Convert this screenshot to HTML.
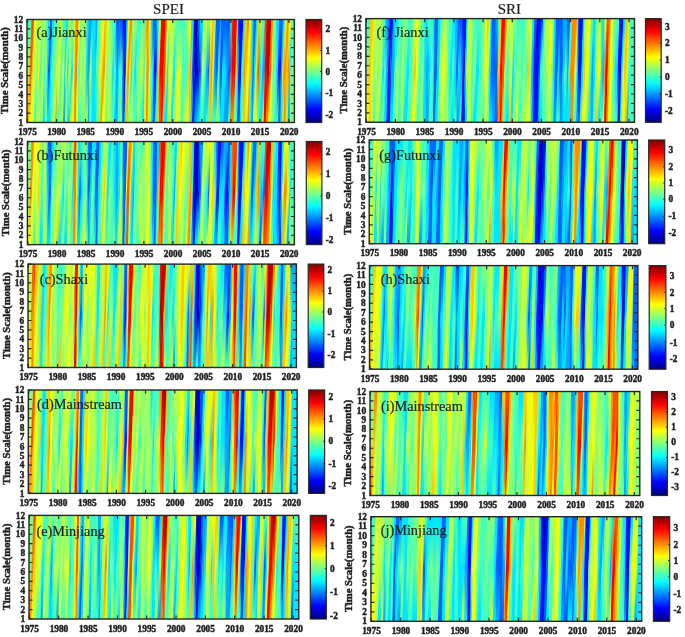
<!DOCTYPE html>
<html><head><meta charset="utf-8"><style>
html,body{margin:0;padding:0;background:#fff;}
body{width:685px;height:637px;overflow:hidden;position:relative;}
svg{position:absolute;left:0;top:0;filter:blur(0.3px);}
</style></head><body>
<svg width="685" height="637" viewBox="0 0 685 637">
<defs>
<filter id="bl" x="-5%" y="-5%" width="110%" height="110%"><feGaussianBlur stdDeviation="0.75"/></filter>
<filter id="tb" x="-5%" y="-5%" width="110%" height="110%"><feGaussianBlur stdDeviation="0.3"/></filter>
<linearGradient id="jet" x1="0" y1="1" x2="0" y2="0">

<stop offset="0.0000" stop-color="#000080"/>
<stop offset="0.0625" stop-color="#0000bf"/>
<stop offset="0.1250" stop-color="#0000ff"/>
<stop offset="0.1875" stop-color="#0040ff"/>
<stop offset="0.2500" stop-color="#0080ff"/>
<stop offset="0.3125" stop-color="#00bfff"/>
<stop offset="0.3750" stop-color="#00ffff"/>
<stop offset="0.4375" stop-color="#40ffbf"/>
<stop offset="0.5000" stop-color="#80ff80"/>
<stop offset="0.5625" stop-color="#bfff40"/>
<stop offset="0.6250" stop-color="#ffff00"/>
<stop offset="0.6875" stop-color="#ffbf00"/>
<stop offset="0.7500" stop-color="#ff8000"/>
<stop offset="0.8125" stop-color="#ff4000"/>
<stop offset="0.8750" stop-color="#ff0000"/>
<stop offset="0.9375" stop-color="#bf0000"/>
<stop offset="1.0000" stop-color="#800000"/>
</linearGradient>

<clipPath id="ca"><rect x="27" y="19.5" width="267.4" height="103"/></clipPath>
<linearGradient id="ga" gradientUnits="userSpaceOnUse" x1="0" y1="24" x2="0" y2="71"><stop offset="0" stop-color="#fff"/><stop offset="1" stop-color="#000"/></linearGradient>
<linearGradient id="ha" gradientUnits="userSpaceOnUse" x1="0" y1="71" x2="0" y2="118.5"><stop offset="0" stop-color="#000"/><stop offset="1" stop-color="#fff"/></linearGradient>
<mask id="na" maskUnits="userSpaceOnUse" x="0" y="0" width="685" height="637"><rect x="17" y="13.5" width="287.4" height="115" fill="url(#ha)"/></mask>
<mask id="ma" maskUnits="userSpaceOnUse" x="0" y="0" width="685" height="637"><rect x="17" y="13.5" width="287.4" height="115" fill="url(#ga)"/></mask>
<clipPath id="cb"><rect x="27.4" y="141.5" width="267" height="103.1"/></clipPath>
<linearGradient id="gb" gradientUnits="userSpaceOnUse" x1="0" y1="146" x2="0" y2="193.05"><stop offset="0" stop-color="#fff"/><stop offset="1" stop-color="#000"/></linearGradient>
<linearGradient id="hb" gradientUnits="userSpaceOnUse" x1="0" y1="193.05" x2="0" y2="240.6"><stop offset="0" stop-color="#000"/><stop offset="1" stop-color="#fff"/></linearGradient>
<mask id="nb" maskUnits="userSpaceOnUse" x="0" y="0" width="685" height="637"><rect x="17.4" y="135.5" width="287" height="115.1" fill="url(#hb)"/></mask>
<mask id="mb" maskUnits="userSpaceOnUse" x="0" y="0" width="685" height="637"><rect x="17.4" y="135.5" width="287" height="115.1" fill="url(#gb)"/></mask>
<clipPath id="cc"><rect x="28" y="264.1" width="268.4" height="103.4"/></clipPath>
<linearGradient id="gc" gradientUnits="userSpaceOnUse" x1="0" y1="268.6" x2="0" y2="315.8"><stop offset="0" stop-color="#fff"/><stop offset="1" stop-color="#000"/></linearGradient>
<linearGradient id="hc" gradientUnits="userSpaceOnUse" x1="0" y1="315.8" x2="0" y2="363.5"><stop offset="0" stop-color="#000"/><stop offset="1" stop-color="#fff"/></linearGradient>
<mask id="nc" maskUnits="userSpaceOnUse" x="0" y="0" width="685" height="637"><rect x="18" y="258.1" width="288.4" height="115.4" fill="url(#hc)"/></mask>
<mask id="mc" maskUnits="userSpaceOnUse" x="0" y="0" width="685" height="637"><rect x="18" y="258.1" width="288.4" height="115.4" fill="url(#gc)"/></mask>
<clipPath id="cd"><rect x="28.3" y="390" width="268.8" height="103.4"/></clipPath>
<linearGradient id="gd" gradientUnits="userSpaceOnUse" x1="0" y1="394.5" x2="0" y2="441.7"><stop offset="0" stop-color="#fff"/><stop offset="1" stop-color="#000"/></linearGradient>
<linearGradient id="hd" gradientUnits="userSpaceOnUse" x1="0" y1="441.7" x2="0" y2="489.4"><stop offset="0" stop-color="#000"/><stop offset="1" stop-color="#fff"/></linearGradient>
<mask id="nd" maskUnits="userSpaceOnUse" x="0" y="0" width="685" height="637"><rect x="18.3" y="384" width="288.8" height="115.4" fill="url(#hd)"/></mask>
<mask id="md" maskUnits="userSpaceOnUse" x="0" y="0" width="685" height="637"><rect x="18.3" y="384" width="288.8" height="115.4" fill="url(#gd)"/></mask>
<clipPath id="ce"><rect x="29" y="515.4" width="269.8" height="103.6"/></clipPath>
<linearGradient id="ge" gradientUnits="userSpaceOnUse" x1="0" y1="519.9" x2="0" y2="567.2"><stop offset="0" stop-color="#fff"/><stop offset="1" stop-color="#000"/></linearGradient>
<linearGradient id="he" gradientUnits="userSpaceOnUse" x1="0" y1="567.2" x2="0" y2="615"><stop offset="0" stop-color="#000"/><stop offset="1" stop-color="#fff"/></linearGradient>
<mask id="ne" maskUnits="userSpaceOnUse" x="0" y="0" width="685" height="637"><rect x="19" y="509.4" width="289.8" height="115.6" fill="url(#he)"/></mask>
<mask id="me" maskUnits="userSpaceOnUse" x="0" y="0" width="685" height="637"><rect x="19" y="509.4" width="289.8" height="115.6" fill="url(#ge)"/></mask>
<clipPath id="cf"><rect x="365.9" y="18.6" width="268.6" height="103.7"/></clipPath>
<linearGradient id="gf" gradientUnits="userSpaceOnUse" x1="0" y1="23.1" x2="0" y2="70.45"><stop offset="0" stop-color="#fff"/><stop offset="1" stop-color="#000"/></linearGradient>
<linearGradient id="hf" gradientUnits="userSpaceOnUse" x1="0" y1="70.45" x2="0" y2="118.3"><stop offset="0" stop-color="#000"/><stop offset="1" stop-color="#fff"/></linearGradient>
<mask id="nf" maskUnits="userSpaceOnUse" x="0" y="0" width="685" height="637"><rect x="355.9" y="12.6" width="288.6" height="115.7" fill="url(#hf)"/></mask>
<mask id="mf" maskUnits="userSpaceOnUse" x="0" y="0" width="685" height="637"><rect x="355.9" y="12.6" width="288.6" height="115.7" fill="url(#gf)"/></mask>
<clipPath id="cg"><rect x="369.2" y="140" width="268.2" height="103.7"/></clipPath>
<linearGradient id="gg" gradientUnits="userSpaceOnUse" x1="0" y1="144.5" x2="0" y2="191.85"><stop offset="0" stop-color="#fff"/><stop offset="1" stop-color="#000"/></linearGradient>
<linearGradient id="hg" gradientUnits="userSpaceOnUse" x1="0" y1="191.85" x2="0" y2="239.7"><stop offset="0" stop-color="#000"/><stop offset="1" stop-color="#fff"/></linearGradient>
<mask id="ng" maskUnits="userSpaceOnUse" x="0" y="0" width="685" height="637"><rect x="359.2" y="134" width="288.2" height="115.7" fill="url(#hg)"/></mask>
<mask id="mg" maskUnits="userSpaceOnUse" x="0" y="0" width="685" height="637"><rect x="359.2" y="134" width="288.2" height="115.7" fill="url(#gg)"/></mask>
<clipPath id="ch"><rect x="369.5" y="265.6" width="268.4" height="103.6"/></clipPath>
<linearGradient id="gh" gradientUnits="userSpaceOnUse" x1="0" y1="270.1" x2="0" y2="317.4"><stop offset="0" stop-color="#fff"/><stop offset="1" stop-color="#000"/></linearGradient>
<linearGradient id="hh" gradientUnits="userSpaceOnUse" x1="0" y1="317.4" x2="0" y2="365.2"><stop offset="0" stop-color="#000"/><stop offset="1" stop-color="#fff"/></linearGradient>
<mask id="nh" maskUnits="userSpaceOnUse" x="0" y="0" width="685" height="637"><rect x="359.5" y="259.6" width="288.4" height="115.6" fill="url(#hh)"/></mask>
<mask id="mh" maskUnits="userSpaceOnUse" x="0" y="0" width="685" height="637"><rect x="359.5" y="259.6" width="288.4" height="115.6" fill="url(#gh)"/></mask>
<clipPath id="ci"><rect x="370" y="391.5" width="269.8" height="104"/></clipPath>
<linearGradient id="gi" gradientUnits="userSpaceOnUse" x1="0" y1="396" x2="0" y2="443.5"><stop offset="0" stop-color="#fff"/><stop offset="1" stop-color="#000"/></linearGradient>
<linearGradient id="hi" gradientUnits="userSpaceOnUse" x1="0" y1="443.5" x2="0" y2="491.5"><stop offset="0" stop-color="#000"/><stop offset="1" stop-color="#fff"/></linearGradient>
<mask id="ni" maskUnits="userSpaceOnUse" x="0" y="0" width="685" height="637"><rect x="360" y="385.5" width="289.8" height="116" fill="url(#hi)"/></mask>
<mask id="mi" maskUnits="userSpaceOnUse" x="0" y="0" width="685" height="637"><rect x="360" y="385.5" width="289.8" height="116" fill="url(#gi)"/></mask>
<clipPath id="cj"><rect x="370.9" y="516.7" width="270.8" height="104.6"/></clipPath>
<linearGradient id="gj" gradientUnits="userSpaceOnUse" x1="0" y1="521.2" x2="0" y2="569"><stop offset="0" stop-color="#fff"/><stop offset="1" stop-color="#000"/></linearGradient>
<linearGradient id="hj" gradientUnits="userSpaceOnUse" x1="0" y1="569" x2="0" y2="617.3"><stop offset="0" stop-color="#000"/><stop offset="1" stop-color="#fff"/></linearGradient>
<mask id="nj" maskUnits="userSpaceOnUse" x="0" y="0" width="685" height="637"><rect x="360.9" y="510.7" width="290.8" height="116.6" fill="url(#hj)"/></mask>
<mask id="mj" maskUnits="userSpaceOnUse" x="0" y="0" width="685" height="637"><rect x="360.9" y="510.7" width="290.8" height="116.6" fill="url(#gj)"/></mask>
</defs>

<g clip-path="url(#ca)"><g filter="url(#bl)">
<g transform="translate(0 71) skewX(-1.78) translate(0 -71)"><rect x="19" y="15.5" width="10.5" height="111" fill="#bdff42"/><rect x="29.2" y="15.5" width="1.5" height="111" fill="#ff8a00"/><rect x="30.4" y="15.5" width="1.6" height="111" fill="#ff4c00"/><rect x="31.7" y="15.5" width="1.5" height="111" fill="#ffc700"/><rect x="32.9" y="15.5" width="3.7" height="111" fill="#bdff42"/><rect x="36.3" y="15.5" width="1.8" height="111" fill="#80ff80"/><rect x="37.8" y="15.5" width="1.7" height="111" fill="#f0ff0f"/><rect x="39.2" y="15.5" width="2.8" height="111" fill="#42ffbd"/><rect x="41.7" y="15.5" width="2.2" height="111" fill="#bdff42"/><rect x="43.6" y="15.5" width="1.8" height="111" fill="#42ffbd"/><rect x="45.1" y="15.5" width="1.8" height="111" fill="#bdff42"/><rect x="46.6" y="15.5" width="1.7" height="111" fill="#00e5ff"/><rect x="48" y="15.5" width="2.3" height="111" fill="#0061ff"/><rect x="50" y="15.5" width="1.8" height="111" fill="#00e5ff"/><rect x="51.5" y="15.5" width="2.2" height="111" fill="#42ffbd"/><rect x="53.4" y="15.5" width="3.3" height="111" fill="#80ff80"/><rect x="56.4" y="15.5" width="2.2" height="111" fill="#bdff42"/><rect x="58.3" y="15.5" width="2.3" height="111" fill="#f0ff0f"/><rect x="60.3" y="15.5" width="2.2" height="111" fill="#42ffbd"/><rect x="62.2" y="15.5" width="2.3" height="111" fill="#bdff42"/><rect x="64.2" y="15.5" width="1.7" height="111" fill="#00e5ff"/><rect x="65.6" y="15.5" width="1.8" height="111" fill="#bdff42"/><rect x="67.1" y="15.5" width="1.8" height="111" fill="#00e5ff"/><rect x="68.6" y="15.5" width="2.7" height="111" fill="#bdff42"/><rect x="71" y="15.5" width="2.3" height="111" fill="#00e5ff"/><rect x="73" y="15.5" width="1.8" height="111" fill="#f0ff0f"/><rect x="74.5" y="15.5" width="2" height="111" fill="#ff8a00"/><rect x="76.2" y="15.5" width="1.1" height="111" fill="#ff4c00"/><rect x="77" y="15.5" width="1.3" height="111" fill="#f0ff0f"/><rect x="78" y="15.5" width="2.3" height="111" fill="#42ffbd"/><rect x="80" y="15.5" width="2.1" height="111" fill="#bdff42"/><rect x="81.8" y="15.5" width="2.3" height="111" fill="#80ff80"/><rect x="83.8" y="15.5" width="2.2" height="111" fill="#bdff42"/><rect x="85.7" y="15.5" width="1.8" height="111" fill="#00e5ff"/><rect x="87.2" y="15.5" width="2.7" height="111" fill="#00a8ff"/><rect x="89.6" y="15.5" width="2.2" height="111" fill="#bdff42"/><rect x="91.5" y="15.5" width="2.8" height="111" fill="#00e5ff"/><rect x="94" y="15.5" width="2.3" height="111" fill="#00e5ff"/><rect x="96" y="15.5" width="2.7" height="111" fill="#42ffbd"/><rect x="98.4" y="15.5" width="1.9" height="111" fill="#bdff42"/><rect x="100" y="15.5" width="1.6" height="111" fill="#f0ff0f"/><rect x="101.3" y="15.5" width="1.8" height="111" fill="#ffc700"/><rect x="102.8" y="15.5" width="2.3" height="111" fill="#ff8a00"/><rect x="104.8" y="15.5" width="1.7" height="111" fill="#f0ff0f"/><rect x="106.2" y="15.5" width="2.8" height="111" fill="#80ff80"/><rect x="108.7" y="15.5" width="1.8" height="111" fill="#bdff42"/><rect x="110.2" y="15.5" width="2.2" height="111" fill="#80ff80"/><rect x="112.1" y="15.5" width="2.2" height="111" fill="#00e5ff"/><rect x="114" y="15.5" width="2.3" height="111" fill="#42ffbd"/><rect x="116" y="15.5" width="2.3" height="111" fill="#00a8ff"/><rect x="118" y="15.5" width="1.7" height="111" fill="#00e5ff"/><rect x="119.4" y="15.5" width="3.3" height="111" fill="#42ffbd"/><rect x="122.4" y="15.5" width="1.7" height="111" fill="#0061ff"/><rect x="123.8" y="15.5" width="2.3" height="111" fill="#000fff"/><rect x="125.8" y="15.5" width="1.8" height="111" fill="#f0ff0f"/><rect x="127.3" y="15.5" width="2.2" height="111" fill="#ff8a00"/><rect x="129.2" y="15.5" width="1.8" height="111" fill="#f0ff0f"/><rect x="130.7" y="15.5" width="1.8" height="111" fill="#00e5ff"/><rect x="132.2" y="15.5" width="2.2" height="111" fill="#80ff80"/><rect x="134.1" y="15.5" width="2.3" height="111" fill="#00e5ff"/><rect x="136.1" y="15.5" width="2.2" height="111" fill="#42ffbd"/><rect x="138" y="15.5" width="2.3" height="111" fill="#80ff80"/><rect x="140" y="15.5" width="3.3" height="111" fill="#bdff42"/><rect x="143" y="15.5" width="2.2" height="111" fill="#42ffbd"/><rect x="144.9" y="15.5" width="1.8" height="111" fill="#f0ff0f"/><rect x="146.4" y="15.5" width="2.7" height="111" fill="#ff8a00"/><rect x="148.8" y="15.5" width="1.8" height="111" fill="#f0ff0f"/><rect x="150.3" y="15.5" width="2.2" height="111" fill="#42ffbd"/><rect x="152.2" y="15.5" width="1.8" height="111" fill="#00e5ff"/><rect x="153.7" y="15.5" width="3.2" height="111" fill="#000fff"/><rect x="156.6" y="15.5" width="1.8" height="111" fill="#00e5ff"/><rect x="158.1" y="15.5" width="1.6" height="111" fill="#ffc700"/><rect x="159.4" y="15.5" width="1.9" height="111" fill="#fa0000"/><rect x="161" y="15.5" width="2.7" height="111" fill="#fa0000"/><rect x="163.4" y="15.5" width="2.3" height="111" fill="#ff4c00"/><rect x="165.4" y="15.5" width="1.8" height="111" fill="#bdff42"/><rect x="166.9" y="15.5" width="1.7" height="111" fill="#00e5ff"/><rect x="168.3" y="15.5" width="2.3" height="111" fill="#bdff42"/><rect x="170.3" y="15.5" width="1.8" height="111" fill="#f0ff0f"/><rect x="171.8" y="15.5" width="1.7" height="111" fill="#80ff80"/><rect x="173.2" y="15.5" width="2.3" height="111" fill="#00e5ff"/><rect x="175.2" y="15.5" width="1.8" height="111" fill="#80ff80"/><rect x="176.7" y="15.5" width="2.7" height="111" fill="#f0ff0f"/><rect x="179.1" y="15.5" width="2.7" height="111" fill="#bdff42"/><rect x="181.5" y="15.5" width="7.2" height="111" fill="#42ffbd"/><rect x="188.4" y="15.5" width="1.8" height="111" fill="#ffc700"/><rect x="189.9" y="15.5" width="1.2" height="111" fill="#ff8a00"/><rect x="190.8" y="15.5" width="1.5" height="111" fill="#42ffbd"/><rect x="192" y="15.5" width="1.3" height="111" fill="#0061ff"/><rect x="193" y="15.5" width="1.8" height="111" fill="#000fff"/><rect x="194.5" y="15.5" width="4" height="111" fill="#0000bd"/><rect x="198.2" y="15.5" width="1.8" height="111" fill="#000fff"/><rect x="199.7" y="15.5" width="1.6" height="111" fill="#0061ff"/><rect x="201" y="15.5" width="1.3" height="111" fill="#00e5ff"/><rect x="202" y="15.5" width="2.4" height="111" fill="#bdff42"/><rect x="204.1" y="15.5" width="2.2" height="111" fill="#42ffbd"/><rect x="206" y="15.5" width="2.3" height="111" fill="#00a8ff"/><rect x="208" y="15.5" width="1.7" height="111" fill="#0061ff"/><rect x="209.4" y="15.5" width="1.8" height="111" fill="#ffc700"/><rect x="210.9" y="15.5" width="1.8" height="111" fill="#ff8a00"/><rect x="212.4" y="15.5" width="1.7" height="111" fill="#f0ff0f"/><rect x="213.8" y="15.5" width="1.8" height="111" fill="#00a8ff"/><rect x="215.3" y="15.5" width="2.8" height="111" fill="#0061ff"/><rect x="217.8" y="15.5" width="2.2" height="111" fill="#42ffbd"/><rect x="219.7" y="15.5" width="2.8" height="111" fill="#0061ff"/><rect x="222.2" y="15.5" width="3.7" height="111" fill="#00e5ff"/><rect x="225.6" y="15.5" width="2.7" height="111" fill="#00a8ff"/><rect x="228" y="15.5" width="2.9" height="111" fill="#0061ff"/><rect x="230.6" y="15.5" width="1.3" height="111" fill="#ff4c00"/><rect x="231.6" y="15.5" width="4.2" height="111" fill="#fa0000"/><rect x="235.5" y="15.5" width="1.6" height="111" fill="#ffc700"/><rect x="236.8" y="15.5" width="1.8" height="111" fill="#00e5ff"/><rect x="238.3" y="15.5" width="3.2" height="111" fill="#000fff"/><rect x="241.2" y="15.5" width="2.8" height="111" fill="#42ffbd"/><rect x="243.7" y="15.5" width="1.7" height="111" fill="#ff8a00"/><rect x="245.1" y="15.5" width="1.8" height="111" fill="#ffc700"/><rect x="246.6" y="15.5" width="2.7" height="111" fill="#f0ff0f"/><rect x="249" y="15.5" width="2.3" height="111" fill="#ffc700"/><rect x="251" y="15.5" width="1.8" height="111" fill="#00e5ff"/><rect x="252.5" y="15.5" width="1.7" height="111" fill="#0061ff"/><rect x="253.9" y="15.5" width="1.8" height="111" fill="#00e5ff"/><rect x="255.4" y="15.5" width="1.8" height="111" fill="#bdff42"/><rect x="256.9" y="15.5" width="1.2" height="111" fill="#ff8a00"/><rect x="257.8" y="15.5" width="1.8" height="111" fill="#ff4c00"/><rect x="259.3" y="15.5" width="1.8" height="111" fill="#00e5ff"/><rect x="260.8" y="15.5" width="1.7" height="111" fill="#42ffbd"/><rect x="262.2" y="15.5" width="2.8" height="111" fill="#00a8ff"/><rect x="264.7" y="15.5" width="2.2" height="111" fill="#fa0000"/><rect x="266.6" y="15.5" width="2.8" height="111" fill="#bd0000"/><rect x="269.1" y="15.5" width="2.2" height="111" fill="#ff4c00"/><rect x="271" y="15.5" width="1.8" height="111" fill="#f0ff0f"/><rect x="272.5" y="15.5" width="1.8" height="111" fill="#42ffbd"/><rect x="274" y="15.5" width="2.3" height="111" fill="#80ff80"/><rect x="276" y="15.5" width="2.2" height="111" fill="#00e5ff"/><rect x="277.9" y="15.5" width="3.2" height="111" fill="#000fff"/><rect x="280.8" y="15.5" width="1.8" height="111" fill="#00a8ff"/><rect x="282.3" y="15.5" width="1.3" height="111" fill="#f0ff0f"/><rect x="283.3" y="15.5" width="2.7" height="111" fill="#ff8a00"/><rect x="285.7" y="15.5" width="2.3" height="111" fill="#ffc700"/><rect x="287.7" y="15.5" width="1.8" height="111" fill="#ff8a00"/><rect x="289.2" y="15.5" width="1.7" height="111" fill="#00e5ff"/><rect x="290.6" y="15.5" width="12.1" height="111" fill="#80ff80"/></g>
<g mask="url(#ma)">
<g transform="translate(0 24) skewX(-1.78) translate(0 -24)"><rect x="19" y="15.5" width="12.7" height="111" fill="#42ffbd"/><rect x="31.4" y="15.5" width="2.7" height="111" fill="#ff4c00"/><rect x="33.8" y="15.5" width="2.3" height="111" fill="#f0ff0f"/><rect x="35.8" y="15.5" width="6.2" height="111" fill="#bdff42"/><rect x="41.7" y="15.5" width="2.7" height="111" fill="#80ff80"/><rect x="44.1" y="15.5" width="2.2" height="111" fill="#bdff42"/><rect x="46" y="15.5" width="2.3" height="111" fill="#42ffbd"/><rect x="48" y="15.5" width="2.3" height="111" fill="#00e5ff"/><rect x="50" y="15.5" width="2.3" height="111" fill="#0061ff"/><rect x="52" y="15.5" width="2.2" height="111" fill="#00e5ff"/><rect x="53.9" y="15.5" width="2.8" height="111" fill="#42ffbd"/><rect x="56.4" y="15.5" width="3.2" height="111" fill="#80ff80"/><rect x="59.3" y="15.5" width="2.3" height="111" fill="#bdff42"/><rect x="61.3" y="15.5" width="2.2" height="111" fill="#80ff80"/><rect x="63.2" y="15.5" width="3.2" height="111" fill="#42ffbd"/><rect x="66.1" y="15.5" width="2.3" height="111" fill="#00e5ff"/><rect x="68.1" y="15.5" width="3.2" height="111" fill="#bdff42"/><rect x="71" y="15.5" width="2.3" height="111" fill="#42ffbd"/><rect x="73" y="15.5" width="2.7" height="111" fill="#f0ff0f"/><rect x="75.4" y="15.5" width="3.3" height="111" fill="#ff8a00"/><rect x="78.4" y="15.5" width="2.2" height="111" fill="#f0ff0f"/><rect x="80.3" y="15.5" width="2.8" height="111" fill="#80ff80"/><rect x="82.8" y="15.5" width="2.2" height="111" fill="#bdff42"/><rect x="84.7" y="15.5" width="2.3" height="111" fill="#80ff80"/><rect x="86.7" y="15.5" width="2.2" height="111" fill="#00e5ff"/><rect x="88.6" y="15.5" width="3.3" height="111" fill="#00a8ff"/><rect x="91.6" y="15.5" width="2.7" height="111" fill="#00e5ff"/><rect x="94" y="15.5" width="1.8" height="111" fill="#00e5ff"/><rect x="95.5" y="15.5" width="2.2" height="111" fill="#00a8ff"/><rect x="97.4" y="15.5" width="2.8" height="111" fill="#42ffbd"/><rect x="99.9" y="15.5" width="3.2" height="111" fill="#bdff42"/><rect x="102.8" y="15.5" width="2" height="111" fill="#f0ff0f"/><rect x="104.5" y="15.5" width="2.5" height="111" fill="#ffc700"/><rect x="106.7" y="15.5" width="3.3" height="111" fill="#bdff42"/><rect x="109.7" y="15.5" width="2.6" height="111" fill="#80ff80"/><rect x="112" y="15.5" width="4.3" height="111" fill="#42ffbd"/><rect x="116" y="15.5" width="3.7" height="111" fill="#0061ff"/><rect x="119.4" y="15.5" width="3.3" height="111" fill="#0061ff"/><rect x="122.4" y="15.5" width="4.2" height="111" fill="#000fff"/><rect x="126.3" y="15.5" width="2" height="111" fill="#00e5ff"/><rect x="128" y="15.5" width="2" height="111" fill="#f0ff0f"/><rect x="129.7" y="15.5" width="2.8" height="111" fill="#ff8a00"/><rect x="132.2" y="15.5" width="2.2" height="111" fill="#bdff42"/><rect x="134.1" y="15.5" width="3.2" height="111" fill="#80ff80"/><rect x="137" y="15.5" width="4.3" height="111" fill="#42ffbd"/><rect x="141" y="15.5" width="2.3" height="111" fill="#80ff80"/><rect x="143" y="15.5" width="2.2" height="111" fill="#42ffbd"/><rect x="144.9" y="15.5" width="1.8" height="111" fill="#ffc700"/><rect x="146.4" y="15.5" width="2.7" height="111" fill="#ff8a00"/><rect x="148.8" y="15.5" width="2.3" height="111" fill="#f0ff0f"/><rect x="150.8" y="15.5" width="2.2" height="111" fill="#00e5ff"/><rect x="152.7" y="15.5" width="4.2" height="111" fill="#0061ff"/><rect x="156.6" y="15.5" width="2.3" height="111" fill="#00e5ff"/><rect x="158.6" y="15.5" width="2.7" height="111" fill="#bdff42"/><rect x="161" y="15.5" width="4.7" height="111" fill="#fa0000"/><rect x="165.4" y="15.5" width="1.8" height="111" fill="#ff8a00"/><rect x="166.9" y="15.5" width="2.2" height="111" fill="#f0ff0f"/><rect x="168.8" y="15.5" width="5.2" height="111" fill="#bdff42"/><rect x="173.7" y="15.5" width="3.3" height="111" fill="#80ff80"/><rect x="176.7" y="15.5" width="4.2" height="111" fill="#42ffbd"/><rect x="180.6" y="15.5" width="4.7" height="111" fill="#42ffbd"/><rect x="185" y="15.5" width="3.7" height="111" fill="#80ff80"/><rect x="188.4" y="15.5" width="3.2" height="111" fill="#f0ff0f"/><rect x="191.3" y="15.5" width="2.8" height="111" fill="#00e5ff"/><rect x="193.8" y="15.5" width="4.2" height="111" fill="#0000bd"/><rect x="197.7" y="15.5" width="2.3" height="111" fill="#0061ff"/><rect x="199.7" y="15.5" width="3.7" height="111" fill="#00e5ff"/><rect x="203.1" y="15.5" width="4.2" height="111" fill="#bdff42"/><rect x="207" y="15.5" width="3.3" height="111" fill="#80ff80"/><rect x="210" y="15.5" width="2.2" height="111" fill="#f0ff0f"/><rect x="211.9" y="15.5" width="2.7" height="111" fill="#ffc700"/><rect x="214.3" y="15.5" width="1.8" height="111" fill="#80ff80"/><rect x="215.8" y="15.5" width="4.5" height="111" fill="#0061ff"/><rect x="220" y="15.5" width="1.3" height="111" fill="#00a8ff"/><rect x="221" y="15.5" width="7.3" height="111" fill="#0061ff"/><rect x="228" y="15.5" width="2.3" height="111" fill="#0061ff"/><rect x="230" y="15.5" width="1.3" height="111" fill="#00e5ff"/><rect x="231" y="15.5" width="1.7" height="111" fill="#ff8a00"/><rect x="232.4" y="15.5" width="4.7" height="111" fill="#fa0000"/><rect x="236.8" y="15.5" width="1" height="111" fill="#f0ff0f"/><rect x="237.5" y="15.5" width="1.1" height="111" fill="#00e5ff"/><rect x="238.3" y="15.5" width="5.2" height="111" fill="#000fff"/><rect x="243.2" y="15.5" width="1.7" height="111" fill="#00e5ff"/><rect x="244.6" y="15.5" width="2.8" height="111" fill="#ffc700"/><rect x="247.1" y="15.5" width="2.2" height="111" fill="#ff8a00"/><rect x="249" y="15.5" width="2.8" height="111" fill="#f0ff0f"/><rect x="251.5" y="15.5" width="2.2" height="111" fill="#00e5ff"/><rect x="253.4" y="15.5" width="2.8" height="111" fill="#0061ff"/><rect x="255.9" y="15.5" width="1.8" height="111" fill="#00e5ff"/><rect x="257.4" y="15.5" width="3.2" height="111" fill="#ffc700"/><rect x="260.3" y="15.5" width="1.8" height="111" fill="#bdff42"/><rect x="261.8" y="15.5" width="3.2" height="111" fill="#42ffbd"/><rect x="264.7" y="15.5" width="2.2" height="111" fill="#ff4c00"/><rect x="266.6" y="15.5" width="4.7" height="111" fill="#bd0000"/><rect x="271" y="15.5" width="2.3" height="111" fill="#ff8a00"/><rect x="273" y="15.5" width="3.3" height="111" fill="#80ff80"/><rect x="276" y="15.5" width="3.2" height="111" fill="#00e5ff"/><rect x="278.9" y="15.5" width="4.2" height="111" fill="#0061ff"/><rect x="282.8" y="15.5" width="2.2" height="111" fill="#00e5ff"/><rect x="284.7" y="15.5" width="2.3" height="111" fill="#f0ff0f"/><rect x="286.7" y="15.5" width="2.3" height="111" fill="#ff8a00"/><rect x="288.7" y="15.5" width="2.6" height="111" fill="#f0ff0f"/><rect x="291" y="15.5" width="11.7" height="111" fill="#42ffbd"/></g>
</g>
<g mask="url(#na)">
<g transform="translate(0 118.5) skewX(-1.78) translate(0 -118.5)"><rect x="19" y="15.5" width="10.7" height="111" fill="#ffc700"/><rect x="29.4" y="15.5" width="4.7" height="111" fill="#f0ff0f"/><rect x="33.8" y="15.5" width="2.8" height="111" fill="#42ffbd"/><rect x="36.3" y="15.5" width="3.7" height="111" fill="#bdff42"/><rect x="39.7" y="15.5" width="1.8" height="111" fill="#80ff80"/><rect x="41.2" y="15.5" width="1.8" height="111" fill="#bdff42"/><rect x="42.7" y="15.5" width="2.7" height="111" fill="#00e5ff"/><rect x="45.1" y="15.5" width="1.8" height="111" fill="#bdff42"/><rect x="46.6" y="15.5" width="4.2" height="111" fill="#00e5ff"/><rect x="50.5" y="15.5" width="2.2" height="111" fill="#42ffbd"/><rect x="52.4" y="15.5" width="3.3" height="111" fill="#bdff42"/><rect x="55.4" y="15.5" width="1.3" height="111" fill="#ff8a00"/><rect x="56.4" y="15.5" width="3.2" height="111" fill="#42ffbd"/><rect x="59.3" y="15.5" width="2.3" height="111" fill="#80ff80"/><rect x="61.3" y="15.5" width="2.2" height="111" fill="#bdff42"/><rect x="63.2" y="15.5" width="2.3" height="111" fill="#00a8ff"/><rect x="65.2" y="15.5" width="2.2" height="111" fill="#bdff42"/><rect x="67.1" y="15.5" width="3.3" height="111" fill="#00e5ff"/><rect x="70.1" y="15.5" width="2.2" height="111" fill="#bdff42"/><rect x="72" y="15.5" width="2.3" height="111" fill="#f0ff0f"/><rect x="74" y="15.5" width="2.2" height="111" fill="#ff8a00"/><rect x="75.9" y="15.5" width="2.3" height="111" fill="#f0ff0f"/><rect x="77.9" y="15.5" width="3.2" height="111" fill="#42ffbd"/><rect x="80.8" y="15.5" width="5.2" height="111" fill="#80ff80"/><rect x="85.7" y="15.5" width="2.3" height="111" fill="#bdff42"/><rect x="87.7" y="15.5" width="1.7" height="111" fill="#00a8ff"/><rect x="89.1" y="15.5" width="2.8" height="111" fill="#42ffbd"/><rect x="91.6" y="15.5" width="2.7" height="111" fill="#00e5ff"/><rect x="94" y="15.5" width="2.3" height="111" fill="#00e5ff"/><rect x="96" y="15.5" width="2.3" height="111" fill="#42ffbd"/><rect x="98" y="15.5" width="2.7" height="111" fill="#80ff80"/><rect x="100.4" y="15.5" width="1.7" height="111" fill="#ff8a00"/><rect x="101.8" y="15.5" width="3.3" height="111" fill="#f0ff0f"/><rect x="104.8" y="15.5" width="3.2" height="111" fill="#80ff80"/><rect x="107.7" y="15.5" width="2.3" height="111" fill="#bdff42"/><rect x="109.7" y="15.5" width="2.2" height="111" fill="#80ff80"/><rect x="111.6" y="15.5" width="2.7" height="111" fill="#42ffbd"/><rect x="114" y="15.5" width="1.8" height="111" fill="#00e5ff"/><rect x="115.5" y="15.5" width="2.3" height="111" fill="#00a8ff"/><rect x="117.5" y="15.5" width="2.2" height="111" fill="#42ffbd"/><rect x="119.4" y="15.5" width="2.8" height="111" fill="#80ff80"/><rect x="121.9" y="15.5" width="1.3" height="111" fill="#00a8ff"/><rect x="122.9" y="15.5" width="1.7" height="111" fill="#000fff"/><rect x="124.3" y="15.5" width="1.8" height="111" fill="#00e5ff"/><rect x="125.8" y="15.5" width="2.3" height="111" fill="#ffc700"/><rect x="127.8" y="15.5" width="2.2" height="111" fill="#80ff80"/><rect x="129.7" y="15.5" width="2.3" height="111" fill="#bdff42"/><rect x="131.7" y="15.5" width="2.7" height="111" fill="#80ff80"/><rect x="134.1" y="15.5" width="3.2" height="111" fill="#42ffbd"/><rect x="137" y="15.5" width="2.3" height="111" fill="#bdff42"/><rect x="139" y="15.5" width="3.3" height="111" fill="#42ffbd"/><rect x="142" y="15.5" width="2.2" height="111" fill="#00e5ff"/><rect x="143.9" y="15.5" width="2.3" height="111" fill="#f0ff0f"/><rect x="145.9" y="15.5" width="2.2" height="111" fill="#ff8a00"/><rect x="147.8" y="15.5" width="3.3" height="111" fill="#bdff42"/><rect x="150.8" y="15.5" width="2.2" height="111" fill="#00e5ff"/><rect x="152.7" y="15.5" width="2.8" height="111" fill="#0061ff"/><rect x="155.2" y="15.5" width="2.7" height="111" fill="#42ffbd"/><rect x="157.6" y="15.5" width="1.8" height="111" fill="#ffc700"/><rect x="159.1" y="15.5" width="2.2" height="111" fill="#ff4c00"/><rect x="161" y="15.5" width="1.8" height="111" fill="#fa0000"/><rect x="162.5" y="15.5" width="1.8" height="111" fill="#ffc700"/><rect x="164" y="15.5" width="3.7" height="111" fill="#00e5ff"/><rect x="167.4" y="15.5" width="3.7" height="111" fill="#bdff42"/><rect x="170.8" y="15.5" width="2.2" height="111" fill="#00e5ff"/><rect x="172.7" y="15.5" width="2.8" height="111" fill="#80ff80"/><rect x="175.2" y="15.5" width="2.7" height="111" fill="#f0ff0f"/><rect x="177.6" y="15.5" width="3.3" height="111" fill="#bdff42"/><rect x="180.6" y="15.5" width="3.2" height="111" fill="#42ffbd"/><rect x="183.5" y="15.5" width="3.2" height="111" fill="#bdff42"/><rect x="186.4" y="15.5" width="2.3" height="111" fill="#f0ff0f"/><rect x="188.4" y="15.5" width="2.3" height="111" fill="#ffc700"/><rect x="190.4" y="15.5" width="2.2" height="111" fill="#00e5ff"/><rect x="192.3" y="15.5" width="2.3" height="111" fill="#000fff"/><rect x="194.3" y="15.5" width="3.2" height="111" fill="#00a8ff"/><rect x="197.2" y="15.5" width="3.2" height="111" fill="#00e5ff"/><rect x="200.1" y="15.5" width="3.3" height="111" fill="#42ffbd"/><rect x="203.1" y="15.5" width="3.2" height="111" fill="#00e5ff"/><rect x="206" y="15.5" width="3.3" height="111" fill="#42ffbd"/><rect x="209" y="15.5" width="3.2" height="111" fill="#ffc700"/><rect x="211.9" y="15.5" width="4.2" height="111" fill="#42ffbd"/><rect x="215.8" y="15.5" width="4.2" height="111" fill="#80ff80"/><rect x="219.7" y="15.5" width="4.2" height="111" fill="#00e5ff"/><rect x="223.6" y="15.5" width="4.7" height="111" fill="#00a8ff"/><rect x="228" y="15.5" width="2.7" height="111" fill="#42ffbd"/><rect x="230.4" y="15.5" width="3.3" height="111" fill="#ff8a00"/><rect x="233.4" y="15.5" width="2.4" height="111" fill="#80ff80"/><rect x="235.5" y="15.5" width="2.1" height="111" fill="#42ffbd"/><rect x="237.3" y="15.5" width="2.7" height="111" fill="#0061ff"/><rect x="239.7" y="15.5" width="1.6" height="111" fill="#00e5ff"/><rect x="241" y="15.5" width="2" height="111" fill="#80ff80"/><rect x="242.7" y="15.5" width="2.7" height="111" fill="#ffc700"/><rect x="245.1" y="15.5" width="2.8" height="111" fill="#bdff42"/><rect x="247.6" y="15.5" width="1.7" height="111" fill="#ff8a00"/><rect x="249" y="15.5" width="1.8" height="111" fill="#42ffbd"/><rect x="250.5" y="15.5" width="1.3" height="111" fill="#00e5ff"/><rect x="251.5" y="15.5" width="1.8" height="111" fill="#00a8ff"/><rect x="253" y="15.5" width="2.3" height="111" fill="#bdff42"/><rect x="255" y="15.5" width="2.7" height="111" fill="#f0ff0f"/><rect x="257.4" y="15.5" width="2.2" height="111" fill="#42ffbd"/><rect x="259.3" y="15.5" width="3.2" height="111" fill="#00e5ff"/><rect x="262.2" y="15.5" width="1.8" height="111" fill="#f0ff0f"/><rect x="263.7" y="15.5" width="2.3" height="111" fill="#fa0000"/><rect x="265.7" y="15.5" width="2.7" height="111" fill="#ff8a00"/><rect x="268.1" y="15.5" width="2.2" height="111" fill="#f0ff0f"/><rect x="270" y="15.5" width="2.3" height="111" fill="#bdff42"/><rect x="272" y="15.5" width="2.3" height="111" fill="#80ff80"/><rect x="274" y="15.5" width="2.7" height="111" fill="#42ffbd"/><rect x="276.4" y="15.5" width="2.3" height="111" fill="#42ffbd"/><rect x="278.4" y="15.5" width="2.2" height="111" fill="#0061ff"/><rect x="280.3" y="15.5" width="2.3" height="111" fill="#00e5ff"/><rect x="282.3" y="15.5" width="1.5" height="111" fill="#f0ff0f"/><rect x="283.5" y="15.5" width="2.5" height="111" fill="#ff8a00"/><rect x="285.7" y="15.5" width="2.3" height="111" fill="#bdff42"/><rect x="287.7" y="15.5" width="2.2" height="111" fill="#00a8ff"/><rect x="289.6" y="15.5" width="13.1" height="111" fill="#80ff80"/></g>
</g>
</g></g>

<rect x="27" y="19.5" width="267.4" height="103" fill="none" stroke="#262626" stroke-width="1.4"/>
<path d="M27 122.5h3.5M294.4 122.5h-3.5M27 113.14h3.5M294.4 113.14h-3.5M27 103.77h3.5M294.4 103.77h-3.5M27 94.41h3.5M294.4 94.41h-3.5M27 85.05h3.5M294.4 85.05h-3.5M27 75.68h3.5M294.4 75.68h-3.5M27 66.32h3.5M294.4 66.32h-3.5M27 56.95h3.5M294.4 56.95h-3.5M27 47.59h3.5M294.4 47.59h-3.5M27 38.23h3.5M294.4 38.23h-3.5M27 28.86h3.5M294.4 28.86h-3.5M27 19.5h3.5M294.4 19.5h-3.5M27.4 122.5v-3.6M27.4 19.5v3.6M56.47 122.5v-3.6M56.47 19.5v3.6M85.53 122.5v-3.6M85.53 19.5v3.6M114.6 122.5v-3.6M114.6 19.5v3.6M143.66 122.5v-3.6M143.66 19.5v3.6M172.73 122.5v-3.6M172.73 19.5v3.6M201.79 122.5v-3.6M201.79 19.5v3.6M230.86 122.5v-3.6M230.86 19.5v3.6M259.92 122.5v-3.6M259.92 19.5v3.6M288.99 122.5v-3.6M288.99 19.5v3.6" stroke="#262626" stroke-width="1.2" fill="none"/>

<rect x="306" y="19.5" width="15.7" height="103" fill="url(#jet)" stroke="#262626" stroke-width="1.2"/>
<path d="M321.7 29h-1.5M321.7 50.5h-1.5M321.7 71.5h-1.5M321.7 93h-1.5M321.7 114.4h-1.5" stroke="#262626" stroke-width="1" fill="none"/>

<g clip-path="url(#cb)"><g filter="url(#bl)">
<g transform="translate(0 193.05) skewX(-1.78) translate(0 -193.05)"><rect x="19.4" y="137.5" width="10.8" height="111.1" fill="#80ff80"/><rect x="29.9" y="137.5" width="2.3" height="111.1" fill="#ff8a00"/><rect x="31.9" y="137.5" width="1.8" height="111.1" fill="#f0ff0f"/><rect x="33.4" y="137.5" width="3.2" height="111.1" fill="#bdff42"/><rect x="36.3" y="137.5" width="1.8" height="111.1" fill="#f0ff0f"/><rect x="37.8" y="137.5" width="1.7" height="111.1" fill="#ffc700"/><rect x="39.2" y="137.5" width="1.8" height="111.1" fill="#80ff80"/><rect x="40.7" y="137.5" width="2.7" height="111.1" fill="#42ffbd"/><rect x="43.1" y="137.5" width="2.3" height="111.1" fill="#bdff42"/><rect x="45.1" y="137.5" width="1.8" height="111.1" fill="#80ff80"/><rect x="46.6" y="137.5" width="2.2" height="111.1" fill="#00e5ff"/><rect x="48.5" y="137.5" width="2.8" height="111.1" fill="#0061ff"/><rect x="51" y="137.5" width="1.7" height="111.1" fill="#42ffbd"/><rect x="52.4" y="137.5" width="4.3" height="111.1" fill="#80ff80"/><rect x="56.4" y="137.5" width="4.2" height="111.1" fill="#bdff42"/><rect x="60.3" y="137.5" width="2.2" height="111.1" fill="#80ff80"/><rect x="62.2" y="137.5" width="2.3" height="111.1" fill="#00e5ff"/><rect x="64.2" y="137.5" width="2.2" height="111.1" fill="#80ff80"/><rect x="66.1" y="137.5" width="2.3" height="111.1" fill="#42ffbd"/><rect x="68.1" y="137.5" width="2.2" height="111.1" fill="#bdff42"/><rect x="70" y="137.5" width="2.3" height="111.1" fill="#80ff80"/><rect x="72" y="137.5" width="1.8" height="111.1" fill="#00e5ff"/><rect x="73.5" y="137.5" width="1.8" height="111.1" fill="#ff8a00"/><rect x="75" y="137.5" width="1.2" height="111.1" fill="#ff4c00"/><rect x="75.9" y="137.5" width="1.8" height="111.1" fill="#f0ff0f"/><rect x="77.4" y="137.5" width="1.8" height="111.1" fill="#00e5ff"/><rect x="78.9" y="137.5" width="2.2" height="111.1" fill="#0061ff"/><rect x="80.8" y="137.5" width="2.3" height="111.1" fill="#00e5ff"/><rect x="82.8" y="137.5" width="2.2" height="111.1" fill="#42ffbd"/><rect x="84.7" y="137.5" width="2.3" height="111.1" fill="#80ff80"/><rect x="86.7" y="137.5" width="1.3" height="111.1" fill="#00e5ff"/><rect x="87.7" y="137.5" width="2.2" height="111.1" fill="#0061ff"/><rect x="89.6" y="137.5" width="2.3" height="111.1" fill="#00e5ff"/><rect x="91.6" y="137.5" width="2.7" height="111.1" fill="#80ff80"/><rect x="94" y="137.5" width="1.3" height="111.1" fill="#00e5ff"/><rect x="95" y="137.5" width="3.2" height="111.1" fill="#0061ff"/><rect x="97.9" y="137.5" width="2.3" height="111.1" fill="#00e5ff"/><rect x="99.9" y="137.5" width="2.2" height="111.1" fill="#42ffbd"/><rect x="101.8" y="137.5" width="1.8" height="111.1" fill="#bdff42"/><rect x="103.3" y="137.5" width="1.8" height="111.1" fill="#ffc700"/><rect x="104.8" y="137.5" width="2.2" height="111.1" fill="#bdff42"/><rect x="106.7" y="137.5" width="2.3" height="111.1" fill="#00e5ff"/><rect x="108.7" y="137.5" width="2.7" height="111.1" fill="#80ff80"/><rect x="111.1" y="137.5" width="2.8" height="111.1" fill="#42ffbd"/><rect x="113.6" y="137.5" width="2.2" height="111.1" fill="#00e5ff"/><rect x="115.5" y="137.5" width="2.8" height="111.1" fill="#00a8ff"/><rect x="118" y="137.5" width="2.2" height="111.1" fill="#00e5ff"/><rect x="119.9" y="137.5" width="2.3" height="111.1" fill="#bdff42"/><rect x="121.9" y="137.5" width="1.3" height="111.1" fill="#00e5ff"/><rect x="122.9" y="137.5" width="3.2" height="111.1" fill="#0061ff"/><rect x="125.8" y="137.5" width="1.3" height="111.1" fill="#f0ff0f"/><rect x="126.8" y="137.5" width="2.7" height="111.1" fill="#ff4c00"/><rect x="129.2" y="137.5" width="1.8" height="111.1" fill="#f0ff0f"/><rect x="130.7" y="137.5" width="2.2" height="111.1" fill="#00e5ff"/><rect x="132.6" y="137.5" width="1.8" height="111.1" fill="#00a8ff"/><rect x="134.1" y="137.5" width="3.2" height="111.1" fill="#42ffbd"/><rect x="137" y="137.5" width="2.3" height="111.1" fill="#80ff80"/><rect x="139" y="137.5" width="3.3" height="111.1" fill="#bdff42"/><rect x="142" y="137.5" width="3.2" height="111.1" fill="#80ff80"/><rect x="144.9" y="137.5" width="2.7" height="111.1" fill="#bdff42"/><rect x="147.3" y="137.5" width="2.8" height="111.1" fill="#f0ff0f"/><rect x="149.8" y="137.5" width="1.7" height="111.1" fill="#80ff80"/><rect x="151.2" y="137.5" width="1.8" height="111.1" fill="#00e5ff"/><rect x="152.7" y="137.5" width="4.2" height="111.1" fill="#0061ff"/><rect x="156.6" y="137.5" width="1.8" height="111.1" fill="#00e5ff"/><rect x="158.1" y="137.5" width="1.8" height="111.1" fill="#ffc700"/><rect x="159.6" y="137.5" width="1.7" height="111.1" fill="#fa0000"/><rect x="161" y="137.5" width="2.3" height="111.1" fill="#fa0000"/><rect x="163" y="137.5" width="1.7" height="111.1" fill="#ff8a00"/><rect x="164.4" y="137.5" width="1.8" height="111.1" fill="#bdff42"/><rect x="165.9" y="137.5" width="2.2" height="111.1" fill="#42ffbd"/><rect x="167.8" y="137.5" width="2.8" height="111.1" fill="#bdff42"/><rect x="170.3" y="137.5" width="1.8" height="111.1" fill="#80ff80"/><rect x="171.8" y="137.5" width="2.2" height="111.1" fill="#42ffbd"/><rect x="173.7" y="137.5" width="1.8" height="111.1" fill="#00a8ff"/><rect x="175.2" y="137.5" width="2.2" height="111.1" fill="#80ff80"/><rect x="177.1" y="137.5" width="1.8" height="111.1" fill="#ffc700"/><rect x="178.6" y="137.5" width="3.7" height="111.1" fill="#f0ff0f"/><rect x="182" y="137.5" width="2.8" height="111.1" fill="#bdff42"/><rect x="184.5" y="137.5" width="2.2" height="111.1" fill="#80ff80"/><rect x="186.4" y="137.5" width="2.3" height="111.1" fill="#42ffbd"/><rect x="188.4" y="137.5" width="1.8" height="111.1" fill="#ffc700"/><rect x="189.9" y="137.5" width="1.7" height="111.1" fill="#ff8a00"/><rect x="191.3" y="137.5" width="1.8" height="111.1" fill="#42ffbd"/><rect x="192.8" y="137.5" width="1.7" height="111.1" fill="#000fff"/><rect x="194.2" y="137.5" width="4.1" height="111.1" fill="#0000bd"/><rect x="198" y="137.5" width="1.8" height="111.1" fill="#000fff"/><rect x="199.5" y="137.5" width="1.6" height="111.1" fill="#0061ff"/><rect x="200.8" y="137.5" width="1" height="111.1" fill="#00e5ff"/><rect x="201.5" y="137.5" width="0.9" height="111.1" fill="#80ff80"/><rect x="202.1" y="137.5" width="2.3" height="111.1" fill="#bdff42"/><rect x="204.1" y="137.5" width="2.7" height="111.1" fill="#42ffbd"/><rect x="206.5" y="137.5" width="1.8" height="111.1" fill="#00e5ff"/><rect x="208" y="137.5" width="1.7" height="111.1" fill="#0061ff"/><rect x="209.4" y="137.5" width="2.8" height="111.1" fill="#f0ff0f"/><rect x="211.9" y="137.5" width="1.7" height="111.1" fill="#ffc700"/><rect x="213.3" y="137.5" width="2.3" height="111.1" fill="#80ff80"/><rect x="215.3" y="137.5" width="1.3" height="111.1" fill="#00e5ff"/><rect x="216.3" y="137.5" width="3.2" height="111.1" fill="#000fff"/><rect x="219.2" y="137.5" width="5.7" height="111.1" fill="#00e5ff"/><rect x="224.6" y="137.5" width="3.7" height="111.1" fill="#000fff"/><rect x="228" y="137.5" width="1.8" height="111.1" fill="#0061ff"/><rect x="229.5" y="137.5" width="1.7" height="111.1" fill="#00e5ff"/><rect x="230.9" y="137.5" width="1.8" height="111.1" fill="#ff8a00"/><rect x="232.4" y="137.5" width="3.2" height="111.1" fill="#fa0000"/><rect x="235.3" y="137.5" width="1.8" height="111.1" fill="#f0ff0f"/><rect x="236.8" y="137.5" width="1.8" height="111.1" fill="#00e5ff"/><rect x="238.3" y="137.5" width="3.7" height="111.1" fill="#000fff"/><rect x="241.7" y="137.5" width="2.3" height="111.1" fill="#42ffbd"/><rect x="243.7" y="137.5" width="1.7" height="111.1" fill="#ffc700"/><rect x="245.1" y="137.5" width="4.2" height="111.1" fill="#f0ff0f"/><rect x="249" y="137.5" width="2.3" height="111.1" fill="#42ffbd"/><rect x="251" y="137.5" width="2.7" height="111.1" fill="#0061ff"/><rect x="253.4" y="137.5" width="2.3" height="111.1" fill="#00e5ff"/><rect x="255.4" y="137.5" width="2.3" height="111.1" fill="#ffc700"/><rect x="257.4" y="137.5" width="2.2" height="111.1" fill="#ff8a00"/><rect x="259.3" y="137.5" width="1.8" height="111.1" fill="#00e5ff"/><rect x="260.8" y="137.5" width="1.3" height="111.1" fill="#00a8ff"/><rect x="261.8" y="137.5" width="1.2" height="111.1" fill="#00e5ff"/><rect x="262.7" y="137.5" width="2.3" height="111.1" fill="#0061ff"/><rect x="264.7" y="137.5" width="3.7" height="111.1" fill="#fa0000"/><rect x="268.1" y="137.5" width="1.8" height="111.1" fill="#ff4c00"/><rect x="269.6" y="137.5" width="1.7" height="111.1" fill="#ff8a00"/><rect x="271" y="137.5" width="1.8" height="111.1" fill="#f0ff0f"/><rect x="272.5" y="137.5" width="4.8" height="111.1" fill="#00e5ff"/><rect x="277" y="137.5" width="2.2" height="111.1" fill="#0061ff"/><rect x="278.9" y="137.5" width="2.2" height="111.1" fill="#000fff"/><rect x="280.8" y="137.5" width="1.8" height="111.1" fill="#00e5ff"/><rect x="282.3" y="137.5" width="1.8" height="111.1" fill="#f0ff0f"/><rect x="283.8" y="137.5" width="3.2" height="111.1" fill="#ff8a00"/><rect x="286.7" y="137.5" width="2.8" height="111.1" fill="#f0ff0f"/><rect x="289.2" y="137.5" width="1.7" height="111.1" fill="#00e5ff"/><rect x="290.6" y="137.5" width="12.1" height="111.1" fill="#42ffbd"/></g>
<g mask="url(#mb)">
<g transform="translate(0 146) skewX(-1.78) translate(0 -146)"><rect x="19.4" y="137.5" width="12.3" height="111.1" fill="#80ff80"/><rect x="31.4" y="137.5" width="2.7" height="111.1" fill="#ff8a00"/><rect x="33.8" y="137.5" width="6.7" height="111.1" fill="#f0ff0f"/><rect x="40.2" y="137.5" width="1.8" height="111.1" fill="#bdff42"/><rect x="41.7" y="137.5" width="2.7" height="111.1" fill="#80ff80"/><rect x="44.1" y="137.5" width="2.8" height="111.1" fill="#bdff42"/><rect x="46.6" y="137.5" width="1.7" height="111.1" fill="#00e5ff"/><rect x="48" y="137.5" width="3.8" height="111.1" fill="#0061ff"/><rect x="51.5" y="137.5" width="2.7" height="111.1" fill="#00e5ff"/><rect x="53.9" y="137.5" width="2.8" height="111.1" fill="#42ffbd"/><rect x="56.4" y="137.5" width="6.1" height="111.1" fill="#80ff80"/><rect x="62.2" y="137.5" width="4.2" height="111.1" fill="#bdff42"/><rect x="66.1" y="137.5" width="3.3" height="111.1" fill="#80ff80"/><rect x="69.1" y="137.5" width="3.2" height="111.1" fill="#42ffbd"/><rect x="72" y="137.5" width="2.3" height="111.1" fill="#bdff42"/><rect x="74" y="137.5" width="2.7" height="111.1" fill="#ff4c00"/><rect x="76.4" y="137.5" width="1.8" height="111.1" fill="#f0ff0f"/><rect x="77.9" y="137.5" width="2.7" height="111.1" fill="#00e5ff"/><rect x="80.3" y="137.5" width="2.8" height="111.1" fill="#42ffbd"/><rect x="82.8" y="137.5" width="4.2" height="111.1" fill="#80ff80"/><rect x="86.7" y="137.5" width="1.8" height="111.1" fill="#00e5ff"/><rect x="88.2" y="137.5" width="4.1" height="111.1" fill="#0061ff"/><rect x="92" y="137.5" width="2.3" height="111.1" fill="#00e5ff"/><rect x="94" y="137.5" width="2.7" height="111.1" fill="#00e5ff"/><rect x="96.4" y="137.5" width="3.3" height="111.1" fill="#0061ff"/><rect x="99.4" y="137.5" width="2.2" height="111.1" fill="#00e5ff"/><rect x="101.3" y="137.5" width="2.3" height="111.1" fill="#42ffbd"/><rect x="103.3" y="137.5" width="3.2" height="111.1" fill="#bdff42"/><rect x="106.2" y="137.5" width="2.8" height="111.1" fill="#80ff80"/><rect x="108.7" y="137.5" width="3.2" height="111.1" fill="#00e5ff"/><rect x="111.6" y="137.5" width="2.3" height="111.1" fill="#42ffbd"/><rect x="113.6" y="137.5" width="2.7" height="111.1" fill="#00e5ff"/><rect x="116" y="137.5" width="2.3" height="111.1" fill="#00a8ff"/><rect x="118" y="137.5" width="2.3" height="111.1" fill="#00e5ff"/><rect x="120" y="137.5" width="3.2" height="111.1" fill="#42ffbd"/><rect x="122.9" y="137.5" width="4.7" height="111.1" fill="#0061ff"/><rect x="127.3" y="137.5" width="1.7" height="111.1" fill="#f0ff0f"/><rect x="128.7" y="137.5" width="3.3" height="111.1" fill="#ff8a00"/><rect x="131.7" y="137.5" width="1.8" height="111.1" fill="#f0ff0f"/><rect x="133.2" y="137.5" width="2.2" height="111.1" fill="#00e5ff"/><rect x="135.1" y="137.5" width="2.7" height="111.1" fill="#42ffbd"/><rect x="137.5" y="137.5" width="2.8" height="111.1" fill="#80ff80"/><rect x="140" y="137.5" width="3.3" height="111.1" fill="#42ffbd"/><rect x="143" y="137.5" width="2.3" height="111.1" fill="#80ff80"/><rect x="145" y="137.5" width="1.7" height="111.1" fill="#bdff42"/><rect x="146.4" y="137.5" width="2.7" height="111.1" fill="#f0ff0f"/><rect x="148.8" y="137.5" width="2.7" height="111.1" fill="#80ff80"/><rect x="151.2" y="137.5" width="2.3" height="111.1" fill="#00e5ff"/><rect x="153.2" y="137.5" width="4.2" height="111.1" fill="#0061ff"/><rect x="157.1" y="137.5" width="2.3" height="111.1" fill="#00e5ff"/><rect x="159.1" y="137.5" width="2.2" height="111.1" fill="#ff4c00"/><rect x="161" y="137.5" width="4.7" height="111.1" fill="#fa0000"/><rect x="165.4" y="137.5" width="1.8" height="111.1" fill="#ffc700"/><rect x="166.9" y="137.5" width="5.2" height="111.1" fill="#80ff80"/><rect x="171.8" y="137.5" width="3.2" height="111.1" fill="#42ffbd"/><rect x="174.7" y="137.5" width="2.7" height="111.1" fill="#00e5ff"/><rect x="177.1" y="137.5" width="3.8" height="111.1" fill="#bdff42"/><rect x="180.6" y="137.5" width="2.2" height="111.1" fill="#ffc700"/><rect x="182.5" y="137.5" width="3.3" height="111.1" fill="#f0ff0f"/><rect x="185.5" y="137.5" width="4.2" height="111.1" fill="#bdff42"/><rect x="189.4" y="137.5" width="3.2" height="111.1" fill="#ffc700"/><rect x="192.3" y="137.5" width="2.3" height="111.1" fill="#00e5ff"/><rect x="194.3" y="137.5" width="4.7" height="111.1" fill="#0000bd"/><rect x="198.7" y="137.5" width="1.8" height="111.1" fill="#0061ff"/><rect x="200.2" y="137.5" width="3.2" height="111.1" fill="#00a8ff"/><rect x="203.1" y="137.5" width="4.2" height="111.1" fill="#bdff42"/><rect x="207" y="137.5" width="4.2" height="111.1" fill="#f0ff0f"/><rect x="210.9" y="137.5" width="3.7" height="111.1" fill="#bdff42"/><rect x="214.3" y="137.5" width="2.3" height="111.1" fill="#00e5ff"/><rect x="216.3" y="137.5" width="2" height="111.1" fill="#0061ff"/><rect x="218" y="137.5" width="3.3" height="111.1" fill="#000fff"/><rect x="221" y="137.5" width="2.9" height="111.1" fill="#0061ff"/><rect x="223.6" y="137.5" width="4.7" height="111.1" fill="#00a8ff"/><rect x="228" y="137.5" width="2.3" height="111.1" fill="#0061ff"/><rect x="230" y="137.5" width="1.8" height="111.1" fill="#00e5ff"/><rect x="231.5" y="137.5" width="1.2" height="111.1" fill="#ff8a00"/><rect x="232.4" y="137.5" width="5.2" height="111.1" fill="#ff4c00"/><rect x="237.3" y="137.5" width="1" height="111.1" fill="#f0ff0f"/><rect x="238" y="137.5" width="1.1" height="111.1" fill="#00e5ff"/><rect x="238.8" y="137.5" width="5.2" height="111.1" fill="#000fff"/><rect x="243.7" y="137.5" width="2.2" height="111.1" fill="#00e5ff"/><rect x="245.6" y="137.5" width="2.3" height="111.1" fill="#bdff42"/><rect x="247.6" y="137.5" width="1.7" height="111.1" fill="#ff8a00"/><rect x="249" y="137.5" width="2.8" height="111.1" fill="#f0ff0f"/><rect x="251.5" y="137.5" width="1.8" height="111.1" fill="#00e5ff"/><rect x="253" y="137.5" width="3.7" height="111.1" fill="#0061ff"/><rect x="256.4" y="137.5" width="1.7" height="111.1" fill="#00e5ff"/><rect x="257.8" y="137.5" width="2.8" height="111.1" fill="#ffc700"/><rect x="260.3" y="137.5" width="2.7" height="111.1" fill="#42ffbd"/><rect x="262.7" y="137.5" width="2.8" height="111.1" fill="#42ffbd"/><rect x="265.2" y="137.5" width="1.7" height="111.1" fill="#ff4c00"/><rect x="266.6" y="137.5" width="4.7" height="111.1" fill="#bd0000"/><rect x="271" y="137.5" width="2.3" height="111.1" fill="#ffc700"/><rect x="273" y="137.5" width="3.3" height="111.1" fill="#42ffbd"/><rect x="276" y="137.5" width="2.7" height="111.1" fill="#00e5ff"/><rect x="278.4" y="137.5" width="3.7" height="111.1" fill="#000fff"/><rect x="281.8" y="137.5" width="2.3" height="111.1" fill="#00e5ff"/><rect x="283.8" y="137.5" width="5.2" height="111.1" fill="#f0ff0f"/><rect x="288.7" y="137.5" width="14" height="111.1" fill="#42ffbd"/></g>
</g>
<g mask="url(#nb)">
<g transform="translate(0 240.6) skewX(-1.78) translate(0 -240.6)"><rect x="19.4" y="137.5" width="11.8" height="111.1" fill="#f0ff0f"/><rect x="30.9" y="137.5" width="2.3" height="111.1" fill="#bdff42"/><rect x="32.9" y="137.5" width="3.2" height="111.1" fill="#42ffbd"/><rect x="35.8" y="137.5" width="2.3" height="111.1" fill="#f0ff0f"/><rect x="37.8" y="137.5" width="2.2" height="111.1" fill="#80ff80"/><rect x="39.7" y="137.5" width="3.3" height="111.1" fill="#00e5ff"/><rect x="42.7" y="137.5" width="4.2" height="111.1" fill="#bdff42"/><rect x="46.6" y="137.5" width="4.2" height="111.1" fill="#00e5ff"/><rect x="50.5" y="137.5" width="3.2" height="111.1" fill="#80ff80"/><rect x="53.4" y="137.5" width="3.3" height="111.1" fill="#bdff42"/><rect x="56.4" y="137.5" width="2.2" height="111.1" fill="#ffc700"/><rect x="58.3" y="137.5" width="3.2" height="111.1" fill="#00e5ff"/><rect x="61.2" y="137.5" width="3.3" height="111.1" fill="#80ff80"/><rect x="64.2" y="137.5" width="3.2" height="111.1" fill="#00e5ff"/><rect x="67.1" y="137.5" width="3.2" height="111.1" fill="#bdff42"/><rect x="70" y="137.5" width="3.3" height="111.1" fill="#42ffbd"/><rect x="73" y="137.5" width="2.7" height="111.1" fill="#ff8a00"/><rect x="75.4" y="137.5" width="1.8" height="111.1" fill="#f0ff0f"/><rect x="76.9" y="137.5" width="3.2" height="111.1" fill="#00e5ff"/><rect x="79.8" y="137.5" width="2.3" height="111.1" fill="#42ffbd"/><rect x="81.8" y="137.5" width="4.2" height="111.1" fill="#bdff42"/><rect x="85.7" y="137.5" width="2.3" height="111.1" fill="#80ff80"/><rect x="87.7" y="137.5" width="2.2" height="111.1" fill="#00a8ff"/><rect x="89.6" y="137.5" width="4.7" height="111.1" fill="#42ffbd"/><rect x="94" y="137.5" width="1.8" height="111.1" fill="#42ffbd"/><rect x="95.5" y="137.5" width="2.2" height="111.1" fill="#0061ff"/><rect x="97.4" y="137.5" width="3.7" height="111.1" fill="#42ffbd"/><rect x="100.8" y="137.5" width="1.8" height="111.1" fill="#ffc700"/><rect x="102.3" y="137.5" width="2.8" height="111.1" fill="#bdff42"/><rect x="104.8" y="137.5" width="3.2" height="111.1" fill="#42ffbd"/><rect x="107.7" y="137.5" width="2.7" height="111.1" fill="#80ff80"/><rect x="110.1" y="137.5" width="2.8" height="111.1" fill="#42ffbd"/><rect x="112.6" y="137.5" width="2.7" height="111.1" fill="#80ff80"/><rect x="115" y="137.5" width="2.8" height="111.1" fill="#00e5ff"/><rect x="117.5" y="137.5" width="5.2" height="111.1" fill="#bdff42"/><rect x="122.4" y="137.5" width="2.2" height="111.1" fill="#0061ff"/><rect x="124.3" y="137.5" width="2.3" height="111.1" fill="#00e5ff"/><rect x="126.3" y="137.5" width="2.2" height="111.1" fill="#ff4c00"/><rect x="128.2" y="137.5" width="2.3" height="111.1" fill="#bdff42"/><rect x="130.2" y="137.5" width="3.2" height="111.1" fill="#00e5ff"/><rect x="133.1" y="137.5" width="3.3" height="111.1" fill="#80ff80"/><rect x="136.1" y="137.5" width="3.2" height="111.1" fill="#42ffbd"/><rect x="139" y="137.5" width="4.2" height="111.1" fill="#bdff42"/><rect x="142.9" y="137.5" width="3.3" height="111.1" fill="#80ff80"/><rect x="145.9" y="137.5" width="3.2" height="111.1" fill="#f0ff0f"/><rect x="148.8" y="137.5" width="3.2" height="111.1" fill="#80ff80"/><rect x="151.7" y="137.5" width="2.3" height="111.1" fill="#00e5ff"/><rect x="153.7" y="137.5" width="2.2" height="111.1" fill="#0061ff"/><rect x="155.6" y="137.5" width="2.8" height="111.1" fill="#42ffbd"/><rect x="158.1" y="137.5" width="3.2" height="111.1" fill="#ff8a00"/><rect x="161" y="137.5" width="1.8" height="111.1" fill="#ff4c00"/><rect x="162.5" y="137.5" width="2.2" height="111.1" fill="#80ff80"/><rect x="164.4" y="137.5" width="3.7" height="111.1" fill="#42ffbd"/><rect x="167.8" y="137.5" width="3.3" height="111.1" fill="#bdff42"/><rect x="170.8" y="137.5" width="2.7" height="111.1" fill="#00e5ff"/><rect x="173.2" y="137.5" width="2.8" height="111.1" fill="#80ff80"/><rect x="175.7" y="137.5" width="2.7" height="111.1" fill="#ffc700"/><rect x="178.1" y="137.5" width="2.8" height="111.1" fill="#80ff80"/><rect x="180.6" y="137.5" width="2.7" height="111.1" fill="#bdff42"/><rect x="183" y="137.5" width="2.8" height="111.1" fill="#42ffbd"/><rect x="185.5" y="137.5" width="2.2" height="111.1" fill="#f0ff0f"/><rect x="187.4" y="137.5" width="2.8" height="111.1" fill="#ff8a00"/><rect x="189.9" y="137.5" width="1.7" height="111.1" fill="#80ff80"/><rect x="191.3" y="137.5" width="1.8" height="111.1" fill="#00a8ff"/><rect x="192.8" y="137.5" width="2.3" height="111.1" fill="#000fff"/><rect x="194.8" y="137.5" width="2.7" height="111.1" fill="#00e5ff"/><rect x="197.2" y="137.5" width="3.2" height="111.1" fill="#42ffbd"/><rect x="200.1" y="137.5" width="3.3" height="111.1" fill="#bdff42"/><rect x="203.1" y="137.5" width="3.2" height="111.1" fill="#42ffbd"/><rect x="206" y="137.5" width="3.2" height="111.1" fill="#bdff42"/><rect x="208.9" y="137.5" width="3.3" height="111.1" fill="#f0ff0f"/><rect x="211.9" y="137.5" width="2.7" height="111.1" fill="#42ffbd"/><rect x="214.3" y="137.5" width="3.3" height="111.1" fill="#00a8ff"/><rect x="217.3" y="137.5" width="3.7" height="111.1" fill="#42ffbd"/><rect x="220.7" y="137.5" width="4.2" height="111.1" fill="#00e5ff"/><rect x="224.6" y="137.5" width="3.7" height="111.1" fill="#0061ff"/><rect x="228" y="137.5" width="1.8" height="111.1" fill="#00e5ff"/><rect x="229.5" y="137.5" width="1.2" height="111.1" fill="#f0ff0f"/><rect x="230.4" y="137.5" width="2.3" height="111.1" fill="#ffc700"/><rect x="232.4" y="137.5" width="5.2" height="111.1" fill="#42ffbd"/><rect x="237.3" y="137.5" width="2.3" height="111.1" fill="#000fff"/><rect x="239.3" y="137.5" width="3.2" height="111.1" fill="#00e5ff"/><rect x="242.2" y="137.5" width="2.7" height="111.1" fill="#ffc700"/><rect x="244.6" y="137.5" width="3.3" height="111.1" fill="#bdff42"/><rect x="247.6" y="137.5" width="1.7" height="111.1" fill="#ff8a00"/><rect x="249" y="137.5" width="3.8" height="111.1" fill="#00e5ff"/><rect x="252.5" y="137.5" width="2.2" height="111.1" fill="#42ffbd"/><rect x="254.4" y="137.5" width="3.3" height="111.1" fill="#bdff42"/><rect x="257.4" y="137.5" width="2.2" height="111.1" fill="#42ffbd"/><rect x="259.3" y="137.5" width="2.3" height="111.1" fill="#0061ff"/><rect x="261.3" y="137.5" width="2.2" height="111.1" fill="#f0ff0f"/><rect x="263.2" y="137.5" width="3.3" height="111.1" fill="#ff4c00"/><rect x="266.2" y="137.5" width="3.2" height="111.1" fill="#ff8a00"/><rect x="269.1" y="137.5" width="2.2" height="111.1" fill="#bdff42"/><rect x="271" y="137.5" width="2.3" height="111.1" fill="#42ffbd"/><rect x="273" y="137.5" width="4.2" height="111.1" fill="#00e5ff"/><rect x="276.9" y="137.5" width="2.3" height="111.1" fill="#00a8ff"/><rect x="278.9" y="137.5" width="2.2" height="111.1" fill="#000fff"/><rect x="280.8" y="137.5" width="1.8" height="111.1" fill="#00e5ff"/><rect x="282.3" y="137.5" width="2.3" height="111.1" fill="#ffc700"/><rect x="284.3" y="137.5" width="2.7" height="111.1" fill="#bdff42"/><rect x="286.7" y="137.5" width="2.3" height="111.1" fill="#00a8ff"/><rect x="288.7" y="137.5" width="14" height="111.1" fill="#80ff80"/></g>
</g>
</g></g>

<rect x="27.4" y="141.5" width="267" height="103.1" fill="none" stroke="#262626" stroke-width="1.4"/>
<path d="M27.4 244.6h3.5M294.4 244.6h-3.5M27.4 235.23h3.5M294.4 235.23h-3.5M27.4 225.85h3.5M294.4 225.85h-3.5M27.4 216.48h3.5M294.4 216.48h-3.5M27.4 207.11h3.5M294.4 207.11h-3.5M27.4 197.74h3.5M294.4 197.74h-3.5M27.4 188.36h3.5M294.4 188.36h-3.5M27.4 178.99h3.5M294.4 178.99h-3.5M27.4 169.62h3.5M294.4 169.62h-3.5M27.4 160.25h3.5M294.4 160.25h-3.5M27.4 150.87h3.5M294.4 150.87h-3.5M27.4 141.5h3.5M294.4 141.5h-3.5M27.8 244.6v-3.6M27.8 141.5v3.6M56.82 244.6v-3.6M56.82 141.5v3.6M85.84 244.6v-3.6M85.84 141.5v3.6M114.87 244.6v-3.6M114.87 141.5v3.6M143.89 244.6v-3.6M143.89 141.5v3.6M172.91 244.6v-3.6M172.91 141.5v3.6M201.93 244.6v-3.6M201.93 141.5v3.6M230.95 244.6v-3.6M230.95 141.5v3.6M259.97 244.6v-3.6M259.97 141.5v3.6M289 244.6v-3.6M289 141.5v3.6" stroke="#262626" stroke-width="1.2" fill="none"/>

<rect x="306.3" y="141.5" width="15.6" height="103.1" fill="url(#jet)" stroke="#262626" stroke-width="1.2"/>
<path d="M321.9 152h-1.5M321.9 174h-1.5M321.9 196h-1.5M321.9 218h-1.5M321.9 240h-1.5" stroke="#262626" stroke-width="1" fill="none"/>

<g clip-path="url(#cc)"><g filter="url(#bl)">
<g transform="translate(0 315.8) skewX(-1.77) translate(0 -315.8)"><rect x="20" y="260.1" width="11.2" height="111.4" fill="#bdff42"/><rect x="30.9" y="260.1" width="3.3" height="111.4" fill="#ff8a00"/><rect x="33.9" y="260.1" width="1.7" height="111.4" fill="#ffc700"/><rect x="35.3" y="260.1" width="2.8" height="111.4" fill="#f0ff0f"/><rect x="37.8" y="260.1" width="1.8" height="111.4" fill="#80ff80"/><rect x="39.3" y="260.1" width="1.7" height="111.4" fill="#ffc700"/><rect x="40.7" y="260.1" width="3.3" height="111.4" fill="#00e5ff"/><rect x="43.7" y="260.1" width="3.2" height="111.4" fill="#42ffbd"/><rect x="46.6" y="260.1" width="2.2" height="111.4" fill="#ffc700"/><rect x="48.5" y="260.1" width="1.8" height="111.4" fill="#ff8a00"/><rect x="50" y="260.1" width="1.8" height="111.4" fill="#f0ff0f"/><rect x="51.5" y="260.1" width="2.7" height="111.4" fill="#80ff80"/><rect x="53.9" y="260.1" width="2.3" height="111.4" fill="#bdff42"/><rect x="55.9" y="260.1" width="1.8" height="111.4" fill="#80ff80"/><rect x="57.4" y="260.1" width="2.2" height="111.4" fill="#42ffbd"/><rect x="59.3" y="260.1" width="4.2" height="111.4" fill="#80ff80"/><rect x="63.2" y="260.1" width="4.2" height="111.4" fill="#f0ff0f"/><rect x="67.1" y="260.1" width="2.3" height="111.4" fill="#bdff42"/><rect x="69.1" y="260.1" width="2.3" height="111.4" fill="#80ff80"/><rect x="71.1" y="260.1" width="3.2" height="111.4" fill="#bdff42"/><rect x="74" y="260.1" width="1.3" height="111.4" fill="#ff8a00"/><rect x="75" y="260.1" width="2.2" height="111.4" fill="#fa0000"/><rect x="76.9" y="260.1" width="1.8" height="111.4" fill="#f0ff0f"/><rect x="78.4" y="260.1" width="1.8" height="111.4" fill="#00e5ff"/><rect x="79.9" y="260.1" width="2.2" height="111.4" fill="#0061ff"/><rect x="81.8" y="260.1" width="1.8" height="111.4" fill="#00e5ff"/><rect x="83.3" y="260.1" width="3.2" height="111.4" fill="#f0ff0f"/><rect x="86.2" y="260.1" width="2.8" height="111.4" fill="#80ff80"/><rect x="88.7" y="260.1" width="4.2" height="111.4" fill="#bdff42"/><rect x="92.6" y="260.1" width="2.7" height="111.4" fill="#f0ff0f"/><rect x="95" y="260.1" width="1.8" height="111.4" fill="#80ff80"/><rect x="96.5" y="260.1" width="2.7" height="111.4" fill="#00e5ff"/><rect x="98.9" y="260.1" width="2.3" height="111.4" fill="#80ff80"/><rect x="100.9" y="260.1" width="3.7" height="111.4" fill="#bdff42"/><rect x="104.3" y="260.1" width="1.8" height="111.4" fill="#ff8a00"/><rect x="105.8" y="260.1" width="1.7" height="111.4" fill="#f0ff0f"/><rect x="107.2" y="260.1" width="1.8" height="111.4" fill="#00e5ff"/><rect x="108.7" y="260.1" width="1.8" height="111.4" fill="#80ff80"/><rect x="110.2" y="260.1" width="1.7" height="111.4" fill="#bdff42"/><rect x="111.6" y="260.1" width="1.8" height="111.4" fill="#80ff80"/><rect x="113.1" y="260.1" width="2.7" height="111.4" fill="#00e5ff"/><rect x="115.5" y="260.1" width="2.3" height="111.4" fill="#80ff80"/><rect x="117.5" y="260.1" width="2.3" height="111.4" fill="#bdff42"/><rect x="119.5" y="260.1" width="2.7" height="111.4" fill="#ffc700"/><rect x="121.9" y="260.1" width="1.8" height="111.4" fill="#42ffbd"/><rect x="123.4" y="260.1" width="1.3" height="111.4" fill="#0061ff"/><rect x="124.4" y="260.1" width="1.9" height="111.4" fill="#000fff"/><rect x="126" y="260.1" width="1.1" height="111.4" fill="#0061ff"/><rect x="126.8" y="260.1" width="1.8" height="111.4" fill="#f0ff0f"/><rect x="128.3" y="260.1" width="3.2" height="111.4" fill="#fa0000"/><rect x="131.2" y="260.1" width="1.8" height="111.4" fill="#f0ff0f"/><rect x="132.7" y="260.1" width="1.7" height="111.4" fill="#80ff80"/><rect x="134.1" y="260.1" width="2.3" height="111.4" fill="#42ffbd"/><rect x="136.1" y="260.1" width="2.2" height="111.4" fill="#bdff42"/><rect x="138" y="260.1" width="2.3" height="111.4" fill="#80ff80"/><rect x="140" y="260.1" width="4.2" height="111.4" fill="#f0ff0f"/><rect x="143.9" y="260.1" width="2.3" height="111.4" fill="#80ff80"/><rect x="145.9" y="260.1" width="2.2" height="111.4" fill="#f0ff0f"/><rect x="147.8" y="260.1" width="2.8" height="111.4" fill="#ffc700"/><rect x="150.3" y="260.1" width="1.8" height="111.4" fill="#f0ff0f"/><rect x="151.8" y="260.1" width="2.2" height="111.4" fill="#00e5ff"/><rect x="153.7" y="260.1" width="4.2" height="111.4" fill="#42ffbd"/><rect x="157.6" y="260.1" width="2.3" height="111.4" fill="#42ffbd"/><rect x="159.6" y="260.1" width="2.7" height="111.4" fill="#bd0000"/><rect x="162" y="260.1" width="1.8" height="111.4" fill="#bd0000"/><rect x="163.5" y="260.1" width="1.7" height="111.4" fill="#ffc700"/><rect x="164.9" y="260.1" width="3.3" height="111.4" fill="#00e5ff"/><rect x="167.9" y="260.1" width="2.2" height="111.4" fill="#42ffbd"/><rect x="169.8" y="260.1" width="2.3" height="111.4" fill="#80ff80"/><rect x="171.8" y="260.1" width="2.7" height="111.4" fill="#00e5ff"/><rect x="174.2" y="260.1" width="2.8" height="111.4" fill="#80ff80"/><rect x="176.7" y="260.1" width="2.7" height="111.4" fill="#bdff42"/><rect x="179.1" y="260.1" width="1.8" height="111.4" fill="#f0ff0f"/><rect x="180.6" y="260.1" width="3.2" height="111.4" fill="#ffc700"/><rect x="183.5" y="260.1" width="2.8" height="111.4" fill="#bdff42"/><rect x="186" y="260.1" width="1.7" height="111.4" fill="#42ffbd"/><rect x="187.4" y="260.1" width="1.8" height="111.4" fill="#0061ff"/><rect x="188.9" y="260.1" width="1.8" height="111.4" fill="#00e5ff"/><rect x="190.4" y="260.1" width="2.2" height="111.4" fill="#ff4c00"/><rect x="192.3" y="260.1" width="2" height="111.4" fill="#42ffbd"/><rect x="194" y="260.1" width="1.5" height="111.4" fill="#0061ff"/><rect x="195.2" y="260.1" width="1.6" height="111.4" fill="#000fff"/><rect x="196.5" y="260.1" width="2.8" height="111.4" fill="#0000bd"/><rect x="199" y="260.1" width="1.8" height="111.4" fill="#000fff"/><rect x="200.5" y="260.1" width="1.3" height="111.4" fill="#0061ff"/><rect x="201.5" y="260.1" width="1.4" height="111.4" fill="#00a8ff"/><rect x="202.6" y="260.1" width="2.8" height="111.4" fill="#42ffbd"/><rect x="205.1" y="260.1" width="1.7" height="111.4" fill="#f0ff0f"/><rect x="206.5" y="260.1" width="1.8" height="111.4" fill="#ff8a00"/><rect x="208" y="260.1" width="2.3" height="111.4" fill="#f0ff0f"/><rect x="210" y="260.1" width="1.7" height="111.4" fill="#00e5ff"/><rect x="211.4" y="260.1" width="2.3" height="111.4" fill="#ff8a00"/><rect x="213.4" y="260.1" width="2.2" height="111.4" fill="#f0ff0f"/><rect x="215.3" y="260.1" width="1.8" height="111.4" fill="#80ff80"/><rect x="216.8" y="260.1" width="1.8" height="111.4" fill="#00e5ff"/><rect x="218.3" y="260.1" width="2.7" height="111.4" fill="#42ffbd"/><rect x="220.7" y="260.1" width="2.3" height="111.4" fill="#80ff80"/><rect x="222.7" y="260.1" width="4.2" height="111.4" fill="#00e5ff"/><rect x="226.6" y="260.1" width="2.7" height="111.4" fill="#000fff"/><rect x="229" y="260.1" width="2.3" height="111.4" fill="#00a8ff"/><rect x="231" y="260.1" width="2.7" height="111.4" fill="#f0ff0f"/><rect x="233.4" y="260.1" width="3.2" height="111.4" fill="#fa0000"/><rect x="236.3" y="260.1" width="1.8" height="111.4" fill="#ffc700"/><rect x="237.8" y="260.1" width="1.8" height="111.4" fill="#00e5ff"/><rect x="239.3" y="260.1" width="3.7" height="111.4" fill="#0061ff"/><rect x="242.7" y="260.1" width="1.8" height="111.4" fill="#42ffbd"/><rect x="244.2" y="260.1" width="1.7" height="111.4" fill="#ff8a00"/><rect x="245.6" y="260.1" width="1.8" height="111.4" fill="#ff4c00"/><rect x="247.1" y="260.1" width="2.3" height="111.4" fill="#f0ff0f"/><rect x="249.1" y="260.1" width="1.7" height="111.4" fill="#ff8a00"/><rect x="250.5" y="260.1" width="1.8" height="111.4" fill="#42ffbd"/><rect x="252" y="260.1" width="2.7" height="111.4" fill="#0061ff"/><rect x="254.4" y="260.1" width="3.3" height="111.4" fill="#42ffbd"/><rect x="257.4" y="260.1" width="4.2" height="111.4" fill="#bdff42"/><rect x="261.3" y="260.1" width="2.2" height="111.4" fill="#80ff80"/><rect x="263.2" y="260.1" width="1.8" height="111.4" fill="#0061ff"/><rect x="264.7" y="260.1" width="1.8" height="111.4" fill="#ffc700"/><rect x="266.2" y="260.1" width="4.2" height="111.4" fill="#bd0000"/><rect x="270.1" y="260.1" width="2.2" height="111.4" fill="#ff4c00"/><rect x="272" y="260.1" width="1.8" height="111.4" fill="#f0ff0f"/><rect x="273.5" y="260.1" width="1.8" height="111.4" fill="#00e5ff"/><rect x="275" y="260.1" width="5.2" height="111.4" fill="#42ffbd"/><rect x="279.9" y="260.1" width="2.7" height="111.4" fill="#0061ff"/><rect x="282.3" y="260.1" width="1.8" height="111.4" fill="#00e5ff"/><rect x="283.8" y="260.1" width="1.8" height="111.4" fill="#ffc700"/><rect x="285.3" y="260.1" width="2.2" height="111.4" fill="#ff8a00"/><rect x="287.2" y="260.1" width="2.3" height="111.4" fill="#f0ff0f"/><rect x="289.2" y="260.1" width="2.2" height="111.4" fill="#bdff42"/><rect x="291.1" y="260.1" width="13.6" height="111.4" fill="#00e5ff"/></g>
<g mask="url(#mc)">
<g transform="translate(0 268.6) skewX(-1.77) translate(0 -268.6)"><rect x="20" y="260.1" width="12.7" height="111.4" fill="#bdff42"/><rect x="32.4" y="260.1" width="3.2" height="111.4" fill="#ff4c00"/><rect x="35.3" y="260.1" width="3.8" height="111.4" fill="#ffc700"/><rect x="38.8" y="260.1" width="2.2" height="111.4" fill="#bdff42"/><rect x="40.7" y="260.1" width="2.8" height="111.4" fill="#80ff80"/><rect x="43.2" y="260.1" width="2.7" height="111.4" fill="#00e5ff"/><rect x="45.6" y="260.1" width="2.3" height="111.4" fill="#42ffbd"/><rect x="47.6" y="260.1" width="2.2" height="111.4" fill="#ffc700"/><rect x="49.5" y="260.1" width="2.8" height="111.4" fill="#ff8a00"/><rect x="52" y="260.1" width="2.7" height="111.4" fill="#f0ff0f"/><rect x="54.4" y="260.1" width="3.3" height="111.4" fill="#80ff80"/><rect x="57.4" y="260.1" width="6.1" height="111.4" fill="#42ffbd"/><rect x="63.2" y="260.1" width="2.3" height="111.4" fill="#42ffbd"/><rect x="65.2" y="260.1" width="2.2" height="111.4" fill="#bdff42"/><rect x="67.1" y="260.1" width="3.3" height="111.4" fill="#f0ff0f"/><rect x="70.1" y="260.1" width="3.2" height="111.4" fill="#bdff42"/><rect x="73" y="260.1" width="2.3" height="111.4" fill="#f0ff0f"/><rect x="75" y="260.1" width="3.2" height="111.4" fill="#fa0000"/><rect x="77.9" y="260.1" width="2.3" height="111.4" fill="#f0ff0f"/><rect x="79.9" y="260.1" width="1.7" height="111.4" fill="#00e5ff"/><rect x="81.3" y="260.1" width="1.8" height="111.4" fill="#00a8ff"/><rect x="82.8" y="260.1" width="3.2" height="111.4" fill="#bdff42"/><rect x="85.7" y="260.1" width="9.6" height="111.4" fill="#f0ff0f"/><rect x="95" y="260.1" width="2.7" height="111.4" fill="#80ff80"/><rect x="97.4" y="260.1" width="3.3" height="111.4" fill="#00e5ff"/><rect x="100.4" y="260.1" width="4.7" height="111.4" fill="#bdff42"/><rect x="104.8" y="260.1" width="3.2" height="111.4" fill="#ffc700"/><rect x="107.7" y="260.1" width="2.3" height="111.4" fill="#f0ff0f"/><rect x="109.7" y="260.1" width="3.7" height="111.4" fill="#42ffbd"/><rect x="113.1" y="260.1" width="5.7" height="111.4" fill="#00e5ff"/><rect x="118.5" y="260.1" width="3.2" height="111.4" fill="#bdff42"/><rect x="121.4" y="260.1" width="3.3" height="111.4" fill="#80ff80"/><rect x="124.4" y="260.1" width="3.2" height="111.4" fill="#0061ff"/><rect x="127.3" y="260.1" width="1.8" height="111.4" fill="#f0ff0f"/><rect x="128.8" y="260.1" width="4.7" height="111.4" fill="#fa0000"/><rect x="133.2" y="260.1" width="2.2" height="111.4" fill="#f0ff0f"/><rect x="135.1" y="260.1" width="3.2" height="111.4" fill="#80ff80"/><rect x="138" y="260.1" width="3.3" height="111.4" fill="#42ffbd"/><rect x="141" y="260.1" width="4.2" height="111.4" fill="#bdff42"/><rect x="144.9" y="260.1" width="3.2" height="111.4" fill="#f0ff0f"/><rect x="147.8" y="260.1" width="2.3" height="111.4" fill="#ffc700"/><rect x="149.8" y="260.1" width="2.3" height="111.4" fill="#f0ff0f"/><rect x="151.8" y="260.1" width="2.2" height="111.4" fill="#bdff42"/><rect x="153.7" y="260.1" width="4.2" height="111.4" fill="#42ffbd"/><rect x="157.6" y="260.1" width="2.8" height="111.4" fill="#42ffbd"/><rect x="160.1" y="260.1" width="2.2" height="111.4" fill="#fa0000"/><rect x="162" y="260.1" width="4.2" height="111.4" fill="#bd0000"/><rect x="165.9" y="260.1" width="1.8" height="111.4" fill="#ffc700"/><rect x="167.4" y="260.1" width="2.7" height="111.4" fill="#42ffbd"/><rect x="169.8" y="260.1" width="3.3" height="111.4" fill="#00e5ff"/><rect x="172.8" y="260.1" width="4.2" height="111.4" fill="#42ffbd"/><rect x="176.7" y="260.1" width="2.6" height="111.4" fill="#bdff42"/><rect x="179" y="260.1" width="2.9" height="111.4" fill="#f0ff0f"/><rect x="181.6" y="260.1" width="3.2" height="111.4" fill="#ffc700"/><rect x="184.5" y="260.1" width="3.2" height="111.4" fill="#f0ff0f"/><rect x="187.4" y="260.1" width="3.3" height="111.4" fill="#bdff42"/><rect x="190.4" y="260.1" width="4.2" height="111.4" fill="#ffc700"/><rect x="194.3" y="260.1" width="1.8" height="111.4" fill="#00e5ff"/><rect x="195.8" y="260.1" width="1.5" height="111.4" fill="#000fff"/><rect x="197" y="260.1" width="3" height="111.4" fill="#0000bd"/><rect x="199.7" y="260.1" width="2.1" height="111.4" fill="#0061ff"/><rect x="201.5" y="260.1" width="3.9" height="111.4" fill="#00a8ff"/><rect x="205.1" y="260.1" width="3.2" height="111.4" fill="#bdff42"/><rect x="208" y="260.1" width="4.2" height="111.4" fill="#ffc700"/><rect x="211.9" y="260.1" width="4.2" height="111.4" fill="#f0ff0f"/><rect x="215.8" y="260.1" width="2.5" height="111.4" fill="#80ff80"/><rect x="218" y="260.1" width="3" height="111.4" fill="#42ffbd"/><rect x="220.7" y="260.1" width="4.2" height="111.4" fill="#00e5ff"/><rect x="224.6" y="260.1" width="4.7" height="111.4" fill="#0061ff"/><rect x="229" y="260.1" width="2.3" height="111.4" fill="#0061ff"/><rect x="231" y="260.1" width="1.3" height="111.4" fill="#00e5ff"/><rect x="232" y="260.1" width="2.2" height="111.4" fill="#ffc700"/><rect x="233.9" y="260.1" width="3.7" height="111.4" fill="#fa0000"/><rect x="237.3" y="260.1" width="1.8" height="111.4" fill="#f0ff0f"/><rect x="238.8" y="260.1" width="1.8" height="111.4" fill="#00e5ff"/><rect x="240.3" y="260.1" width="3.7" height="111.4" fill="#0061ff"/><rect x="243.7" y="260.1" width="1.7" height="111.4" fill="#00e5ff"/><rect x="245.1" y="260.1" width="3.8" height="111.4" fill="#ff8a00"/><rect x="248.6" y="260.1" width="2.2" height="111.4" fill="#ffc700"/><rect x="250.5" y="260.1" width="2.3" height="111.4" fill="#80ff80"/><rect x="252.5" y="260.1" width="2.3" height="111.4" fill="#42ffbd"/><rect x="254.5" y="260.1" width="2.2" height="111.4" fill="#00e5ff"/><rect x="256.4" y="260.1" width="2.3" height="111.4" fill="#80ff80"/><rect x="258.4" y="260.1" width="3.2" height="111.4" fill="#bdff42"/><rect x="261.3" y="260.1" width="3.2" height="111.4" fill="#42ffbd"/><rect x="264.2" y="260.1" width="2.8" height="111.4" fill="#f0ff0f"/><rect x="266.7" y="260.1" width="1.7" height="111.4" fill="#ff4c00"/><rect x="268.1" y="260.1" width="5.2" height="111.4" fill="#bd0000"/><rect x="273" y="260.1" width="2.3" height="111.4" fill="#ff8a00"/><rect x="275" y="260.1" width="2.3" height="111.4" fill="#f0ff0f"/><rect x="277" y="260.1" width="2.3" height="111.4" fill="#42ffbd"/><rect x="279" y="260.1" width="2.2" height="111.4" fill="#00e5ff"/><rect x="280.9" y="260.1" width="2.7" height="111.4" fill="#0061ff"/><rect x="283.3" y="260.1" width="2.8" height="111.4" fill="#00e5ff"/><rect x="285.8" y="260.1" width="3.2" height="111.4" fill="#f0ff0f"/><rect x="288.7" y="260.1" width="2.2" height="111.4" fill="#bdff42"/><rect x="290.6" y="260.1" width="14.1" height="111.4" fill="#00a8ff"/></g>
</g>
<g mask="url(#nc)">
<g transform="translate(0 363.5) skewX(-1.77) translate(0 -363.5)"><rect x="20" y="260.1" width="11.7" height="111.4" fill="#f0ff0f"/><rect x="31.4" y="260.1" width="2.3" height="111.4" fill="#ff8a00"/><rect x="33.4" y="260.1" width="2.7" height="111.4" fill="#f0ff0f"/><rect x="35.8" y="260.1" width="3.3" height="111.4" fill="#bdff42"/><rect x="38.8" y="260.1" width="1.7" height="111.4" fill="#ffc700"/><rect x="40.2" y="260.1" width="2.3" height="111.4" fill="#00e5ff"/><rect x="42.2" y="260.1" width="2.7" height="111.4" fill="#80ff80"/><rect x="44.6" y="260.1" width="3.3" height="111.4" fill="#bdff42"/><rect x="47.6" y="260.1" width="2.2" height="111.4" fill="#ffc700"/><rect x="49.5" y="260.1" width="2.8" height="111.4" fill="#bdff42"/><rect x="52" y="260.1" width="2.7" height="111.4" fill="#80ff80"/><rect x="54.4" y="260.1" width="2.3" height="111.4" fill="#bdff42"/><rect x="56.4" y="260.1" width="2.2" height="111.4" fill="#42ffbd"/><rect x="58.3" y="260.1" width="2.8" height="111.4" fill="#ffc700"/><rect x="60.8" y="260.1" width="3.7" height="111.4" fill="#80ff80"/><rect x="64.2" y="260.1" width="3.2" height="111.4" fill="#bdff42"/><rect x="67.1" y="260.1" width="3.3" height="111.4" fill="#f0ff0f"/><rect x="70.1" y="260.1" width="4.2" height="111.4" fill="#bdff42"/><rect x="74" y="260.1" width="2.7" height="111.4" fill="#fa0000"/><rect x="76.4" y="260.1" width="1.8" height="111.4" fill="#f0ff0f"/><rect x="77.9" y="260.1" width="3.2" height="111.4" fill="#42ffbd"/><rect x="80.8" y="260.1" width="2.3" height="111.4" fill="#80ff80"/><rect x="82.8" y="260.1" width="4.2" height="111.4" fill="#bdff42"/><rect x="86.7" y="260.1" width="3.2" height="111.4" fill="#80ff80"/><rect x="89.6" y="260.1" width="3.2" height="111.4" fill="#bdff42"/><rect x="92.5" y="260.1" width="2.8" height="111.4" fill="#ffc700"/><rect x="95" y="260.1" width="2.7" height="111.4" fill="#42ffbd"/><rect x="97.4" y="260.1" width="2.3" height="111.4" fill="#80ff80"/><rect x="99.4" y="260.1" width="2.3" height="111.4" fill="#bdff42"/><rect x="101.4" y="260.1" width="2.2" height="111.4" fill="#ffc700"/><rect x="103.3" y="260.1" width="3.2" height="111.4" fill="#42ffbd"/><rect x="106.2" y="260.1" width="1.8" height="111.4" fill="#bdff42"/><rect x="107.7" y="260.1" width="2.8" height="111.4" fill="#ffc700"/><rect x="110.2" y="260.1" width="2.7" height="111.4" fill="#42ffbd"/><rect x="112.6" y="260.1" width="2.7" height="111.4" fill="#80ff80"/><rect x="115" y="260.1" width="2.8" height="111.4" fill="#bdff42"/><rect x="117.5" y="260.1" width="2.8" height="111.4" fill="#ffc700"/><rect x="120" y="260.1" width="3.7" height="111.4" fill="#42ffbd"/><rect x="123.4" y="260.1" width="2.2" height="111.4" fill="#00a8ff"/><rect x="125.3" y="260.1" width="1.5" height="111.4" fill="#00e5ff"/><rect x="126.5" y="260.1" width="1.1" height="111.4" fill="#f0ff0f"/><rect x="127.3" y="260.1" width="2.2" height="111.4" fill="#ff4c00"/><rect x="129.2" y="260.1" width="2.3" height="111.4" fill="#f0ff0f"/><rect x="131.2" y="260.1" width="3.2" height="111.4" fill="#80ff80"/><rect x="134.1" y="260.1" width="4.2" height="111.4" fill="#bdff42"/><rect x="138" y="260.1" width="3.3" height="111.4" fill="#42ffbd"/><rect x="141" y="260.1" width="3.2" height="111.4" fill="#f0ff0f"/><rect x="143.9" y="260.1" width="3.3" height="111.4" fill="#bdff42"/><rect x="146.9" y="260.1" width="2.2" height="111.4" fill="#ffc700"/><rect x="148.8" y="260.1" width="2.3" height="111.4" fill="#bdff42"/><rect x="150.8" y="260.1" width="4.2" height="111.4" fill="#42ffbd"/><rect x="154.7" y="260.1" width="3.2" height="111.4" fill="#f0ff0f"/><rect x="157.6" y="260.1" width="2.3" height="111.4" fill="#42ffbd"/><rect x="159.6" y="260.1" width="2.7" height="111.4" fill="#fa0000"/><rect x="162" y="260.1" width="1.8" height="111.4" fill="#fa0000"/><rect x="163.5" y="260.1" width="2.7" height="111.4" fill="#bdff42"/><rect x="165.9" y="260.1" width="2.8" height="111.4" fill="#42ffbd"/><rect x="168.4" y="260.1" width="2.2" height="111.4" fill="#80ff80"/><rect x="170.3" y="260.1" width="2.8" height="111.4" fill="#bdff42"/><rect x="172.8" y="260.1" width="2.2" height="111.4" fill="#00a8ff"/><rect x="174.7" y="260.1" width="2.8" height="111.4" fill="#42ffbd"/><rect x="177.2" y="260.1" width="4.2" height="111.4" fill="#f0ff0f"/><rect x="181.1" y="260.1" width="3.2" height="111.4" fill="#bdff42"/><rect x="184" y="260.1" width="2.8" height="111.4" fill="#42ffbd"/><rect x="186.5" y="260.1" width="2.2" height="111.4" fill="#0061ff"/><rect x="188.4" y="260.1" width="1.9" height="111.4" fill="#ff8a00"/><rect x="190" y="260.1" width="1.7" height="111.4" fill="#ff4c00"/><rect x="191.4" y="260.1" width="2.2" height="111.4" fill="#42ffbd"/><rect x="193.3" y="260.1" width="2.8" height="111.4" fill="#00a8ff"/><rect x="195.8" y="260.1" width="2.7" height="111.4" fill="#42ffbd"/><rect x="198.2" y="260.1" width="2.7" height="111.4" fill="#00a8ff"/><rect x="200.6" y="260.1" width="2.8" height="111.4" fill="#42ffbd"/><rect x="203.1" y="260.1" width="3.2" height="111.4" fill="#80ff80"/><rect x="206" y="260.1" width="3.3" height="111.4" fill="#ffc700"/><rect x="209" y="260.1" width="2.2" height="111.4" fill="#80ff80"/><rect x="210.9" y="260.1" width="2.3" height="111.4" fill="#ffc700"/><rect x="212.9" y="260.1" width="4.2" height="111.4" fill="#bdff42"/><rect x="216.8" y="260.1" width="4.2" height="111.4" fill="#42ffbd"/><rect x="220.7" y="260.1" width="4.2" height="111.4" fill="#bdff42"/><rect x="224.6" y="260.1" width="4.7" height="111.4" fill="#42ffbd"/><rect x="229" y="260.1" width="2.7" height="111.4" fill="#bdff42"/><rect x="231.4" y="260.1" width="2.3" height="111.4" fill="#ffc700"/><rect x="233.4" y="260.1" width="1.8" height="111.4" fill="#ff4c00"/><rect x="234.9" y="260.1" width="3.2" height="111.4" fill="#42ffbd"/><rect x="237.8" y="260.1" width="1.8" height="111.4" fill="#bdff42"/><rect x="239.3" y="260.1" width="2.7" height="111.4" fill="#00a8ff"/><rect x="241.7" y="260.1" width="2.3" height="111.4" fill="#42ffbd"/><rect x="243.7" y="260.1" width="2.7" height="111.4" fill="#ff4c00"/><rect x="246.1" y="260.1" width="2.2" height="111.4" fill="#f0ff0f"/><rect x="248" y="260.1" width="1.8" height="111.4" fill="#bdff42"/><rect x="249.5" y="260.1" width="1.8" height="111.4" fill="#ffc700"/><rect x="251" y="260.1" width="1.3" height="111.4" fill="#80ff80"/><rect x="252" y="260.1" width="3.2" height="111.4" fill="#42ffbd"/><rect x="254.9" y="260.1" width="3.8" height="111.4" fill="#80ff80"/><rect x="258.4" y="260.1" width="2.2" height="111.4" fill="#bdff42"/><rect x="260.3" y="260.1" width="2.8" height="111.4" fill="#42ffbd"/><rect x="262.8" y="260.1" width="2.2" height="111.4" fill="#bdff42"/><rect x="264.7" y="260.1" width="2.3" height="111.4" fill="#ff4c00"/><rect x="266.7" y="260.1" width="2.7" height="111.4" fill="#ff8a00"/><rect x="269.1" y="260.1" width="3.2" height="111.4" fill="#f0ff0f"/><rect x="272" y="260.1" width="2.3" height="111.4" fill="#80ff80"/><rect x="274" y="260.1" width="3.3" height="111.4" fill="#42ffbd"/><rect x="277" y="260.1" width="3.2" height="111.4" fill="#80ff80"/><rect x="279.9" y="260.1" width="2.7" height="111.4" fill="#00a8ff"/><rect x="282.3" y="260.1" width="2.8" height="111.4" fill="#ffc700"/><rect x="284.8" y="260.1" width="3.7" height="111.4" fill="#f0ff0f"/><rect x="288.2" y="260.1" width="2.3" height="111.4" fill="#80ff80"/><rect x="290.2" y="260.1" width="2.2" height="111.4" fill="#00a8ff"/><rect x="292.1" y="260.1" width="12.6" height="111.4" fill="#00e5ff"/></g>
</g>
</g></g>

<rect x="28" y="264.1" width="268.4" height="103.4" fill="none" stroke="#262626" stroke-width="1.4"/>
<path d="M28 367.5h3.5M296.4 367.5h-3.5M28 358.1h3.5M296.4 358.1h-3.5M28 348.7h3.5M296.4 348.7h-3.5M28 339.3h3.5M296.4 339.3h-3.5M28 329.9h3.5M296.4 329.9h-3.5M28 320.5h3.5M296.4 320.5h-3.5M28 311.1h3.5M296.4 311.1h-3.5M28 301.7h3.5M296.4 301.7h-3.5M28 292.3h3.5M296.4 292.3h-3.5M28 282.9h3.5M296.4 282.9h-3.5M28 273.5h3.5M296.4 273.5h-3.5M28 264.1h3.5M296.4 264.1h-3.5M28.4 367.5v-3.6M28.4 264.1v3.6M57.57 367.5v-3.6M57.57 264.1v3.6M86.75 367.5v-3.6M86.75 264.1v3.6M115.92 367.5v-3.6M115.92 264.1v3.6M145.1 367.5v-3.6M145.1 264.1v3.6M174.27 367.5v-3.6M174.27 264.1v3.6M203.44 367.5v-3.6M203.44 264.1v3.6M232.62 367.5v-3.6M232.62 264.1v3.6M261.79 367.5v-3.6M261.79 264.1v3.6M290.97 367.5v-3.6M290.97 264.1v3.6" stroke="#262626" stroke-width="1.2" fill="none"/>

<rect x="308.2" y="264.1" width="15.6" height="103.4" fill="url(#jet)" stroke="#262626" stroke-width="1.2"/>
<path d="M323.8 269.8h-1.5M323.8 291.2h-1.5M323.8 312h-1.5M323.8 333.7h-1.5M323.8 355.2h-1.5" stroke="#262626" stroke-width="1" fill="none"/>

<g clip-path="url(#cd)"><g filter="url(#bl)">
<g transform="translate(0 441.7) skewX(-1.77) translate(0 -441.7)"><rect x="20.3" y="386" width="10.9" height="111.4" fill="#bdff42"/><rect x="30.9" y="386" width="2.3" height="111.4" fill="#ff4c00"/><rect x="32.9" y="386" width="1.8" height="111.4" fill="#ffc700"/><rect x="34.4" y="386" width="3.2" height="111.4" fill="#f0ff0f"/><rect x="37.3" y="386" width="2.3" height="111.4" fill="#80ff80"/><rect x="39.3" y="386" width="1.7" height="111.4" fill="#ffc700"/><rect x="40.7" y="386" width="3.7" height="111.4" fill="#00e5ff"/><rect x="44.1" y="386" width="3.3" height="111.4" fill="#42ffbd"/><rect x="47.1" y="386" width="1.7" height="111.4" fill="#ffc700"/><rect x="48.5" y="386" width="1.8" height="111.4" fill="#ff8a00"/><rect x="50" y="386" width="2.3" height="111.4" fill="#f0ff0f"/><rect x="52" y="386" width="2.7" height="111.4" fill="#80ff80"/><rect x="54.4" y="386" width="2.3" height="111.4" fill="#bdff42"/><rect x="56.4" y="386" width="2.2" height="111.4" fill="#80ff80"/><rect x="58.3" y="386" width="2.3" height="111.4" fill="#00e5ff"/><rect x="60.3" y="386" width="2.2" height="111.4" fill="#80ff80"/><rect x="62.2" y="386" width="3.3" height="111.4" fill="#bdff42"/><rect x="65.2" y="386" width="3.2" height="111.4" fill="#f0ff0f"/><rect x="68.1" y="386" width="2.3" height="111.4" fill="#42ffbd"/><rect x="70.1" y="386" width="3.2" height="111.4" fill="#00e5ff"/><rect x="73" y="386" width="2.8" height="111.4" fill="#bdff42"/><rect x="75.5" y="386" width="1.2" height="111.4" fill="#ff8a00"/><rect x="76.4" y="386" width="1.8" height="111.4" fill="#fa0000"/><rect x="77.9" y="386" width="1.8" height="111.4" fill="#f0ff0f"/><rect x="79.4" y="386" width="2.7" height="111.4" fill="#0061ff"/><rect x="81.8" y="386" width="2.3" height="111.4" fill="#00e5ff"/><rect x="83.8" y="386" width="1.7" height="111.4" fill="#f0ff0f"/><rect x="85.2" y="386" width="2.3" height="111.4" fill="#ffc700"/><rect x="87.2" y="386" width="2.3" height="111.4" fill="#f0ff0f"/><rect x="89.2" y="386" width="6.1" height="111.4" fill="#bdff42"/><rect x="95" y="386" width="2.3" height="111.4" fill="#80ff80"/><rect x="97" y="386" width="2.7" height="111.4" fill="#42ffbd"/><rect x="99.4" y="386" width="2.7" height="111.4" fill="#80ff80"/><rect x="101.8" y="386" width="2.8" height="111.4" fill="#bdff42"/><rect x="104.3" y="386" width="1.8" height="111.4" fill="#ffc700"/><rect x="105.8" y="386" width="1.7" height="111.4" fill="#f0ff0f"/><rect x="107.2" y="386" width="2.3" height="111.4" fill="#42ffbd"/><rect x="109.2" y="386" width="2.2" height="111.4" fill="#80ff80"/><rect x="111.1" y="386" width="1.8" height="111.4" fill="#bdff42"/><rect x="112.6" y="386" width="1.8" height="111.4" fill="#80ff80"/><rect x="114.1" y="386" width="2.2" height="111.4" fill="#42ffbd"/><rect x="116" y="386" width="2.3" height="111.4" fill="#00e5ff"/><rect x="118" y="386" width="2.3" height="111.4" fill="#80ff80"/><rect x="120" y="386" width="2.2" height="111.4" fill="#f0ff0f"/><rect x="121.9" y="386" width="1.8" height="111.4" fill="#ffc700"/><rect x="123.4" y="386" width="1.3" height="111.4" fill="#00e5ff"/><rect x="124.4" y="386" width="2.7" height="111.4" fill="#000fff"/><rect x="126.8" y="386" width="1.8" height="111.4" fill="#bdff42"/><rect x="128.3" y="386" width="3.7" height="111.4" fill="#fa0000"/><rect x="131.7" y="386" width="1.8" height="111.4" fill="#f0ff0f"/><rect x="133.2" y="386" width="3.2" height="111.4" fill="#80ff80"/><rect x="136.1" y="386" width="2.2" height="111.4" fill="#f0ff0f"/><rect x="138" y="386" width="3.3" height="111.4" fill="#42ffbd"/><rect x="141" y="386" width="3.2" height="111.4" fill="#bdff42"/><rect x="143.9" y="386" width="4.2" height="111.4" fill="#80ff80"/><rect x="147.8" y="386" width="2.3" height="111.4" fill="#bdff42"/><rect x="149.8" y="386" width="3.2" height="111.4" fill="#80ff80"/><rect x="152.7" y="386" width="1.8" height="111.4" fill="#00e5ff"/><rect x="154.2" y="386" width="2.7" height="111.4" fill="#80ff80"/><rect x="156.6" y="386" width="3.8" height="111.4" fill="#bdff42"/><rect x="160.1" y="386" width="2.2" height="111.4" fill="#ff4c00"/><rect x="162" y="386" width="2.7" height="111.4" fill="#fa0000"/><rect x="164.4" y="386" width="1.8" height="111.4" fill="#ffc700"/><rect x="165.9" y="386" width="2.8" height="111.4" fill="#42ffbd"/><rect x="168.4" y="386" width="2.2" height="111.4" fill="#80ff80"/><rect x="170.3" y="386" width="1.8" height="111.4" fill="#bdff42"/><rect x="171.8" y="386" width="2.7" height="111.4" fill="#42ffbd"/><rect x="174.2" y="386" width="2.3" height="111.4" fill="#80ff80"/><rect x="176.2" y="386" width="2.2" height="111.4" fill="#bdff42"/><rect x="178.1" y="386" width="4.7" height="111.4" fill="#f0ff0f"/><rect x="182.5" y="386" width="2.8" height="111.4" fill="#80ff80"/><rect x="185" y="386" width="2.3" height="111.4" fill="#00e5ff"/><rect x="187" y="386" width="1.7" height="111.4" fill="#0061ff"/><rect x="188.4" y="386" width="2.3" height="111.4" fill="#00e5ff"/><rect x="190.4" y="386" width="2.2" height="111.4" fill="#ffc700"/><rect x="192.3" y="386" width="1.8" height="111.4" fill="#42ffbd"/><rect x="193.8" y="386" width="1.3" height="111.4" fill="#0061ff"/><rect x="194.8" y="386" width="1.5" height="111.4" fill="#000fff"/><rect x="196" y="386" width="3.8" height="111.4" fill="#0000bd"/><rect x="199.5" y="386" width="1.6" height="111.4" fill="#000fff"/><rect x="200.8" y="386" width="1.1" height="111.4" fill="#0061ff"/><rect x="201.6" y="386" width="0.8" height="111.4" fill="#00a8ff"/><rect x="202.1" y="386" width="1.8" height="111.4" fill="#00e5ff"/><rect x="203.6" y="386" width="1.8" height="111.4" fill="#80ff80"/><rect x="205.1" y="386" width="3.7" height="111.4" fill="#f0ff0f"/><rect x="208.5" y="386" width="1.8" height="111.4" fill="#80ff80"/><rect x="210" y="386" width="2.2" height="111.4" fill="#00e5ff"/><rect x="211.9" y="386" width="2.3" height="111.4" fill="#ff8a00"/><rect x="213.9" y="386" width="2.2" height="111.4" fill="#f0ff0f"/><rect x="215.8" y="386" width="1.8" height="111.4" fill="#80ff80"/><rect x="217.3" y="386" width="1.8" height="111.4" fill="#00e5ff"/><rect x="218.8" y="386" width="2.2" height="111.4" fill="#42ffbd"/><rect x="220.7" y="386" width="4.2" height="111.4" fill="#00e5ff"/><rect x="224.6" y="386" width="4.7" height="111.4" fill="#00a8ff"/><rect x="229" y="386" width="1.8" height="111.4" fill="#0061ff"/><rect x="230.5" y="386" width="1.8" height="111.4" fill="#42ffbd"/><rect x="232" y="386" width="2.3" height="111.4" fill="#f0ff0f"/><rect x="234" y="386" width="2.3" height="111.4" fill="#ff4c00"/><rect x="236" y="386" width="2.2" height="111.4" fill="#fa0000"/><rect x="237.9" y="386" width="2.3" height="111.4" fill="#00e5ff"/><rect x="239.9" y="386" width="3.8" height="111.4" fill="#000fff"/><rect x="243.4" y="386" width="1.8" height="111.4" fill="#00e5ff"/><rect x="244.9" y="386" width="2.3" height="111.4" fill="#ff8a00"/><rect x="246.9" y="386" width="2.3" height="111.4" fill="#bdff42"/><rect x="248.9" y="386" width="3.2" height="111.4" fill="#f0ff0f"/><rect x="251.8" y="386" width="2.8" height="111.4" fill="#42ffbd"/><rect x="254.3" y="386" width="3.8" height="111.4" fill="#bdff42"/><rect x="257.8" y="386" width="4.3" height="111.4" fill="#f0ff0f"/><rect x="261.8" y="386" width="1.8" height="111.4" fill="#00e5ff"/><rect x="263.3" y="386" width="2.2" height="111.4" fill="#0061ff"/><rect x="265.2" y="386" width="1.3" height="111.4" fill="#42ffbd"/><rect x="266.2" y="386" width="1.8" height="111.4" fill="#ffc700"/><rect x="267.7" y="386" width="4.3" height="111.4" fill="#fa0000"/><rect x="271.7" y="386" width="1.8" height="111.4" fill="#ff8a00"/><rect x="273.2" y="386" width="1.8" height="111.4" fill="#fa0000"/><rect x="274.7" y="386" width="1.8" height="111.4" fill="#f0ff0f"/><rect x="276.2" y="386" width="4.7" height="111.4" fill="#42ffbd"/><rect x="280.6" y="386" width="2.8" height="111.4" fill="#0061ff"/><rect x="283.1" y="386" width="1.8" height="111.4" fill="#00e5ff"/><rect x="284.6" y="386" width="1.8" height="111.4" fill="#ffc700"/><rect x="286.1" y="386" width="1.8" height="111.4" fill="#ff8a00"/><rect x="287.6" y="386" width="3.3" height="111.4" fill="#f0ff0f"/><rect x="290.6" y="386" width="14.8" height="111.4" fill="#00e5ff"/></g>
<g mask="url(#md)">
<g transform="translate(0 394.5) skewX(-1.77) translate(0 -394.5)"><rect x="20.3" y="386" width="12.9" height="111.4" fill="#80ff80"/><rect x="32.9" y="386" width="2.7" height="111.4" fill="#ff4c00"/><rect x="35.3" y="386" width="2.8" height="111.4" fill="#f0ff0f"/><rect x="37.8" y="386" width="3.2" height="111.4" fill="#bdff42"/><rect x="40.7" y="386" width="2.3" height="111.4" fill="#80ff80"/><rect x="42.7" y="386" width="3.7" height="111.4" fill="#00e5ff"/><rect x="46.1" y="386" width="1.8" height="111.4" fill="#80ff80"/><rect x="47.6" y="386" width="2.7" height="111.4" fill="#ffc700"/><rect x="50" y="386" width="2.8" height="111.4" fill="#f0ff0f"/><rect x="52.5" y="386" width="2.7" height="111.4" fill="#bdff42"/><rect x="54.9" y="386" width="2.8" height="111.4" fill="#80ff80"/><rect x="57.4" y="386" width="4.2" height="111.4" fill="#80ff80"/><rect x="61.3" y="386" width="2.2" height="111.4" fill="#42ffbd"/><rect x="63.2" y="386" width="4.2" height="111.4" fill="#bdff42"/><rect x="67.1" y="386" width="4.2" height="111.4" fill="#bdff42"/><rect x="71" y="386" width="4.3" height="111.4" fill="#80ff80"/><rect x="75" y="386" width="1.7" height="111.4" fill="#bdff42"/><rect x="76.4" y="386" width="2.8" height="111.4" fill="#ff8a00"/><rect x="78.9" y="386" width="1.7" height="111.4" fill="#f0ff0f"/><rect x="80.3" y="386" width="2.8" height="111.4" fill="#0061ff"/><rect x="82.8" y="386" width="2.3" height="111.4" fill="#00e5ff"/><rect x="84.8" y="386" width="2.2" height="111.4" fill="#ffc700"/><rect x="86.7" y="386" width="8.6" height="111.4" fill="#bdff42"/><rect x="95" y="386" width="2.7" height="111.4" fill="#80ff80"/><rect x="97.4" y="386" width="2.8" height="111.4" fill="#42ffbd"/><rect x="99.9" y="386" width="3.2" height="111.4" fill="#80ff80"/><rect x="102.8" y="386" width="2.8" height="111.4" fill="#bdff42"/><rect x="105.3" y="386" width="2.2" height="111.4" fill="#ffc700"/><rect x="107.2" y="386" width="2.8" height="111.4" fill="#80ff80"/><rect x="109.7" y="386" width="4.7" height="111.4" fill="#42ffbd"/><rect x="114.1" y="386" width="5.7" height="111.4" fill="#42ffbd"/><rect x="119.5" y="386" width="3.2" height="111.4" fill="#bdff42"/><rect x="122.4" y="386" width="2.7" height="111.4" fill="#80ff80"/><rect x="124.8" y="386" width="3.3" height="111.4" fill="#0061ff"/><rect x="127.8" y="386" width="2.2" height="111.4" fill="#bdff42"/><rect x="129.7" y="386" width="4.2" height="111.4" fill="#fa0000"/><rect x="133.6" y="386" width="2.3" height="111.4" fill="#f0ff0f"/><rect x="135.6" y="386" width="3.2" height="111.4" fill="#80ff80"/><rect x="138.5" y="386" width="3.8" height="111.4" fill="#bdff42"/><rect x="142" y="386" width="4.2" height="111.4" fill="#80ff80"/><rect x="145.9" y="386" width="3.2" height="111.4" fill="#bdff42"/><rect x="148.8" y="386" width="2.3" height="111.4" fill="#80ff80"/><rect x="150.8" y="386" width="2.2" height="111.4" fill="#00e5ff"/><rect x="152.7" y="386" width="4.2" height="111.4" fill="#42ffbd"/><rect x="156.6" y="386" width="3.3" height="111.4" fill="#42ffbd"/><rect x="159.6" y="386" width="2.7" height="111.4" fill="#ff8a00"/><rect x="162" y="386" width="4.7" height="111.4" fill="#bd0000"/><rect x="166.4" y="386" width="1.8" height="111.4" fill="#ffc700"/><rect x="167.9" y="386" width="3.2" height="111.4" fill="#42ffbd"/><rect x="170.8" y="386" width="3.7" height="111.4" fill="#80ff80"/><rect x="174.2" y="386" width="4.2" height="111.4" fill="#bdff42"/><rect x="178.1" y="386" width="2.8" height="111.4" fill="#bdff42"/><rect x="180.6" y="386" width="4.2" height="111.4" fill="#f0ff0f"/><rect x="184.5" y="386" width="3.2" height="111.4" fill="#80ff80"/><rect x="187.4" y="386" width="2.8" height="111.4" fill="#00e5ff"/><rect x="189.9" y="386" width="1.8" height="111.4" fill="#bdff42"/><rect x="191.4" y="386" width="1.9" height="111.4" fill="#80ff80"/><rect x="193" y="386" width="2.6" height="111.4" fill="#f0ff0f"/><rect x="195.3" y="386" width="5.2" height="111.4" fill="#0000bd"/><rect x="200.2" y="386" width="3.2" height="111.4" fill="#0061ff"/><rect x="203.1" y="386" width="2.3" height="111.4" fill="#00e5ff"/><rect x="205.1" y="386" width="3.2" height="111.4" fill="#bdff42"/><rect x="208" y="386" width="5.2" height="111.4" fill="#f0ff0f"/><rect x="212.9" y="386" width="2.7" height="111.4" fill="#ffc700"/><rect x="215.3" y="386" width="3.3" height="111.4" fill="#bdff42"/><rect x="218.3" y="386" width="3.7" height="111.4" fill="#42ffbd"/><rect x="221.7" y="386" width="4.2" height="111.4" fill="#00e5ff"/><rect x="225.6" y="386" width="3.7" height="111.4" fill="#0061ff"/><rect x="229" y="386" width="2.8" height="111.4" fill="#00a8ff"/><rect x="231.5" y="386" width="1.3" height="111.4" fill="#00e5ff"/><rect x="232.5" y="386" width="1.8" height="111.4" fill="#ffc700"/><rect x="234" y="386" width="1.8" height="111.4" fill="#ff4c00"/><rect x="235.5" y="386" width="3.7" height="111.4" fill="#fa0000"/><rect x="238.9" y="386" width="1.8" height="111.4" fill="#f0ff0f"/><rect x="240.4" y="386" width="1.3" height="111.4" fill="#00e5ff"/><rect x="241.4" y="386" width="3.3" height="111.4" fill="#000fff"/><rect x="244.4" y="386" width="1.8" height="111.4" fill="#00e5ff"/><rect x="245.9" y="386" width="5.2" height="111.4" fill="#f0ff0f"/><rect x="250.8" y="386" width="3.3" height="111.4" fill="#80ff80"/><rect x="253.8" y="386" width="4.3" height="111.4" fill="#42ffbd"/><rect x="257.8" y="386" width="4.3" height="111.4" fill="#bdff42"/><rect x="261.8" y="386" width="3.2" height="111.4" fill="#42ffbd"/><rect x="264.7" y="386" width="2.3" height="111.4" fill="#0061ff"/><rect x="266.7" y="386" width="2.1" height="111.4" fill="#ffc700"/><rect x="268.5" y="386" width="1.5" height="111.4" fill="#ff8a00"/><rect x="269.7" y="386" width="5.3" height="111.4" fill="#bd0000"/><rect x="274.7" y="386" width="1.8" height="111.4" fill="#ff8a00"/><rect x="276.2" y="386" width="1.8" height="111.4" fill="#f0ff0f"/><rect x="277.7" y="386" width="2.1" height="111.4" fill="#42ffbd"/><rect x="279.5" y="386" width="2.4" height="111.4" fill="#00e5ff"/><rect x="281.6" y="386" width="2.8" height="111.4" fill="#000fff"/><rect x="284.1" y="386" width="2.3" height="111.4" fill="#00e5ff"/><rect x="286.1" y="386" width="3.8" height="111.4" fill="#ffc700"/><rect x="289.6" y="386" width="2.3" height="111.4" fill="#f0ff0f"/><rect x="291.6" y="386" width="13.8" height="111.4" fill="#00e5ff"/></g>
</g>
<g mask="url(#nd)">
<g transform="translate(0 489.4) skewX(-1.77) translate(0 -489.4)"><rect x="20.3" y="386" width="10.4" height="111.4" fill="#ff8a00"/><rect x="30.4" y="386" width="3.3" height="111.4" fill="#ffc700"/><rect x="33.4" y="386" width="3.2" height="111.4" fill="#bdff42"/><rect x="36.3" y="386" width="2.8" height="111.4" fill="#80ff80"/><rect x="38.8" y="386" width="2.2" height="111.4" fill="#bdff42"/><rect x="40.7" y="386" width="1.8" height="111.4" fill="#00a8ff"/><rect x="42.2" y="386" width="2.7" height="111.4" fill="#42ffbd"/><rect x="44.6" y="386" width="2.3" height="111.4" fill="#80ff80"/><rect x="46.6" y="386" width="2.7" height="111.4" fill="#ffc700"/><rect x="49" y="386" width="3.3" height="111.4" fill="#bdff42"/><rect x="52" y="386" width="3.2" height="111.4" fill="#42ffbd"/><rect x="54.9" y="386" width="2.8" height="111.4" fill="#bdff42"/><rect x="57.4" y="386" width="3.2" height="111.4" fill="#f0ff0f"/><rect x="60.3" y="386" width="2.2" height="111.4" fill="#42ffbd"/><rect x="62.2" y="386" width="3.3" height="111.4" fill="#80ff80"/><rect x="65.2" y="386" width="4.2" height="111.4" fill="#bdff42"/><rect x="69.1" y="386" width="2.3" height="111.4" fill="#00a8ff"/><rect x="71.1" y="386" width="3.2" height="111.4" fill="#bdff42"/><rect x="74" y="386" width="1.3" height="111.4" fill="#ff8a00"/><rect x="75" y="386" width="2.2" height="111.4" fill="#fa0000"/><rect x="76.9" y="386" width="2.3" height="111.4" fill="#00e5ff"/><rect x="78.9" y="386" width="2.7" height="111.4" fill="#0061ff"/><rect x="81.3" y="386" width="2.3" height="111.4" fill="#00e5ff"/><rect x="83.3" y="386" width="4.7" height="111.4" fill="#bdff42"/><rect x="87.7" y="386" width="4.2" height="111.4" fill="#80ff80"/><rect x="91.6" y="386" width="3.7" height="111.4" fill="#bdff42"/><rect x="95" y="386" width="3.3" height="111.4" fill="#42ffbd"/><rect x="98" y="386" width="2.7" height="111.4" fill="#80ff80"/><rect x="100.4" y="386" width="2.2" height="111.4" fill="#ffc700"/><rect x="102.3" y="386" width="2.3" height="111.4" fill="#bdff42"/><rect x="104.3" y="386" width="2.7" height="111.4" fill="#80ff80"/><rect x="106.7" y="386" width="1.8" height="111.4" fill="#00a8ff"/><rect x="108.2" y="386" width="3.2" height="111.4" fill="#f0ff0f"/><rect x="111.1" y="386" width="2.8" height="111.4" fill="#80ff80"/><rect x="113.6" y="386" width="5.2" height="111.4" fill="#bdff42"/><rect x="118.5" y="386" width="2.7" height="111.4" fill="#ffc700"/><rect x="120.9" y="386" width="1.8" height="111.4" fill="#00e5ff"/><rect x="122.4" y="386" width="3.2" height="111.4" fill="#00a8ff"/><rect x="125.3" y="386" width="2.8" height="111.4" fill="#bdff42"/><rect x="127.8" y="386" width="2.2" height="111.4" fill="#ff4c00"/><rect x="129.7" y="386" width="2.8" height="111.4" fill="#f0ff0f"/><rect x="132.2" y="386" width="3.2" height="111.4" fill="#80ff80"/><rect x="135.1" y="386" width="3.2" height="111.4" fill="#42ffbd"/><rect x="138" y="386" width="4.3" height="111.4" fill="#bdff42"/><rect x="142" y="386" width="3.2" height="111.4" fill="#42ffbd"/><rect x="144.9" y="386" width="3.7" height="111.4" fill="#bdff42"/><rect x="148.3" y="386" width="2.8" height="111.4" fill="#80ff80"/><rect x="150.8" y="386" width="3.2" height="111.4" fill="#42ffbd"/><rect x="153.7" y="386" width="4.2" height="111.4" fill="#80ff80"/><rect x="157.6" y="386" width="2.8" height="111.4" fill="#bdff42"/><rect x="160.1" y="386" width="2.2" height="111.4" fill="#ff8a00"/><rect x="162" y="386" width="1.8" height="111.4" fill="#ff4c00"/><rect x="163.5" y="386" width="2.7" height="111.4" fill="#80ff80"/><rect x="165.9" y="386" width="3.2" height="111.4" fill="#42ffbd"/><rect x="168.8" y="386" width="3.3" height="111.4" fill="#bdff42"/><rect x="171.8" y="386" width="1.8" height="111.4" fill="#80ff80"/><rect x="173.3" y="386" width="1.7" height="111.4" fill="#00a8ff"/><rect x="174.7" y="386" width="2.8" height="111.4" fill="#42ffbd"/><rect x="177.2" y="386" width="4.7" height="111.4" fill="#f0ff0f"/><rect x="181.6" y="386" width="3.2" height="111.4" fill="#bdff42"/><rect x="184.5" y="386" width="4.7" height="111.4" fill="#80ff80"/><rect x="188.9" y="386" width="3.2" height="111.4" fill="#ffc700"/><rect x="191.8" y="386" width="1.8" height="111.4" fill="#42ffbd"/><rect x="193.3" y="386" width="2.3" height="111.4" fill="#00a8ff"/><rect x="195.3" y="386" width="2.2" height="111.4" fill="#0061ff"/><rect x="197.2" y="386" width="3.3" height="111.4" fill="#00e5ff"/><rect x="200.2" y="386" width="3.2" height="111.4" fill="#42ffbd"/><rect x="203.1" y="386" width="2.3" height="111.4" fill="#00a8ff"/><rect x="205.1" y="386" width="3.2" height="111.4" fill="#bdff42"/><rect x="208" y="386" width="3.2" height="111.4" fill="#80ff80"/><rect x="210.9" y="386" width="2.3" height="111.4" fill="#ffc700"/><rect x="212.9" y="386" width="4.2" height="111.4" fill="#bdff42"/><rect x="216.8" y="386" width="4.2" height="111.4" fill="#42ffbd"/><rect x="220.7" y="386" width="4.2" height="111.4" fill="#80ff80"/><rect x="224.6" y="386" width="4.7" height="111.4" fill="#00a8ff"/><rect x="229" y="386" width="2.8" height="111.4" fill="#42ffbd"/><rect x="231.5" y="386" width="2.3" height="111.4" fill="#f0ff0f"/><rect x="233.5" y="386" width="2.8" height="111.4" fill="#ff8a00"/><rect x="236" y="386" width="3.2" height="111.4" fill="#42ffbd"/><rect x="238.9" y="386" width="2.8" height="111.4" fill="#00a8ff"/><rect x="241.4" y="386" width="2.8" height="111.4" fill="#42ffbd"/><rect x="243.9" y="386" width="2.3" height="111.4" fill="#ff8a00"/><rect x="245.9" y="386" width="3.3" height="111.4" fill="#bdff42"/><rect x="248.9" y="386" width="1.7" height="111.4" fill="#ffc700"/><rect x="250.3" y="386" width="2.8" height="111.4" fill="#42ffbd"/><rect x="252.8" y="386" width="2.3" height="111.4" fill="#00a8ff"/><rect x="254.8" y="386" width="3.3" height="111.4" fill="#80ff80"/><rect x="257.8" y="386" width="3.3" height="111.4" fill="#f0ff0f"/><rect x="260.8" y="386" width="2.8" height="111.4" fill="#42ffbd"/><rect x="263.3" y="386" width="2.2" height="111.4" fill="#00a8ff"/><rect x="265.2" y="386" width="2.3" height="111.4" fill="#f0ff0f"/><rect x="267.2" y="386" width="2.8" height="111.4" fill="#ff4c00"/><rect x="269.7" y="386" width="2.8" height="111.4" fill="#ffc700"/><rect x="272.2" y="386" width="2.3" height="111.4" fill="#80ff80"/><rect x="274.2" y="386" width="4.8" height="111.4" fill="#42ffbd"/><rect x="278.7" y="386" width="2.7" height="111.4" fill="#80ff80"/><rect x="281.1" y="386" width="2.3" height="111.4" fill="#00a8ff"/><rect x="283.1" y="386" width="2.8" height="111.4" fill="#ffc700"/><rect x="285.6" y="386" width="4.3" height="111.4" fill="#bdff42"/><rect x="289.6" y="386" width="2.3" height="111.4" fill="#0061ff"/><rect x="291.6" y="386" width="13.8" height="111.4" fill="#00e5ff"/></g>
</g>
</g></g>

<rect x="28.3" y="390" width="268.8" height="103.4" fill="none" stroke="#262626" stroke-width="1.4"/>
<path d="M28.3 493.4h3.5M297.1 493.4h-3.5M28.3 484h3.5M297.1 484h-3.5M28.3 474.6h3.5M297.1 474.6h-3.5M28.3 465.2h3.5M297.1 465.2h-3.5M28.3 455.8h3.5M297.1 455.8h-3.5M28.3 446.4h3.5M297.1 446.4h-3.5M28.3 437h3.5M297.1 437h-3.5M28.3 427.6h3.5M297.1 427.6h-3.5M28.3 418.2h3.5M297.1 418.2h-3.5M28.3 408.8h3.5M297.1 408.8h-3.5M28.3 399.4h3.5M297.1 399.4h-3.5M28.3 390h3.5M297.1 390h-3.5M28.7 493.4v-3.6M28.7 390v3.6M57.92 493.4v-3.6M57.92 390v3.6M87.13 493.4v-3.6M87.13 390v3.6M116.35 493.4v-3.6M116.35 390v3.6M145.57 493.4v-3.6M145.57 390v3.6M174.79 493.4v-3.6M174.79 390v3.6M204 493.4v-3.6M204 390v3.6M233.22 493.4v-3.6M233.22 390v3.6M262.44 493.4v-3.6M262.44 390v3.6M291.66 493.4v-3.6M291.66 390v3.6" stroke="#262626" stroke-width="1.2" fill="none"/>

<rect x="308.7" y="390" width="15.9" height="103.4" fill="url(#jet)" stroke="#262626" stroke-width="1.2"/>
<path d="M324.6 397h-1.5M324.6 419h-1.5M324.6 441.3h-1.5M324.6 463.6h-1.5M324.6 485.6h-1.5" stroke="#262626" stroke-width="1" fill="none"/>

<g clip-path="url(#ce)"><g filter="url(#bl)">
<g transform="translate(0 567.2) skewX(-1.77) translate(0 -567.2)"><rect x="21" y="511.4" width="10.7" height="111.6" fill="#80ff80"/><rect x="31.4" y="511.4" width="2.3" height="111.6" fill="#ff8a00"/><rect x="33.4" y="511.4" width="2.3" height="111.6" fill="#ffc700"/><rect x="35.4" y="511.4" width="2.7" height="111.6" fill="#bdff42"/><rect x="37.8" y="511.4" width="2.8" height="111.6" fill="#f0ff0f"/><rect x="40.3" y="511.4" width="1.7" height="111.6" fill="#80ff80"/><rect x="41.7" y="511.4" width="2.3" height="111.6" fill="#00e5ff"/><rect x="43.7" y="511.4" width="2.2" height="111.6" fill="#42ffbd"/><rect x="45.6" y="511.4" width="3.3" height="111.6" fill="#bdff42"/><rect x="48.6" y="511.4" width="2.2" height="111.6" fill="#42ffbd"/><rect x="50.5" y="511.4" width="2.3" height="111.6" fill="#00a8ff"/><rect x="52.5" y="511.4" width="2.2" height="111.6" fill="#42ffbd"/><rect x="54.4" y="511.4" width="4.3" height="111.6" fill="#bdff42"/><rect x="58.4" y="511.4" width="2.2" height="111.6" fill="#80ff80"/><rect x="60.3" y="511.4" width="2.3" height="111.6" fill="#bdff42"/><rect x="62.3" y="511.4" width="2.2" height="111.6" fill="#80ff80"/><rect x="64.2" y="511.4" width="2.3" height="111.6" fill="#bdff42"/><rect x="66.2" y="511.4" width="3.2" height="111.6" fill="#f0ff0f"/><rect x="69.1" y="511.4" width="2.3" height="111.6" fill="#00e5ff"/><rect x="71.1" y="511.4" width="3.2" height="111.6" fill="#42ffbd"/><rect x="74" y="511.4" width="2.3" height="111.6" fill="#f0ff0f"/><rect x="76" y="511.4" width="2.2" height="111.6" fill="#ff4c00"/><rect x="77.9" y="511.4" width="1.8" height="111.6" fill="#f0ff0f"/><rect x="79.4" y="511.4" width="1.8" height="111.6" fill="#00e5ff"/><rect x="80.9" y="511.4" width="2.2" height="111.6" fill="#0061ff"/><rect x="82.8" y="511.4" width="1.8" height="111.6" fill="#00e5ff"/><rect x="84.3" y="511.4" width="3.7" height="111.6" fill="#bdff42"/><rect x="87.7" y="511.4" width="2.3" height="111.6" fill="#80ff80"/><rect x="89.7" y="511.4" width="2.2" height="111.6" fill="#00e5ff"/><rect x="91.6" y="511.4" width="2.8" height="111.6" fill="#42ffbd"/><rect x="94.1" y="511.4" width="2.2" height="111.6" fill="#bdff42"/><rect x="96" y="511.4" width="1.8" height="111.6" fill="#42ffbd"/><rect x="97.5" y="511.4" width="2.7" height="111.6" fill="#00a8ff"/><rect x="99.9" y="511.4" width="2.3" height="111.6" fill="#00e5ff"/><rect x="101.9" y="511.4" width="3.2" height="111.6" fill="#bdff42"/><rect x="104.8" y="511.4" width="2.3" height="111.6" fill="#ff8a00"/><rect x="106.8" y="511.4" width="1.7" height="111.6" fill="#f0ff0f"/><rect x="108.2" y="511.4" width="2.3" height="111.6" fill="#00e5ff"/><rect x="110.2" y="511.4" width="2.2" height="111.6" fill="#80ff80"/><rect x="112.1" y="511.4" width="2.3" height="111.6" fill="#42ffbd"/><rect x="114.1" y="511.4" width="2.7" height="111.6" fill="#00e5ff"/><rect x="116.5" y="511.4" width="3.3" height="111.6" fill="#42ffbd"/><rect x="119.5" y="511.4" width="2.2" height="111.6" fill="#bdff42"/><rect x="121.4" y="511.4" width="2.3" height="111.6" fill="#80ff80"/><rect x="123.4" y="511.4" width="1.8" height="111.6" fill="#00e5ff"/><rect x="124.9" y="511.4" width="3.2" height="111.6" fill="#000fff"/><rect x="127.8" y="511.4" width="1.8" height="111.6" fill="#bdff42"/><rect x="129.3" y="511.4" width="3.2" height="111.6" fill="#ff4c00"/><rect x="132.2" y="511.4" width="1.8" height="111.6" fill="#f0ff0f"/><rect x="133.7" y="511.4" width="1.7" height="111.6" fill="#00e5ff"/><rect x="135.1" y="511.4" width="2.3" height="111.6" fill="#00a8ff"/><rect x="137.1" y="511.4" width="2.7" height="111.6" fill="#42ffbd"/><rect x="139.5" y="511.4" width="2.3" height="111.6" fill="#80ff80"/><rect x="141.5" y="511.4" width="2.3" height="111.6" fill="#bdff42"/><rect x="143.5" y="511.4" width="2.7" height="111.6" fill="#80ff80"/><rect x="145.9" y="511.4" width="2.7" height="111.6" fill="#bdff42"/><rect x="148.3" y="511.4" width="2.8" height="111.6" fill="#f0ff0f"/><rect x="150.8" y="511.4" width="1.8" height="111.6" fill="#80ff80"/><rect x="152.3" y="511.4" width="2.7" height="111.6" fill="#00e5ff"/><rect x="154.7" y="511.4" width="2.3" height="111.6" fill="#42ffbd"/><rect x="156.7" y="511.4" width="2.7" height="111.6" fill="#00e5ff"/><rect x="159.1" y="511.4" width="2.3" height="111.6" fill="#bdff42"/><rect x="161.1" y="511.4" width="2.2" height="111.6" fill="#ff4c00"/><rect x="163" y="511.4" width="2.3" height="111.6" fill="#fa0000"/><rect x="165" y="511.4" width="1.7" height="111.6" fill="#ff8a00"/><rect x="166.4" y="511.4" width="1.8" height="111.6" fill="#bdff42"/><rect x="167.9" y="511.4" width="2.7" height="111.6" fill="#00e5ff"/><rect x="170.3" y="511.4" width="2.3" height="111.6" fill="#80ff80"/><rect x="172.3" y="511.4" width="2.3" height="111.6" fill="#bdff42"/><rect x="174.3" y="511.4" width="1.7" height="111.6" fill="#42ffbd"/><rect x="175.7" y="511.4" width="2.3" height="111.6" fill="#00e5ff"/><rect x="177.7" y="511.4" width="2.7" height="111.6" fill="#80ff80"/><rect x="180.1" y="511.4" width="4.2" height="111.6" fill="#f0ff0f"/><rect x="184" y="511.4" width="2.8" height="111.6" fill="#bdff42"/><rect x="186.5" y="511.4" width="2.2" height="111.6" fill="#42ffbd"/><rect x="188.4" y="511.4" width="1.8" height="111.6" fill="#00a8ff"/><rect x="189.9" y="511.4" width="2.3" height="111.6" fill="#42ffbd"/><rect x="191.9" y="511.4" width="1.7" height="111.6" fill="#ff8a00"/><rect x="193.3" y="511.4" width="1.5" height="111.6" fill="#00e5ff"/><rect x="194.5" y="511.4" width="1.3" height="111.6" fill="#0061ff"/><rect x="195.5" y="511.4" width="1.6" height="111.6" fill="#000fff"/><rect x="196.8" y="511.4" width="3.7" height="111.6" fill="#0000bd"/><rect x="200.2" y="511.4" width="1.4" height="111.6" fill="#000fff"/><rect x="201.3" y="511.4" width="1.4" height="111.6" fill="#0061ff"/><rect x="202.4" y="511.4" width="2" height="111.6" fill="#00a8ff"/><rect x="204.1" y="511.4" width="2.2" height="111.6" fill="#00e5ff"/><rect x="206" y="511.4" width="3.2" height="111.6" fill="#f0ff0f"/><rect x="208.9" y="511.4" width="2.3" height="111.6" fill="#80ff80"/><rect x="210.9" y="511.4" width="1.8" height="111.6" fill="#00e5ff"/><rect x="212.4" y="511.4" width="2.8" height="111.6" fill="#ffc700"/><rect x="214.9" y="511.4" width="1.7" height="111.6" fill="#f0ff0f"/><rect x="216.3" y="511.4" width="2.3" height="111.6" fill="#80ff80"/><rect x="218.3" y="511.4" width="1.8" height="111.6" fill="#00e5ff"/><rect x="219.8" y="511.4" width="2.2" height="111.6" fill="#42ffbd"/><rect x="221.7" y="511.4" width="2.3" height="111.6" fill="#00e5ff"/><rect x="223.7" y="511.4" width="2.2" height="111.6" fill="#42ffbd"/><rect x="225.6" y="511.4" width="4.7" height="111.6" fill="#00a8ff"/><rect x="230" y="511.4" width="1.8" height="111.6" fill="#0061ff"/><rect x="231.5" y="511.4" width="2.3" height="111.6" fill="#00e5ff"/><rect x="233.5" y="511.4" width="2.3" height="111.6" fill="#ffc700"/><rect x="235.5" y="511.4" width="2.9" height="111.6" fill="#fa0000"/><rect x="238.1" y="511.4" width="1.8" height="111.6" fill="#f0ff0f"/><rect x="239.6" y="511.4" width="1.3" height="111.6" fill="#00e5ff"/><rect x="240.6" y="511.4" width="4.3" height="111.6" fill="#000fff"/><rect x="244.6" y="511.4" width="1.8" height="111.6" fill="#00e5ff"/><rect x="246.1" y="511.4" width="1.8" height="111.6" fill="#ff8a00"/><rect x="247.6" y="511.4" width="1.8" height="111.6" fill="#ffc700"/><rect x="249.1" y="511.4" width="1.8" height="111.6" fill="#f0ff0f"/><rect x="250.6" y="511.4" width="1.9" height="111.6" fill="#ffc700"/><rect x="252.2" y="511.4" width="2.3" height="111.6" fill="#42ffbd"/><rect x="254.2" y="511.4" width="2.3" height="111.6" fill="#0061ff"/><rect x="256.2" y="511.4" width="2.3" height="111.6" fill="#00e5ff"/><rect x="258.2" y="511.4" width="2.3" height="111.6" fill="#bdff42"/><rect x="260.2" y="511.4" width="2.3" height="111.6" fill="#ffc700"/><rect x="262.2" y="511.4" width="1.8" height="111.6" fill="#42ffbd"/><rect x="263.7" y="511.4" width="2.3" height="111.6" fill="#0061ff"/><rect x="265.7" y="511.4" width="1.9" height="111.6" fill="#00e5ff"/><rect x="267.3" y="511.4" width="1.8" height="111.6" fill="#f0ff0f"/><rect x="268.8" y="511.4" width="3.3" height="111.6" fill="#fa0000"/><rect x="271.8" y="511.4" width="1.8" height="111.6" fill="#ff4c00"/><rect x="273.3" y="511.4" width="1.8" height="111.6" fill="#ff8a00"/><rect x="274.8" y="511.4" width="1.8" height="111.6" fill="#f0ff0f"/><rect x="276.3" y="511.4" width="1.8" height="111.6" fill="#00e5ff"/><rect x="277.8" y="511.4" width="3.9" height="111.6" fill="#42ffbd"/><rect x="281.4" y="511.4" width="2.8" height="111.6" fill="#000fff"/><rect x="283.9" y="511.4" width="1.8" height="111.6" fill="#00e5ff"/><rect x="285.4" y="511.4" width="1.8" height="111.6" fill="#ffc700"/><rect x="286.9" y="511.4" width="1.8" height="111.6" fill="#ff8a00"/><rect x="288.4" y="511.4" width="3.3" height="111.6" fill="#f0ff0f"/><rect x="291.4" y="511.4" width="15.7" height="111.6" fill="#00e5ff"/></g>
<g mask="url(#me)">
<g transform="translate(0 519.9) skewX(-1.77) translate(0 -519.9)"><rect x="21" y="511.4" width="12.7" height="111.6" fill="#80ff80"/><rect x="33.4" y="511.4" width="2.7" height="111.6" fill="#ff4c00"/><rect x="35.8" y="511.4" width="6.2" height="111.6" fill="#f0ff0f"/><rect x="41.7" y="511.4" width="2.3" height="111.6" fill="#bdff42"/><rect x="43.7" y="511.4" width="5.2" height="111.6" fill="#42ffbd"/><rect x="48.6" y="511.4" width="3.7" height="111.6" fill="#bdff42"/><rect x="52" y="511.4" width="2.7" height="111.6" fill="#42ffbd"/><rect x="54.4" y="511.4" width="3.3" height="111.6" fill="#80ff80"/><rect x="57.4" y="511.4" width="2.2" height="111.6" fill="#42ffbd"/><rect x="59.3" y="511.4" width="3.3" height="111.6" fill="#80ff80"/><rect x="62.3" y="511.4" width="3.2" height="111.6" fill="#bdff42"/><rect x="65.2" y="511.4" width="3.2" height="111.6" fill="#80ff80"/><rect x="68.1" y="511.4" width="3.3" height="111.6" fill="#42ffbd"/><rect x="71.1" y="511.4" width="3.2" height="111.6" fill="#80ff80"/><rect x="74" y="511.4" width="1.3" height="111.6" fill="#bdff42"/><rect x="75" y="511.4" width="2.3" height="111.6" fill="#f0ff0f"/><rect x="77" y="511.4" width="2.2" height="111.6" fill="#ff4c00"/><rect x="78.9" y="511.4" width="1.8" height="111.6" fill="#f0ff0f"/><rect x="80.4" y="511.4" width="2.2" height="111.6" fill="#00e5ff"/><rect x="82.3" y="511.4" width="1.8" height="111.6" fill="#00a8ff"/><rect x="83.8" y="511.4" width="3.2" height="111.6" fill="#80ff80"/><rect x="86.7" y="511.4" width="2.8" height="111.6" fill="#f0ff0f"/><rect x="89.2" y="511.4" width="7.1" height="111.6" fill="#42ffbd"/><rect x="96" y="511.4" width="2.3" height="111.6" fill="#42ffbd"/><rect x="98" y="511.4" width="3.2" height="111.6" fill="#00a8ff"/><rect x="100.9" y="511.4" width="2.7" height="111.6" fill="#80ff80"/><rect x="103.3" y="511.4" width="2.8" height="111.6" fill="#bdff42"/><rect x="105.8" y="511.4" width="2.2" height="111.6" fill="#f0ff0f"/><rect x="107.7" y="511.4" width="2.8" height="111.6" fill="#80ff80"/><rect x="110.2" y="511.4" width="3.2" height="111.6" fill="#42ffbd"/><rect x="113.1" y="511.4" width="6.7" height="111.6" fill="#00e5ff"/><rect x="119.5" y="511.4" width="2.8" height="111.6" fill="#80ff80"/><rect x="122" y="511.4" width="3.7" height="111.6" fill="#42ffbd"/><rect x="125.4" y="511.4" width="3.7" height="111.6" fill="#000fff"/><rect x="128.8" y="511.4" width="1.5" height="111.6" fill="#00e5ff"/><rect x="130" y="511.4" width="1" height="111.6" fill="#ffc700"/><rect x="130.7" y="511.4" width="3.8" height="111.6" fill="#ff4c00"/><rect x="134.2" y="511.4" width="2.2" height="111.6" fill="#f0ff0f"/><rect x="136.1" y="511.4" width="3.2" height="111.6" fill="#00e5ff"/><rect x="139" y="511.4" width="3.3" height="111.6" fill="#80ff80"/><rect x="142" y="511.4" width="4.2" height="111.6" fill="#bdff42"/><rect x="145.9" y="511.4" width="3.2" height="111.6" fill="#80ff80"/><rect x="148.8" y="511.4" width="2.8" height="111.6" fill="#f0ff0f"/><rect x="151.3" y="511.4" width="2.7" height="111.6" fill="#80ff80"/><rect x="153.7" y="511.4" width="2.3" height="111.6" fill="#00e5ff"/><rect x="155.7" y="511.4" width="4.2" height="111.6" fill="#0061ff"/><rect x="159.6" y="511.4" width="2.3" height="111.6" fill="#00e5ff"/><rect x="161.6" y="511.4" width="1.7" height="111.6" fill="#ff8a00"/><rect x="163" y="511.4" width="4.7" height="111.6" fill="#bd0000"/><rect x="167.4" y="511.4" width="2.3" height="111.6" fill="#ffc700"/><rect x="169.4" y="511.4" width="4.7" height="111.6" fill="#80ff80"/><rect x="173.8" y="511.4" width="5.2" height="111.6" fill="#42ffbd"/><rect x="178.7" y="511.4" width="4.2" height="111.6" fill="#bdff42"/><rect x="182.6" y="511.4" width="3.7" height="111.6" fill="#f0ff0f"/><rect x="186" y="511.4" width="2.7" height="111.6" fill="#80ff80"/><rect x="188.4" y="511.4" width="3.3" height="111.6" fill="#00e5ff"/><rect x="191.4" y="511.4" width="2.9" height="111.6" fill="#bdff42"/><rect x="194" y="511.4" width="2.6" height="111.6" fill="#f0ff0f"/><rect x="196.3" y="511.4" width="5.2" height="111.6" fill="#0000bd"/><rect x="201.2" y="511.4" width="2.2" height="111.6" fill="#0061ff"/><rect x="203.1" y="511.4" width="4.2" height="111.6" fill="#00a8ff"/><rect x="207" y="511.4" width="4.3" height="111.6" fill="#bdff42"/><rect x="211" y="511.4" width="5.1" height="111.6" fill="#f0ff0f"/><rect x="215.8" y="511.4" width="2.3" height="111.6" fill="#ffc700"/><rect x="217.8" y="511.4" width="2.3" height="111.6" fill="#80ff80"/><rect x="219.8" y="511.4" width="4.2" height="111.6" fill="#0061ff"/><rect x="223.7" y="511.4" width="4.2" height="111.6" fill="#00e5ff"/><rect x="227.6" y="511.4" width="2.7" height="111.6" fill="#0061ff"/><rect x="230" y="511.4" width="3.8" height="111.6" fill="#0061ff"/><rect x="233.5" y="511.4" width="1.8" height="111.6" fill="#00e5ff"/><rect x="235" y="511.4" width="1.3" height="111.6" fill="#ffc700"/><rect x="236" y="511.4" width="1.8" height="111.6" fill="#ff4c00"/><rect x="237.5" y="511.4" width="3.4" height="111.6" fill="#fa0000"/><rect x="240.6" y="511.4" width="1.8" height="111.6" fill="#f0ff0f"/><rect x="242.1" y="511.4" width="4.3" height="111.6" fill="#000fff"/><rect x="246.1" y="511.4" width="1.8" height="111.6" fill="#00e5ff"/><rect x="247.6" y="511.4" width="4.4" height="111.6" fill="#f0ff0f"/><rect x="251.7" y="511.4" width="1.3" height="111.6" fill="#ffc700"/><rect x="252.7" y="511.4" width="1.3" height="111.6" fill="#80ff80"/><rect x="253.7" y="511.4" width="1.6" height="111.6" fill="#42ffbd"/><rect x="255" y="511.4" width="2.5" height="111.6" fill="#00e5ff"/><rect x="257.2" y="511.4" width="3.3" height="111.6" fill="#00a8ff"/><rect x="260.2" y="511.4" width="2.1" height="111.6" fill="#bdff42"/><rect x="262" y="511.4" width="2" height="111.6" fill="#f0ff0f"/><rect x="263.7" y="511.4" width="3.9" height="111.6" fill="#42ffbd"/><rect x="267.3" y="511.4" width="2.3" height="111.6" fill="#f0ff0f"/><rect x="269.3" y="511.4" width="2.3" height="111.6" fill="#ff4c00"/><rect x="271.3" y="511.4" width="4.8" height="111.6" fill="#bd0000"/><rect x="275.8" y="511.4" width="1.8" height="111.6" fill="#ff8a00"/><rect x="277.3" y="511.4" width="2.3" height="111.6" fill="#f0ff0f"/><rect x="279.3" y="511.4" width="3.4" height="111.6" fill="#42ffbd"/><rect x="282.4" y="511.4" width="3.8" height="111.6" fill="#000fff"/><rect x="285.9" y="511.4" width="2.3" height="111.6" fill="#00e5ff"/><rect x="287.9" y="511.4" width="3.8" height="111.6" fill="#ffc700"/><rect x="291.4" y="511.4" width="2.3" height="111.6" fill="#bdff42"/><rect x="293.4" y="511.4" width="13.7" height="111.6" fill="#42ffbd"/></g>
</g>
<g mask="url(#ne)">
<g transform="translate(0 615) skewX(-1.77) translate(0 -615)"><rect x="21" y="511.4" width="10.7" height="111.6" fill="#ff8a00"/><rect x="31.4" y="511.4" width="2.8" height="111.6" fill="#f0ff0f"/><rect x="33.9" y="511.4" width="2.7" height="111.6" fill="#bdff42"/><rect x="36.3" y="511.4" width="4.7" height="111.6" fill="#42ffbd"/><rect x="40.7" y="511.4" width="2.3" height="111.6" fill="#00a8ff"/><rect x="42.7" y="511.4" width="2.3" height="111.6" fill="#bdff42"/><rect x="44.7" y="511.4" width="4.2" height="111.6" fill="#80ff80"/><rect x="48.6" y="511.4" width="4.2" height="111.6" fill="#00e5ff"/><rect x="52.5" y="511.4" width="4.2" height="111.6" fill="#42ffbd"/><rect x="56.4" y="511.4" width="2.3" height="111.6" fill="#00a8ff"/><rect x="58.4" y="511.4" width="3.2" height="111.6" fill="#bdff42"/><rect x="61.3" y="511.4" width="4.2" height="111.6" fill="#42ffbd"/><rect x="65.2" y="511.4" width="2.3" height="111.6" fill="#bdff42"/><rect x="67.2" y="511.4" width="4.2" height="111.6" fill="#42ffbd"/><rect x="71.1" y="511.4" width="3.2" height="111.6" fill="#80ff80"/><rect x="74" y="511.4" width="1.8" height="111.6" fill="#f0ff0f"/><rect x="75.5" y="511.4" width="2.2" height="111.6" fill="#ff8a00"/><rect x="77.4" y="511.4" width="1.8" height="111.6" fill="#00e5ff"/><rect x="78.9" y="511.4" width="2.3" height="111.6" fill="#0061ff"/><rect x="80.9" y="511.4" width="2.2" height="111.6" fill="#00e5ff"/><rect x="82.8" y="511.4" width="3.3" height="111.6" fill="#bdff42"/><rect x="85.8" y="511.4" width="3.2" height="111.6" fill="#80ff80"/><rect x="88.7" y="511.4" width="2.2" height="111.6" fill="#00a8ff"/><rect x="90.6" y="511.4" width="5.7" height="111.6" fill="#42ffbd"/><rect x="96" y="511.4" width="2.7" height="111.6" fill="#42ffbd"/><rect x="98.4" y="511.4" width="1.8" height="111.6" fill="#00a8ff"/><rect x="99.9" y="511.4" width="3.2" height="111.6" fill="#42ffbd"/><rect x="102.8" y="511.4" width="2.8" height="111.6" fill="#ffc700"/><rect x="105.3" y="511.4" width="1.8" height="111.6" fill="#f0ff0f"/><rect x="106.8" y="511.4" width="2.2" height="111.6" fill="#42ffbd"/><rect x="108.7" y="511.4" width="2.3" height="111.6" fill="#00e5ff"/><rect x="110.7" y="511.4" width="2.7" height="111.6" fill="#bdff42"/><rect x="113.1" y="511.4" width="2.8" height="111.6" fill="#42ffbd"/><rect x="115.6" y="511.4" width="2.2" height="111.6" fill="#80ff80"/><rect x="117.5" y="511.4" width="2.8" height="111.6" fill="#00e5ff"/><rect x="120" y="511.4" width="3.2" height="111.6" fill="#bdff42"/><rect x="122.9" y="511.4" width="1.8" height="111.6" fill="#00e5ff"/><rect x="124.4" y="511.4" width="2.2" height="111.6" fill="#000fff"/><rect x="126.3" y="511.4" width="2.3" height="111.6" fill="#00e5ff"/><rect x="128.3" y="511.4" width="2.7" height="111.6" fill="#ff4c00"/><rect x="130.7" y="511.4" width="2.3" height="111.6" fill="#f0ff0f"/><rect x="132.7" y="511.4" width="2.7" height="111.6" fill="#42ffbd"/><rect x="135.1" y="511.4" width="2.8" height="111.6" fill="#bdff42"/><rect x="137.6" y="511.4" width="3.2" height="111.6" fill="#00e5ff"/><rect x="140.5" y="511.4" width="3.7" height="111.6" fill="#bdff42"/><rect x="143.9" y="511.4" width="3.3" height="111.6" fill="#42ffbd"/><rect x="146.9" y="511.4" width="2.7" height="111.6" fill="#bdff42"/><rect x="149.3" y="511.4" width="2.8" height="111.6" fill="#42ffbd"/><rect x="151.8" y="511.4" width="3.2" height="111.6" fill="#00e5ff"/><rect x="154.7" y="511.4" width="3.2" height="111.6" fill="#bdff42"/><rect x="157.6" y="511.4" width="3.3" height="111.6" fill="#00a8ff"/><rect x="160.6" y="511.4" width="2.7" height="111.6" fill="#ff8a00"/><rect x="163" y="511.4" width="1.8" height="111.6" fill="#ff4c00"/><rect x="164.5" y="511.4" width="3.2" height="111.6" fill="#42ffbd"/><rect x="167.4" y="511.4" width="3.2" height="111.6" fill="#80ff80"/><rect x="170.3" y="511.4" width="3.3" height="111.6" fill="#bdff42"/><rect x="173.3" y="511.4" width="2.2" height="111.6" fill="#00a8ff"/><rect x="175.2" y="511.4" width="3.3" height="111.6" fill="#42ffbd"/><rect x="178.2" y="511.4" width="4.2" height="111.6" fill="#f0ff0f"/><rect x="182.1" y="511.4" width="2.7" height="111.6" fill="#bdff42"/><rect x="184.5" y="511.4" width="3.3" height="111.6" fill="#80ff80"/><rect x="187.5" y="511.4" width="2.2" height="111.6" fill="#42ffbd"/><rect x="189.4" y="511.4" width="3.3" height="111.6" fill="#ffc700"/><rect x="192.4" y="511.4" width="2.2" height="111.6" fill="#42ffbd"/><rect x="194.3" y="511.4" width="1.8" height="111.6" fill="#00a8ff"/><rect x="195.8" y="511.4" width="2.2" height="111.6" fill="#000fff"/><rect x="197.7" y="511.4" width="2.8" height="111.6" fill="#00a8ff"/><rect x="200.2" y="511.4" width="3.2" height="111.6" fill="#00e5ff"/><rect x="203.1" y="511.4" width="3.2" height="111.6" fill="#42ffbd"/><rect x="206" y="511.4" width="2.3" height="111.6" fill="#bdff42"/><rect x="208" y="511.4" width="2.3" height="111.6" fill="#80ff80"/><rect x="210" y="511.4" width="4.2" height="111.6" fill="#42ffbd"/><rect x="213.9" y="511.4" width="2.2" height="111.6" fill="#ffc700"/><rect x="215.8" y="511.4" width="3.3" height="111.6" fill="#80ff80"/><rect x="218.8" y="511.4" width="3.2" height="111.6" fill="#42ffbd"/><rect x="221.7" y="511.4" width="4.2" height="111.6" fill="#80ff80"/><rect x="225.6" y="511.4" width="4.7" height="111.6" fill="#00a8ff"/><rect x="230" y="511.4" width="3.3" height="111.6" fill="#42ffbd"/><rect x="233" y="511.4" width="1.8" height="111.6" fill="#f0ff0f"/><rect x="234.5" y="511.4" width="2.3" height="111.6" fill="#ff8a00"/><rect x="236.5" y="511.4" width="4.4" height="111.6" fill="#42ffbd"/><rect x="240.6" y="511.4" width="2.8" height="111.6" fill="#0061ff"/><rect x="243.1" y="511.4" width="2.3" height="111.6" fill="#00e5ff"/><rect x="245.1" y="511.4" width="2.3" height="111.6" fill="#ff8a00"/><rect x="247.1" y="511.4" width="2.8" height="111.6" fill="#bdff42"/><rect x="249.6" y="511.4" width="2.4" height="111.6" fill="#ffc700"/><rect x="251.7" y="511.4" width="3.8" height="111.6" fill="#42ffbd"/><rect x="255.2" y="511.4" width="2.3" height="111.6" fill="#00e5ff"/><rect x="257.2" y="511.4" width="3.3" height="111.6" fill="#f0ff0f"/><rect x="260.2" y="511.4" width="2.3" height="111.6" fill="#42ffbd"/><rect x="262.2" y="511.4" width="2.8" height="111.6" fill="#00a8ff"/><rect x="264.7" y="511.4" width="2.4" height="111.6" fill="#f0ff0f"/><rect x="266.8" y="511.4" width="2.8" height="111.6" fill="#fa0000"/><rect x="269.3" y="511.4" width="2.3" height="111.6" fill="#ff8a00"/><rect x="271.3" y="511.4" width="3.3" height="111.6" fill="#f0ff0f"/><rect x="274.3" y="511.4" width="3.3" height="111.6" fill="#80ff80"/><rect x="277.3" y="511.4" width="4.4" height="111.6" fill="#42ffbd"/><rect x="281.4" y="511.4" width="2.3" height="111.6" fill="#00a8ff"/><rect x="283.4" y="511.4" width="1.8" height="111.6" fill="#00e5ff"/><rect x="284.9" y="511.4" width="3.3" height="111.6" fill="#ffc700"/><rect x="287.9" y="511.4" width="3.3" height="111.6" fill="#bdff42"/><rect x="290.9" y="511.4" width="2.3" height="111.6" fill="#0061ff"/><rect x="292.9" y="511.4" width="14.2" height="111.6" fill="#00e5ff"/></g>
</g>
</g></g>

<rect x="29" y="515.4" width="269.8" height="103.6" fill="none" stroke="#262626" stroke-width="1.4"/>
<path d="M29 619h3.5M298.8 619h-3.5M29 609.58h3.5M298.8 609.58h-3.5M29 600.16h3.5M298.8 600.16h-3.5M29 590.75h3.5M298.8 590.75h-3.5M29 581.33h3.5M298.8 581.33h-3.5M29 571.91h3.5M298.8 571.91h-3.5M29 562.49h3.5M298.8 562.49h-3.5M29 553.07h3.5M298.8 553.07h-3.5M29 543.65h3.5M298.8 543.65h-3.5M29 534.24h3.5M298.8 534.24h-3.5M29 524.82h3.5M298.8 524.82h-3.5M29 515.4h3.5M298.8 515.4h-3.5M29.4 619v-3.6M29.4 515.4v3.6M58.73 619v-3.6M58.73 515.4v3.6M88.05 619v-3.6M88.05 515.4v3.6M117.38 619v-3.6M117.38 515.4v3.6M146.7 619v-3.6M146.7 515.4v3.6M176.03 619v-3.6M176.03 515.4v3.6M205.36 619v-3.6M205.36 515.4v3.6M234.68 619v-3.6M234.68 515.4v3.6M264.01 619v-3.6M264.01 515.4v3.6M293.33 619v-3.6M293.33 515.4v3.6" stroke="#262626" stroke-width="1.2" fill="none"/>

<rect x="310.3" y="515.4" width="16" height="103.6" fill="url(#jet)" stroke="#262626" stroke-width="1.2"/>
<path d="M326.3 523.1h-1.5M326.3 545.7h-1.5M326.3 568.6h-1.5M326.3 592.3h-1.5M326.3 615.4h-1.5" stroke="#262626" stroke-width="1" fill="none"/>

<g clip-path="url(#cf)"><g filter="url(#bl)">
<g transform="translate(0 70.45) skewX(-1.77) translate(0 -70.45)"><rect x="357.9" y="14.6" width="10.8" height="111.7" fill="#80ff80"/><rect x="368.4" y="14.6" width="2.8" height="111.7" fill="#ffc700"/><rect x="370.9" y="14.6" width="2.2" height="111.7" fill="#f0ff0f"/><rect x="372.8" y="14.6" width="2.3" height="111.7" fill="#80ff80"/><rect x="374.8" y="14.6" width="2.8" height="111.7" fill="#bdff42"/><rect x="377.3" y="14.6" width="2.2" height="111.7" fill="#80ff80"/><rect x="379.2" y="14.6" width="3.2" height="111.7" fill="#bdff42"/><rect x="382.1" y="14.6" width="2.3" height="111.7" fill="#00e5ff"/><rect x="384.1" y="14.6" width="2.3" height="111.7" fill="#42ffbd"/><rect x="386.1" y="14.6" width="2.2" height="111.7" fill="#00a8ff"/><rect x="388" y="14.6" width="2.3" height="111.7" fill="#000fff"/><rect x="390" y="14.6" width="1.7" height="111.7" fill="#0061ff"/><rect x="391.4" y="14.6" width="3.3" height="111.7" fill="#00a8ff"/><rect x="394.4" y="14.6" width="2.2" height="111.7" fill="#42ffbd"/><rect x="396.3" y="14.6" width="3.3" height="111.7" fill="#80ff80"/><rect x="399.3" y="14.6" width="2.2" height="111.7" fill="#42ffbd"/><rect x="401.2" y="14.6" width="2.8" height="111.7" fill="#bdff42"/><rect x="403.7" y="14.6" width="3.2" height="111.7" fill="#42ffbd"/><rect x="406.6" y="14.6" width="2.7" height="111.7" fill="#00e5ff"/><rect x="409" y="14.6" width="2.3" height="111.7" fill="#42ffbd"/><rect x="411" y="14.6" width="3.3" height="111.7" fill="#80ff80"/><rect x="414" y="14.6" width="2.2" height="111.7" fill="#ffc700"/><rect x="415.9" y="14.6" width="1.8" height="111.7" fill="#f0ff0f"/><rect x="417.4" y="14.6" width="2.2" height="111.7" fill="#80ff80"/><rect x="419.3" y="14.6" width="2.3" height="111.7" fill="#42ffbd"/><rect x="421.3" y="14.6" width="2.7" height="111.7" fill="#80ff80"/><rect x="423.7" y="14.6" width="2.3" height="111.7" fill="#00e5ff"/><rect x="425.7" y="14.6" width="3.2" height="111.7" fill="#00a8ff"/><rect x="428.6" y="14.6" width="2.3" height="111.7" fill="#00e5ff"/><rect x="430.6" y="14.6" width="2.7" height="111.7" fill="#42ffbd"/><rect x="433" y="14.6" width="1.3" height="111.7" fill="#00e5ff"/><rect x="434" y="14.6" width="3.2" height="111.7" fill="#0061ff"/><rect x="436.9" y="14.6" width="2.8" height="111.7" fill="#00e5ff"/><rect x="439.4" y="14.6" width="3.2" height="111.7" fill="#bdff42"/><rect x="442.3" y="14.6" width="2.7" height="111.7" fill="#f0ff0f"/><rect x="444.7" y="14.6" width="2.8" height="111.7" fill="#bdff42"/><rect x="447.2" y="14.6" width="2.7" height="111.7" fill="#42ffbd"/><rect x="449.6" y="14.6" width="2.8" height="111.7" fill="#00e5ff"/><rect x="452.1" y="14.6" width="2.2" height="111.7" fill="#42ffbd"/><rect x="454" y="14.6" width="2.3" height="111.7" fill="#00e5ff"/><rect x="456" y="14.6" width="2.3" height="111.7" fill="#0061ff"/><rect x="458" y="14.6" width="2.7" height="111.7" fill="#00e5ff"/><rect x="460.4" y="14.6" width="2.3" height="111.7" fill="#00a8ff"/><rect x="462.4" y="14.6" width="2.7" height="111.7" fill="#000fff"/><rect x="464.8" y="14.6" width="1.8" height="111.7" fill="#00e5ff"/><rect x="466.3" y="14.6" width="5.2" height="111.7" fill="#bdff42"/><rect x="471.2" y="14.6" width="2.2" height="111.7" fill="#42ffbd"/><rect x="473.1" y="14.6" width="3.2" height="111.7" fill="#80ff80"/><rect x="476" y="14.6" width="3.3" height="111.7" fill="#00e5ff"/><rect x="479" y="14.6" width="3.2" height="111.7" fill="#42ffbd"/><rect x="481.9" y="14.6" width="2.8" height="111.7" fill="#80ff80"/><rect x="484.4" y="14.6" width="2.7" height="111.7" fill="#f0ff0f"/><rect x="486.8" y="14.6" width="2.3" height="111.7" fill="#bdff42"/><rect x="488.8" y="14.6" width="2.2" height="111.7" fill="#00e5ff"/><rect x="490.7" y="14.6" width="7.2" height="111.7" fill="#0061ff"/><rect x="497.6" y="14.6" width="2.7" height="111.7" fill="#ffc700"/><rect x="500" y="14.6" width="2.3" height="111.7" fill="#fa0000"/><rect x="502" y="14.6" width="2.7" height="111.7" fill="#ff4c00"/><rect x="504.4" y="14.6" width="1.8" height="111.7" fill="#bdff42"/><rect x="505.9" y="14.6" width="3.2" height="111.7" fill="#42ffbd"/><rect x="508.8" y="14.6" width="2.3" height="111.7" fill="#bdff42"/><rect x="510.8" y="14.6" width="1.7" height="111.7" fill="#f0ff0f"/><rect x="512.2" y="14.6" width="2.3" height="111.7" fill="#00e5ff"/><rect x="514.2" y="14.6" width="2.7" height="111.7" fill="#42ffbd"/><rect x="516.6" y="14.6" width="4.3" height="111.7" fill="#80ff80"/><rect x="520.6" y="14.6" width="2.7" height="111.7" fill="#42ffbd"/><rect x="523" y="14.6" width="2.7" height="111.7" fill="#80ff80"/><rect x="525.4" y="14.6" width="2.8" height="111.7" fill="#42ffbd"/><rect x="527.9" y="14.6" width="2.2" height="111.7" fill="#ffc700"/><rect x="529.8" y="14.6" width="1.8" height="111.7" fill="#80ff80"/><rect x="531.3" y="14.6" width="2.3" height="111.7" fill="#00a8ff"/><rect x="533.3" y="14.6" width="5.6" height="111.7" fill="#000fff"/><rect x="538.6" y="14.6" width="1.8" height="111.7" fill="#0061ff"/><rect x="540.1" y="14.6" width="3.2" height="111.7" fill="#42ffbd"/><rect x="543" y="14.6" width="4.3" height="111.7" fill="#80ff80"/><rect x="547" y="14.6" width="2.2" height="111.7" fill="#bdff42"/><rect x="548.9" y="14.6" width="2.3" height="111.7" fill="#f0ff0f"/><rect x="550.9" y="14.6" width="2.2" height="111.7" fill="#80ff80"/><rect x="552.8" y="14.6" width="2.3" height="111.7" fill="#00e5ff"/><rect x="554.8" y="14.6" width="3.2" height="111.7" fill="#0061ff"/><rect x="557.7" y="14.6" width="1.8" height="111.7" fill="#00e5ff"/><rect x="559.2" y="14.6" width="3.7" height="111.7" fill="#0061ff"/><rect x="562.6" y="14.6" width="2.3" height="111.7" fill="#00e5ff"/><rect x="564.6" y="14.6" width="2.7" height="111.7" fill="#42ffbd"/><rect x="567" y="14.6" width="1.8" height="111.7" fill="#00a8ff"/><rect x="568.5" y="14.6" width="1.8" height="111.7" fill="#42ffbd"/><rect x="570" y="14.6" width="4.7" height="111.7" fill="#ff8a00"/><rect x="574.4" y="14.6" width="2.3" height="111.7" fill="#f0ff0f"/><rect x="576.4" y="14.6" width="1.8" height="111.7" fill="#00e5ff"/><rect x="577.9" y="14.6" width="3.8" height="111.7" fill="#000fff"/><rect x="581.4" y="14.6" width="2.3" height="111.7" fill="#00e5ff"/><rect x="583.4" y="14.6" width="2.3" height="111.7" fill="#ffc700"/><rect x="585.4" y="14.6" width="3.7" height="111.7" fill="#f0ff0f"/><rect x="588.8" y="14.6" width="2.8" height="111.7" fill="#42ffbd"/><rect x="591.3" y="14.6" width="2.3" height="111.7" fill="#00a8ff"/><rect x="593.3" y="14.6" width="2.3" height="111.7" fill="#00e5ff"/><rect x="595.3" y="14.6" width="2.8" height="111.7" fill="#bdff42"/><rect x="597.8" y="14.6" width="3.3" height="111.7" fill="#f0ff0f"/><rect x="600.8" y="14.6" width="1.8" height="111.7" fill="#00e5ff"/><rect x="602.3" y="14.6" width="2.2" height="111.7" fill="#00a8ff"/><rect x="604.2" y="14.6" width="1.3" height="111.7" fill="#ff8a00"/><rect x="605.2" y="14.6" width="2.8" height="111.7" fill="#fa0000"/><rect x="607.7" y="14.6" width="2.3" height="111.7" fill="#ffc700"/><rect x="609.7" y="14.6" width="3.3" height="111.7" fill="#f0ff0f"/><rect x="612.7" y="14.6" width="2.3" height="111.7" fill="#42ffbd"/><rect x="614.7" y="14.6" width="3.2" height="111.7" fill="#00e5ff"/><rect x="617.6" y="14.6" width="3.8" height="111.7" fill="#000fff"/><rect x="621.1" y="14.6" width="1.8" height="111.7" fill="#00e5ff"/><rect x="622.6" y="14.6" width="1.8" height="111.7" fill="#f0ff0f"/><rect x="624.1" y="14.6" width="2.8" height="111.7" fill="#ffc700"/><rect x="626.6" y="14.6" width="1.7" height="111.7" fill="#f0ff0f"/><rect x="628" y="14.6" width="14.8" height="111.7" fill="#42ffbd"/></g>
<g mask="url(#mf)">
<g transform="translate(0 23.1) skewX(-1.77) translate(0 -23.1)"><rect x="357.9" y="14.6" width="12.8" height="111.7" fill="#42ffbd"/><rect x="370.4" y="14.6" width="3.2" height="111.7" fill="#ffc700"/><rect x="373.3" y="14.6" width="7.7" height="111.7" fill="#bdff42"/><rect x="380.7" y="14.6" width="2.6" height="111.7" fill="#80ff80"/><rect x="383" y="14.6" width="2.9" height="111.7" fill="#42ffbd"/><rect x="385.6" y="14.6" width="3.2" height="111.7" fill="#00a8ff"/><rect x="388.5" y="14.6" width="1.8" height="111.7" fill="#0061ff"/><rect x="390" y="14.6" width="3.2" height="111.7" fill="#000fff"/><rect x="392.9" y="14.6" width="1.4" height="111.7" fill="#00a8ff"/><rect x="394" y="14.6" width="4.6" height="111.7" fill="#00e5ff"/><rect x="398.3" y="14.6" width="5.2" height="111.7" fill="#42ffbd"/><rect x="403.2" y="14.6" width="5.2" height="111.7" fill="#80ff80"/><rect x="408.1" y="14.6" width="5.2" height="111.7" fill="#42ffbd"/><rect x="413" y="14.6" width="2.2" height="111.7" fill="#bdff42"/><rect x="414.9" y="14.6" width="3.3" height="111.7" fill="#f0ff0f"/><rect x="417.9" y="14.6" width="3.2" height="111.7" fill="#bdff42"/><rect x="420.8" y="14.6" width="4.2" height="111.7" fill="#42ffbd"/><rect x="424.7" y="14.6" width="3.2" height="111.7" fill="#00e5ff"/><rect x="427.6" y="14.6" width="5.7" height="111.7" fill="#42ffbd"/><rect x="433" y="14.6" width="1.8" height="111.7" fill="#00e5ff"/><rect x="434.5" y="14.6" width="3.7" height="111.7" fill="#0061ff"/><rect x="437.9" y="14.6" width="2.7" height="111.7" fill="#00e5ff"/><rect x="440.3" y="14.6" width="2.8" height="111.7" fill="#42ffbd"/><rect x="442.8" y="14.6" width="3.7" height="111.7" fill="#bdff42"/><rect x="446.2" y="14.6" width="2.8" height="111.7" fill="#80ff80"/><rect x="448.7" y="14.6" width="4.2" height="111.7" fill="#42ffbd"/><rect x="452.6" y="14.6" width="3.2" height="111.7" fill="#00e5ff"/><rect x="455.5" y="14.6" width="2.8" height="111.7" fill="#00a8ff"/><rect x="458" y="14.6" width="4.7" height="111.7" fill="#0061ff"/><rect x="462.4" y="14.6" width="4.2" height="111.7" fill="#000fff"/><rect x="466.3" y="14.6" width="1.7" height="111.7" fill="#00e5ff"/><rect x="467.7" y="14.6" width="4.2" height="111.7" fill="#bdff42"/><rect x="471.6" y="14.6" width="2.8" height="111.7" fill="#80ff80"/><rect x="474.1" y="14.6" width="8.1" height="111.7" fill="#42ffbd"/><rect x="481.9" y="14.6" width="3.3" height="111.7" fill="#80ff80"/><rect x="484.9" y="14.6" width="2.4" height="111.7" fill="#f0ff0f"/><rect x="487" y="14.6" width="2.1" height="111.7" fill="#ffc700"/><rect x="488.8" y="14.6" width="2" height="111.7" fill="#bdff42"/><rect x="490.5" y="14.6" width="1.5" height="111.7" fill="#00e5ff"/><rect x="491.7" y="14.6" width="4.2" height="111.7" fill="#0061ff"/><rect x="495.6" y="14.6" width="2.7" height="111.7" fill="#00a8ff"/><rect x="498" y="14.6" width="2.3" height="111.7" fill="#42ffbd"/><rect x="500" y="14.6" width="1.8" height="111.7" fill="#ffc700"/><rect x="501.5" y="14.6" width="3.7" height="111.7" fill="#fa0000"/><rect x="504.9" y="14.6" width="2.2" height="111.7" fill="#ff8a00"/><rect x="506.8" y="14.6" width="6.2" height="111.7" fill="#bdff42"/><rect x="512.7" y="14.6" width="4.2" height="111.7" fill="#80ff80"/><rect x="516.6" y="14.6" width="9.1" height="111.7" fill="#42ffbd"/><rect x="525.4" y="14.6" width="1.9" height="111.7" fill="#80ff80"/><rect x="527" y="14.6" width="3.8" height="111.7" fill="#bdff42"/><rect x="530.5" y="14.6" width="2.1" height="111.7" fill="#f0ff0f"/><rect x="532.3" y="14.6" width="2.2" height="111.7" fill="#00e5ff"/><rect x="534.2" y="14.6" width="2.8" height="111.7" fill="#0061ff"/><rect x="536.7" y="14.6" width="2.1" height="111.7" fill="#0000bd"/><rect x="538.5" y="14.6" width="2.9" height="111.7" fill="#000fff"/><rect x="541.1" y="14.6" width="2.2" height="111.7" fill="#0061ff"/><rect x="543" y="14.6" width="1.8" height="111.7" fill="#00e5ff"/><rect x="544.5" y="14.6" width="1.8" height="111.7" fill="#80ff80"/><rect x="546" y="14.6" width="4.2" height="111.7" fill="#bdff42"/><rect x="549.9" y="14.6" width="2.4" height="111.7" fill="#f0ff0f"/><rect x="552" y="14.6" width="2.1" height="111.7" fill="#bdff42"/><rect x="553.8" y="14.6" width="2.3" height="111.7" fill="#00e5ff"/><rect x="555.8" y="14.6" width="7.1" height="111.7" fill="#0061ff"/><rect x="562.6" y="14.6" width="4.7" height="111.7" fill="#00a8ff"/><rect x="567" y="14.6" width="3.3" height="111.7" fill="#0061ff"/><rect x="570" y="14.6" width="2.3" height="111.7" fill="#42ffbd"/><rect x="572" y="14.6" width="5.2" height="111.7" fill="#ff8a00"/><rect x="576.9" y="14.6" width="0.9" height="111.7" fill="#f0ff0f"/><rect x="577.5" y="14.6" width="1.2" height="111.7" fill="#00e5ff"/><rect x="578.4" y="14.6" width="4.8" height="111.7" fill="#000fff"/><rect x="582.9" y="14.6" width="1.8" height="111.7" fill="#00e5ff"/><rect x="584.4" y="14.6" width="3.8" height="111.7" fill="#bdff42"/><rect x="587.9" y="14.6" width="3.2" height="111.7" fill="#f0ff0f"/><rect x="590.8" y="14.6" width="2.8" height="111.7" fill="#42ffbd"/><rect x="593.3" y="14.6" width="2.8" height="111.7" fill="#00e5ff"/><rect x="595.8" y="14.6" width="3.3" height="111.7" fill="#80ff80"/><rect x="598.8" y="14.6" width="2.8" height="111.7" fill="#bdff42"/><rect x="601.3" y="14.6" width="3.2" height="111.7" fill="#00e5ff"/><rect x="604.2" y="14.6" width="2.8" height="111.7" fill="#bdff42"/><rect x="606.7" y="14.6" width="2.3" height="111.7" fill="#ff4c00"/><rect x="608.7" y="14.6" width="2.3" height="111.7" fill="#ff8a00"/><rect x="610.7" y="14.6" width="2.3" height="111.7" fill="#f0ff0f"/><rect x="612.7" y="14.6" width="3.3" height="111.7" fill="#80ff80"/><rect x="615.7" y="14.6" width="3.7" height="111.7" fill="#42ffbd"/><rect x="619.1" y="14.6" width="4.3" height="111.7" fill="#000fff"/><rect x="623.1" y="14.6" width="2.3" height="111.7" fill="#00e5ff"/><rect x="625.1" y="14.6" width="3.3" height="111.7" fill="#ffc700"/><rect x="628.1" y="14.6" width="1.8" height="111.7" fill="#bdff42"/><rect x="629.6" y="14.6" width="13.2" height="111.7" fill="#42ffbd"/></g>
</g>
<g mask="url(#nf)">
<g transform="translate(0 118.3) skewX(-1.77) translate(0 -118.3)"><rect x="357.9" y="14.6" width="11.3" height="111.7" fill="#f0ff0f"/><rect x="368.9" y="14.6" width="2.3" height="111.7" fill="#ffc700"/><rect x="370.9" y="14.6" width="2.2" height="111.7" fill="#bdff42"/><rect x="372.8" y="14.6" width="2.8" height="111.7" fill="#42ffbd"/><rect x="375.3" y="14.6" width="3.7" height="111.7" fill="#bdff42"/><rect x="378.7" y="14.6" width="3.3" height="111.7" fill="#42ffbd"/><rect x="381.7" y="14.6" width="2.2" height="111.7" fill="#80ff80"/><rect x="383.6" y="14.6" width="3.2" height="111.7" fill="#00e5ff"/><rect x="386.5" y="14.6" width="3.8" height="111.7" fill="#000fff"/><rect x="390" y="14.6" width="3.2" height="111.7" fill="#00e5ff"/><rect x="392.9" y="14.6" width="2.8" height="111.7" fill="#42ffbd"/><rect x="395.4" y="14.6" width="2.2" height="111.7" fill="#bdff42"/><rect x="397.3" y="14.6" width="4.2" height="111.7" fill="#42ffbd"/><rect x="401.2" y="14.6" width="2.3" height="111.7" fill="#bdff42"/><rect x="403.2" y="14.6" width="4.2" height="111.7" fill="#00e5ff"/><rect x="407.1" y="14.6" width="3.2" height="111.7" fill="#42ffbd"/><rect x="410" y="14.6" width="2.3" height="111.7" fill="#80ff80"/><rect x="412" y="14.6" width="3.2" height="111.7" fill="#f0ff0f"/><rect x="414.9" y="14.6" width="2.3" height="111.7" fill="#80ff80"/><rect x="416.9" y="14.6" width="2.7" height="111.7" fill="#42ffbd"/><rect x="419.3" y="14.6" width="3.8" height="111.7" fill="#80ff80"/><rect x="422.8" y="14.6" width="3.2" height="111.7" fill="#00e5ff"/><rect x="425.7" y="14.6" width="3.2" height="111.7" fill="#00a8ff"/><rect x="428.6" y="14.6" width="4.7" height="111.7" fill="#42ffbd"/><rect x="433" y="14.6" width="2.3" height="111.7" fill="#0061ff"/><rect x="435" y="14.6" width="2.7" height="111.7" fill="#00e5ff"/><rect x="437.4" y="14.6" width="2.7" height="111.7" fill="#42ffbd"/><rect x="439.8" y="14.6" width="4.3" height="111.7" fill="#bdff42"/><rect x="443.8" y="14.6" width="2.2" height="111.7" fill="#80ff80"/><rect x="445.7" y="14.6" width="2.3" height="111.7" fill="#bdff42"/><rect x="447.7" y="14.6" width="3.2" height="111.7" fill="#42ffbd"/><rect x="450.6" y="14.6" width="3.2" height="111.7" fill="#00e5ff"/><rect x="453.5" y="14.6" width="3.3" height="111.7" fill="#42ffbd"/><rect x="456.5" y="14.6" width="3.2" height="111.7" fill="#00a8ff"/><rect x="459.4" y="14.6" width="2.3" height="111.7" fill="#42ffbd"/><rect x="461.4" y="14.6" width="3.7" height="111.7" fill="#000fff"/><rect x="464.8" y="14.6" width="2.3" height="111.7" fill="#00e5ff"/><rect x="466.8" y="14.6" width="4.2" height="111.7" fill="#bdff42"/><rect x="470.7" y="14.6" width="2.7" height="111.7" fill="#42ffbd"/><rect x="473.1" y="14.6" width="3.3" height="111.7" fill="#00e5ff"/><rect x="476.1" y="14.6" width="3.2" height="111.7" fill="#42ffbd"/><rect x="479" y="14.6" width="3.2" height="111.7" fill="#80ff80"/><rect x="481.9" y="14.6" width="2.8" height="111.7" fill="#42ffbd"/><rect x="484.4" y="14.6" width="2.2" height="111.7" fill="#f0ff0f"/><rect x="486.3" y="14.6" width="2.8" height="111.7" fill="#80ff80"/><rect x="488.8" y="14.6" width="3.2" height="111.7" fill="#00e5ff"/><rect x="491.7" y="14.6" width="3.2" height="111.7" fill="#00a8ff"/><rect x="494.6" y="14.6" width="3.3" height="111.7" fill="#0061ff"/><rect x="497.6" y="14.6" width="2.7" height="111.7" fill="#ff8a00"/><rect x="500" y="14.6" width="1.8" height="111.7" fill="#fa0000"/><rect x="501.5" y="14.6" width="2.2" height="111.7" fill="#ffc700"/><rect x="503.4" y="14.6" width="2.8" height="111.7" fill="#42ffbd"/><rect x="505.9" y="14.6" width="3.2" height="111.7" fill="#00e5ff"/><rect x="508.8" y="14.6" width="2.3" height="111.7" fill="#ffc700"/><rect x="510.8" y="14.6" width="2.2" height="111.7" fill="#00e5ff"/><rect x="512.7" y="14.6" width="3.3" height="111.7" fill="#80ff80"/><rect x="515.7" y="14.6" width="2.2" height="111.7" fill="#f0ff0f"/><rect x="517.6" y="14.6" width="3.2" height="111.7" fill="#42ffbd"/><rect x="520.5" y="14.6" width="3.3" height="111.7" fill="#80ff80"/><rect x="523.5" y="14.6" width="3.7" height="111.7" fill="#bdff42"/><rect x="526.9" y="14.6" width="2.8" height="111.7" fill="#f0ff0f"/><rect x="529.4" y="14.6" width="2.2" height="111.7" fill="#80ff80"/><rect x="531.3" y="14.6" width="2.3" height="111.7" fill="#00a8ff"/><rect x="533.3" y="14.6" width="4.7" height="111.7" fill="#000fff"/><rect x="537.7" y="14.6" width="1.7" height="111.7" fill="#00a8ff"/><rect x="539.1" y="14.6" width="3.3" height="111.7" fill="#00e5ff"/><rect x="542.1" y="14.6" width="4.2" height="111.7" fill="#42ffbd"/><rect x="546" y="14.6" width="2.7" height="111.7" fill="#80ff80"/><rect x="548.4" y="14.6" width="2.8" height="111.7" fill="#bdff42"/><rect x="550.9" y="14.6" width="2.7" height="111.7" fill="#42ffbd"/><rect x="553.3" y="14.6" width="3.3" height="111.7" fill="#00a8ff"/><rect x="556.3" y="14.6" width="3.7" height="111.7" fill="#42ffbd"/><rect x="559.7" y="14.6" width="3.2" height="111.7" fill="#00a8ff"/><rect x="562.6" y="14.6" width="4.7" height="111.7" fill="#00e5ff"/><rect x="567" y="14.6" width="3.8" height="111.7" fill="#00e5ff"/><rect x="570.5" y="14.6" width="2.8" height="111.7" fill="#ff8a00"/><rect x="573" y="14.6" width="3.7" height="111.7" fill="#42ffbd"/><rect x="576.4" y="14.6" width="1.8" height="111.7" fill="#00a8ff"/><rect x="577.9" y="14.6" width="2.3" height="111.7" fill="#0061ff"/><rect x="579.9" y="14.6" width="2.3" height="111.7" fill="#42ffbd"/><rect x="581.9" y="14.6" width="3.8" height="111.7" fill="#f0ff0f"/><rect x="585.4" y="14.6" width="1.8" height="111.7" fill="#80ff80"/><rect x="586.9" y="14.6" width="1.8" height="111.7" fill="#ffc700"/><rect x="588.4" y="14.6" width="2.7" height="111.7" fill="#00e5ff"/><rect x="590.8" y="14.6" width="2.3" height="111.7" fill="#00a8ff"/><rect x="592.8" y="14.6" width="3.3" height="111.7" fill="#42ffbd"/><rect x="595.8" y="14.6" width="2.3" height="111.7" fill="#ffc700"/><rect x="597.8" y="14.6" width="2.3" height="111.7" fill="#00e5ff"/><rect x="599.8" y="14.6" width="3.2" height="111.7" fill="#42ffbd"/><rect x="602.7" y="14.6" width="1.8" height="111.7" fill="#f0ff0f"/><rect x="604.2" y="14.6" width="2.3" height="111.7" fill="#fa0000"/><rect x="606.2" y="14.6" width="1.8" height="111.7" fill="#ff8a00"/><rect x="607.7" y="14.6" width="3.3" height="111.7" fill="#f0ff0f"/><rect x="610.7" y="14.6" width="3.3" height="111.7" fill="#80ff80"/><rect x="613.7" y="14.6" width="4.2" height="111.7" fill="#42ffbd"/><rect x="617.6" y="14.6" width="2.8" height="111.7" fill="#000fff"/><rect x="620.1" y="14.6" width="2.3" height="111.7" fill="#42ffbd"/><rect x="622.1" y="14.6" width="2.8" height="111.7" fill="#f0ff0f"/><rect x="624.6" y="14.6" width="2.3" height="111.7" fill="#ffc700"/><rect x="626.6" y="14.6" width="1.8" height="111.7" fill="#00a8ff"/><rect x="628.1" y="14.6" width="14.7" height="111.7" fill="#42ffbd"/></g>
</g>
</g></g>

<rect x="365.9" y="18.6" width="268.6" height="103.7" fill="none" stroke="#262626" stroke-width="1.4"/>
<path d="M365.9 122.3h3.5M634.5 122.3h-3.5M365.9 112.87h3.5M634.5 112.87h-3.5M365.9 103.45h3.5M634.5 103.45h-3.5M365.9 94.02h3.5M634.5 94.02h-3.5M365.9 84.59h3.5M634.5 84.59h-3.5M365.9 75.16h3.5M634.5 75.16h-3.5M365.9 65.74h3.5M634.5 65.74h-3.5M365.9 56.31h3.5M634.5 56.31h-3.5M365.9 46.88h3.5M634.5 46.88h-3.5M365.9 37.45h3.5M634.5 37.45h-3.5M365.9 28.03h3.5M634.5 28.03h-3.5M365.9 18.6h3.5M634.5 18.6h-3.5M366.3 122.3v-3.6M366.3 18.6v3.6M395.5 122.3v-3.6M395.5 18.6v3.6M424.69 122.3v-3.6M424.69 18.6v3.6M453.89 122.3v-3.6M453.89 18.6v3.6M483.08 122.3v-3.6M483.08 18.6v3.6M512.28 122.3v-3.6M512.28 18.6v3.6M541.47 122.3v-3.6M541.47 18.6v3.6M570.67 122.3v-3.6M570.67 18.6v3.6M599.87 122.3v-3.6M599.87 18.6v3.6M629.06 122.3v-3.6M629.06 18.6v3.6" stroke="#262626" stroke-width="1.2" fill="none"/>

<rect x="645.5" y="18.6" width="15.7" height="103.7" fill="url(#jet)" stroke="#262626" stroke-width="1.2"/>
<path d="M661.2 26.4h-1.5M661.2 43.3h-1.5M661.2 60h-1.5M661.2 77h-1.5M661.2 93.9h-1.5M661.2 110.9h-1.5" stroke="#262626" stroke-width="1" fill="none"/>

<g clip-path="url(#cg)"><g filter="url(#bl)">
<g transform="translate(0 191.85) skewX(-1.77) translate(0 -191.85)"><rect x="361.2" y="136" width="10.1" height="111.7" fill="#42ffbd"/><rect x="371" y="136" width="2.7" height="111.7" fill="#bdff42"/><rect x="373.4" y="136" width="2.3" height="111.7" fill="#80ff80"/><rect x="375.4" y="136" width="1.7" height="111.7" fill="#00e5ff"/><rect x="376.8" y="136" width="3.3" height="111.7" fill="#bdff42"/><rect x="379.8" y="136" width="1.7" height="111.7" fill="#00e5ff"/><rect x="381.2" y="136" width="2.8" height="111.7" fill="#80ff80"/><rect x="383.7" y="136" width="3.2" height="111.7" fill="#42ffbd"/><rect x="386.6" y="136" width="2.3" height="111.7" fill="#00e5ff"/><rect x="388.6" y="136" width="2.2" height="111.7" fill="#00a8ff"/><rect x="390.5" y="136" width="2.3" height="111.7" fill="#000fff"/><rect x="392.5" y="136" width="1.8" height="111.7" fill="#0061ff"/><rect x="394" y="136" width="3.7" height="111.7" fill="#00e5ff"/><rect x="397.4" y="136" width="2.2" height="111.7" fill="#42ffbd"/><rect x="399.3" y="136" width="3.8" height="111.7" fill="#80ff80"/><rect x="402.8" y="136" width="2.7" height="111.7" fill="#42ffbd"/><rect x="405.2" y="136" width="2.3" height="111.7" fill="#00e5ff"/><rect x="407.2" y="136" width="3.2" height="111.7" fill="#42ffbd"/><rect x="410.1" y="136" width="2.3" height="111.7" fill="#00e5ff"/><rect x="412.1" y="136" width="4.2" height="111.7" fill="#42ffbd"/><rect x="416" y="136" width="2.7" height="111.7" fill="#f0ff0f"/><rect x="418.4" y="136" width="2.3" height="111.7" fill="#bdff42"/><rect x="420.4" y="136" width="2.2" height="111.7" fill="#42ffbd"/><rect x="422.3" y="136" width="2.3" height="111.7" fill="#80ff80"/><rect x="424.3" y="136" width="2.2" height="111.7" fill="#42ffbd"/><rect x="426.2" y="136" width="2.3" height="111.7" fill="#00e5ff"/><rect x="428.2" y="136" width="1.8" height="111.7" fill="#00a8ff"/><rect x="429.7" y="136" width="3.2" height="111.7" fill="#0061ff"/><rect x="432.6" y="136" width="1.8" height="111.7" fill="#00e5ff"/><rect x="434.1" y="136" width="2.2" height="111.7" fill="#00e5ff"/><rect x="436" y="136" width="2.3" height="111.7" fill="#00a8ff"/><rect x="438" y="136" width="3.2" height="111.7" fill="#0061ff"/><rect x="440.9" y="136" width="2.2" height="111.7" fill="#00e5ff"/><rect x="442.8" y="136" width="2.8" height="111.7" fill="#42ffbd"/><rect x="445.3" y="136" width="2.3" height="111.7" fill="#bdff42"/><rect x="447.3" y="136" width="2.2" height="111.7" fill="#80ff80"/><rect x="449.2" y="136" width="3.2" height="111.7" fill="#42ffbd"/><rect x="452.1" y="136" width="3.8" height="111.7" fill="#00e5ff"/><rect x="455.6" y="136" width="3.2" height="111.7" fill="#42ffbd"/><rect x="458.5" y="136" width="2.8" height="111.7" fill="#00a8ff"/><rect x="461" y="136" width="2.7" height="111.7" fill="#00e5ff"/><rect x="463.4" y="136" width="2.3" height="111.7" fill="#00a8ff"/><rect x="465.4" y="136" width="2.7" height="111.7" fill="#000fff"/><rect x="467.8" y="136" width="1.8" height="111.7" fill="#00e5ff"/><rect x="469.3" y="136" width="4.2" height="111.7" fill="#f0ff0f"/><rect x="473.2" y="136" width="2.2" height="111.7" fill="#80ff80"/><rect x="475.1" y="136" width="2.3" height="111.7" fill="#42ffbd"/><rect x="477.1" y="136" width="2.2" height="111.7" fill="#00e5ff"/><rect x="479" y="136" width="3.3" height="111.7" fill="#42ffbd"/><rect x="482" y="136" width="2.3" height="111.7" fill="#80ff80"/><rect x="484" y="136" width="3.2" height="111.7" fill="#bdff42"/><rect x="486.9" y="136" width="3.2" height="111.7" fill="#42ffbd"/><rect x="489.8" y="136" width="2.8" height="111.7" fill="#f0ff0f"/><rect x="492.3" y="136" width="2.7" height="111.7" fill="#42ffbd"/><rect x="494.7" y="136" width="4.2" height="111.7" fill="#00e5ff"/><rect x="498.6" y="136" width="2.3" height="111.7" fill="#00e5ff"/><rect x="500.6" y="136" width="2.7" height="111.7" fill="#ffc700"/><rect x="503" y="136" width="2.3" height="111.7" fill="#fa0000"/><rect x="505" y="136" width="2.2" height="111.7" fill="#ffc700"/><rect x="506.9" y="136" width="2.3" height="111.7" fill="#80ff80"/><rect x="508.9" y="136" width="3.2" height="111.7" fill="#42ffbd"/><rect x="511.8" y="136" width="4.2" height="111.7" fill="#bdff42"/><rect x="515.7" y="136" width="2.8" height="111.7" fill="#00e5ff"/><rect x="518.2" y="136" width="2.7" height="111.7" fill="#80ff80"/><rect x="520.6" y="136" width="5.2" height="111.7" fill="#bdff42"/><rect x="525.5" y="136" width="2.3" height="111.7" fill="#80ff80"/><rect x="527.5" y="136" width="1.8" height="111.7" fill="#00e5ff"/><rect x="529" y="136" width="2.7" height="111.7" fill="#80ff80"/><rect x="531.4" y="136" width="3.2" height="111.7" fill="#f0ff0f"/><rect x="534.3" y="136" width="1.5" height="111.7" fill="#00e5ff"/><rect x="535.5" y="136" width="1.6" height="111.7" fill="#0061ff"/><rect x="536.8" y="136" width="1.5" height="111.7" fill="#000fff"/><rect x="538" y="136" width="3.8" height="111.7" fill="#0000bd"/><rect x="541.5" y="136" width="2.1" height="111.7" fill="#000fff"/><rect x="543.3" y="136" width="1.6" height="111.7" fill="#0061ff"/><rect x="544.6" y="136" width="2.2" height="111.7" fill="#00e5ff"/><rect x="546.5" y="136" width="2.8" height="111.7" fill="#bdff42"/><rect x="549" y="136" width="2.7" height="111.7" fill="#42ffbd"/><rect x="551.4" y="136" width="3.8" height="111.7" fill="#bdff42"/><rect x="554.9" y="136" width="2.2" height="111.7" fill="#80ff80"/><rect x="556.8" y="136" width="2.3" height="111.7" fill="#00e5ff"/><rect x="558.8" y="136" width="3.2" height="111.7" fill="#0061ff"/><rect x="561.7" y="136" width="2.3" height="111.7" fill="#00a8ff"/><rect x="563.7" y="136" width="4.2" height="111.7" fill="#00e5ff"/><rect x="567.6" y="136" width="2.7" height="111.7" fill="#42ffbd"/><rect x="570" y="136" width="1.8" height="111.7" fill="#0061ff"/><rect x="571.5" y="136" width="2.3" height="111.7" fill="#42ffbd"/><rect x="573.5" y="136" width="1.8" height="111.7" fill="#ffc700"/><rect x="575" y="136" width="2.7" height="111.7" fill="#ff8a00"/><rect x="577.4" y="136" width="1.8" height="111.7" fill="#f0ff0f"/><rect x="578.9" y="136" width="1.8" height="111.7" fill="#00e5ff"/><rect x="580.4" y="136" width="4.3" height="111.7" fill="#000fff"/><rect x="584.4" y="136" width="1.8" height="111.7" fill="#00e5ff"/><rect x="585.9" y="136" width="2.3" height="111.7" fill="#bdff42"/><rect x="587.9" y="136" width="5.2" height="111.7" fill="#f0ff0f"/><rect x="592.8" y="136" width="1.8" height="111.7" fill="#42ffbd"/><rect x="594.3" y="136" width="2.3" height="111.7" fill="#00a8ff"/><rect x="596.3" y="136" width="2.3" height="111.7" fill="#42ffbd"/><rect x="598.3" y="136" width="2.3" height="111.7" fill="#bdff42"/><rect x="600.3" y="136" width="3.8" height="111.7" fill="#f0ff0f"/><rect x="603.8" y="136" width="2.2" height="111.7" fill="#00e5ff"/><rect x="605.7" y="136" width="2.3" height="111.7" fill="#00a8ff"/><rect x="607.7" y="136" width="1.3" height="111.7" fill="#ff8a00"/><rect x="608.7" y="136" width="2.3" height="111.7" fill="#fa0000"/><rect x="610.7" y="136" width="2.3" height="111.7" fill="#ff8a00"/><rect x="612.7" y="136" width="3.3" height="111.7" fill="#f0ff0f"/><rect x="615.7" y="136" width="2.3" height="111.7" fill="#80ff80"/><rect x="617.7" y="136" width="3.2" height="111.7" fill="#42ffbd"/><rect x="620.6" y="136" width="3.8" height="111.7" fill="#0000bd"/><rect x="624.1" y="136" width="1.8" height="111.7" fill="#00e5ff"/><rect x="625.6" y="136" width="2.3" height="111.7" fill="#f0ff0f"/><rect x="627.6" y="136" width="2.8" height="111.7" fill="#ffc700"/><rect x="630.1" y="136" width="1.8" height="111.7" fill="#f0ff0f"/><rect x="631.6" y="136" width="14.1" height="111.7" fill="#00e5ff"/></g>
<g mask="url(#mg)">
<g transform="translate(0 144.5) skewX(-1.77) translate(0 -144.5)"><rect x="361.2" y="136" width="12.5" height="111.7" fill="#42ffbd"/><rect x="373.4" y="136" width="2.7" height="111.7" fill="#f0ff0f"/><rect x="375.8" y="136" width="6.2" height="111.7" fill="#bdff42"/><rect x="381.7" y="136" width="4.2" height="111.7" fill="#80ff80"/><rect x="385.6" y="136" width="4.2" height="111.7" fill="#42ffbd"/><rect x="389.5" y="136" width="6.2" height="111.7" fill="#0061ff"/><rect x="395.4" y="136" width="8.1" height="111.7" fill="#00e5ff"/><rect x="403.2" y="136" width="5.2" height="111.7" fill="#42ffbd"/><rect x="408.1" y="136" width="4.2" height="111.7" fill="#00e5ff"/><rect x="412" y="136" width="2.3" height="111.7" fill="#42ffbd"/><rect x="414" y="136" width="2.3" height="111.7" fill="#80ff80"/><rect x="416" y="136" width="3.2" height="111.7" fill="#f0ff0f"/><rect x="418.9" y="136" width="3.2" height="111.7" fill="#80ff80"/><rect x="421.8" y="136" width="5.2" height="111.7" fill="#42ffbd"/><rect x="426.7" y="136" width="3.3" height="111.7" fill="#00e5ff"/><rect x="429.7" y="136" width="6.6" height="111.7" fill="#0061ff"/><rect x="436" y="136" width="3.2" height="111.7" fill="#00e5ff"/><rect x="438.9" y="136" width="4.2" height="111.7" fill="#0061ff"/><rect x="442.8" y="136" width="2.8" height="111.7" fill="#00e5ff"/><rect x="445.3" y="136" width="3.7" height="111.7" fill="#bdff42"/><rect x="448.7" y="136" width="4.2" height="111.7" fill="#80ff80"/><rect x="452.6" y="136" width="7.2" height="111.7" fill="#00e5ff"/><rect x="459.5" y="136" width="4.2" height="111.7" fill="#00a8ff"/><rect x="463.4" y="136" width="2.3" height="111.7" fill="#00e5ff"/><rect x="465.4" y="136" width="3.2" height="111.7" fill="#0061ff"/><rect x="468.3" y="136" width="2" height="111.7" fill="#00e5ff"/><rect x="470" y="136" width="1" height="111.7" fill="#bdff42"/><rect x="470.7" y="136" width="3.8" height="111.7" fill="#f0ff0f"/><rect x="474.2" y="136" width="3.2" height="111.7" fill="#bdff42"/><rect x="477.1" y="136" width="9.2" height="111.7" fill="#80ff80"/><rect x="486" y="136" width="3.1" height="111.7" fill="#bdff42"/><rect x="488.8" y="136" width="3.3" height="111.7" fill="#f0ff0f"/><rect x="491.8" y="136" width="3.2" height="111.7" fill="#42ffbd"/><rect x="494.7" y="136" width="4.2" height="111.7" fill="#00a8ff"/><rect x="498.6" y="136" width="4.7" height="111.7" fill="#00e5ff"/><rect x="503" y="136" width="1.8" height="111.7" fill="#ffc700"/><rect x="504.5" y="136" width="3.7" height="111.7" fill="#fa0000"/><rect x="507.9" y="136" width="2.2" height="111.7" fill="#ffc700"/><rect x="509.8" y="136" width="8.2" height="111.7" fill="#42ffbd"/><rect x="517.7" y="136" width="4.2" height="111.7" fill="#00e5ff"/><rect x="521.6" y="136" width="6.2" height="111.7" fill="#bdff42"/><rect x="527.5" y="136" width="4.2" height="111.7" fill="#80ff80"/><rect x="531.4" y="136" width="3.2" height="111.7" fill="#bdff42"/><rect x="534.3" y="136" width="2.8" height="111.7" fill="#42ffbd"/><rect x="536.8" y="136" width="2.7" height="111.7" fill="#0061ff"/><rect x="539.2" y="136" width="4.2" height="111.7" fill="#0000bd"/><rect x="543.1" y="136" width="3.2" height="111.7" fill="#000fff"/><rect x="546" y="136" width="3.3" height="111.7" fill="#80ff80"/><rect x="549" y="136" width="8.1" height="111.7" fill="#bdff42"/><rect x="556.8" y="136" width="3.3" height="111.7" fill="#80ff80"/><rect x="559.8" y="136" width="4.2" height="111.7" fill="#0061ff"/><rect x="563.7" y="136" width="4.2" height="111.7" fill="#00a8ff"/><rect x="567.6" y="136" width="2.7" height="111.7" fill="#00e5ff"/><rect x="570" y="136" width="2.8" height="111.7" fill="#0061ff"/><rect x="572.5" y="136" width="1.8" height="111.7" fill="#42ffbd"/><rect x="574" y="136" width="1.3" height="111.7" fill="#ffc700"/><rect x="575" y="136" width="5.7" height="111.7" fill="#ff8a00"/><rect x="580.4" y="136" width="0.9" height="111.7" fill="#f0ff0f"/><rect x="581" y="136" width="1.2" height="111.7" fill="#00e5ff"/><rect x="581.9" y="136" width="4.8" height="111.7" fill="#000fff"/><rect x="586.4" y="136" width="1.8" height="111.7" fill="#00e5ff"/><rect x="587.9" y="136" width="2.4" height="111.7" fill="#bdff42"/><rect x="590" y="136" width="4.1" height="111.7" fill="#f0ff0f"/><rect x="593.8" y="136" width="2.3" height="111.7" fill="#42ffbd"/><rect x="595.8" y="136" width="2.8" height="111.7" fill="#00e5ff"/><rect x="598.3" y="136" width="2.8" height="111.7" fill="#80ff80"/><rect x="600.8" y="136" width="2.5" height="111.7" fill="#bdff42"/><rect x="603" y="136" width="2.1" height="111.7" fill="#f0ff0f"/><rect x="604.8" y="136" width="2.7" height="111.7" fill="#42ffbd"/><rect x="607.2" y="136" width="2.3" height="111.7" fill="#bdff42"/><rect x="609.2" y="136" width="2.3" height="111.7" fill="#ff4c00"/><rect x="611.2" y="136" width="2.8" height="111.7" fill="#fa0000"/><rect x="613.7" y="136" width="2.3" height="111.7" fill="#ffc700"/><rect x="615.7" y="136" width="2.6" height="111.7" fill="#80ff80"/><rect x="618" y="136" width="3.9" height="111.7" fill="#42ffbd"/><rect x="621.6" y="136" width="4.3" height="111.7" fill="#0000bd"/><rect x="625.6" y="136" width="2.3" height="111.7" fill="#00e5ff"/><rect x="627.6" y="136" width="6.3" height="111.7" fill="#f0ff0f"/><rect x="633.6" y="136" width="12.1" height="111.7" fill="#42ffbd"/></g>
</g>
<g mask="url(#ng)">
<g transform="translate(0 239.7) skewX(-1.77) translate(0 -239.7)"><rect x="361.2" y="136" width="10.5" height="111.7" fill="#f0ff0f"/><rect x="371.4" y="136" width="2.8" height="111.7" fill="#bdff42"/><rect x="373.9" y="136" width="3.2" height="111.7" fill="#00e5ff"/><rect x="376.8" y="136" width="2.3" height="111.7" fill="#bdff42"/><rect x="378.8" y="136" width="2.7" height="111.7" fill="#00e5ff"/><rect x="381.2" y="136" width="2.8" height="111.7" fill="#00a8ff"/><rect x="383.7" y="136" width="2.7" height="111.7" fill="#80ff80"/><rect x="386.1" y="136" width="3.3" height="111.7" fill="#00a8ff"/><rect x="389.1" y="136" width="3.7" height="111.7" fill="#000fff"/><rect x="392.5" y="136" width="3.2" height="111.7" fill="#00e5ff"/><rect x="395.4" y="136" width="3.3" height="111.7" fill="#42ffbd"/><rect x="398.4" y="136" width="4.2" height="111.7" fill="#80ff80"/><rect x="402.3" y="136" width="3.2" height="111.7" fill="#42ffbd"/><rect x="405.2" y="136" width="1.8" height="111.7" fill="#bdff42"/><rect x="406.7" y="136" width="3.7" height="111.7" fill="#00a8ff"/><rect x="410.1" y="136" width="5.2" height="111.7" fill="#42ffbd"/><rect x="415" y="136" width="2.7" height="111.7" fill="#f0ff0f"/><rect x="417.4" y="136" width="1.8" height="111.7" fill="#80ff80"/><rect x="418.9" y="136" width="3.7" height="111.7" fill="#00a8ff"/><rect x="422.3" y="136" width="3.3" height="111.7" fill="#42ffbd"/><rect x="425.3" y="136" width="3.2" height="111.7" fill="#00e5ff"/><rect x="428.2" y="136" width="3.7" height="111.7" fill="#0061ff"/><rect x="431.6" y="136" width="4.7" height="111.7" fill="#00e5ff"/><rect x="436" y="136" width="4.2" height="111.7" fill="#0061ff"/><rect x="439.9" y="136" width="3.2" height="111.7" fill="#00e5ff"/><rect x="442.8" y="136" width="4.3" height="111.7" fill="#bdff42"/><rect x="446.8" y="136" width="2.2" height="111.7" fill="#80ff80"/><rect x="448.7" y="136" width="3.7" height="111.7" fill="#42ffbd"/><rect x="452.1" y="136" width="2.8" height="111.7" fill="#00e5ff"/><rect x="454.6" y="136" width="2.7" height="111.7" fill="#42ffbd"/><rect x="457" y="136" width="3.3" height="111.7" fill="#00e5ff"/><rect x="460" y="136" width="4.7" height="111.7" fill="#42ffbd"/><rect x="464.4" y="136" width="1.3" height="111.7" fill="#00a8ff"/><rect x="465.4" y="136" width="2.2" height="111.7" fill="#000fff"/><rect x="467.3" y="136" width="2.3" height="111.7" fill="#00e5ff"/><rect x="469.3" y="136" width="2.7" height="111.7" fill="#f0ff0f"/><rect x="471.7" y="136" width="2.8" height="111.7" fill="#bdff42"/><rect x="474.2" y="136" width="3.2" height="111.7" fill="#00e5ff"/><rect x="477.1" y="136" width="3.2" height="111.7" fill="#80ff80"/><rect x="480" y="136" width="3.8" height="111.7" fill="#42ffbd"/><rect x="483.5" y="136" width="2.2" height="111.7" fill="#80ff80"/><rect x="485.4" y="136" width="3.7" height="111.7" fill="#bdff42"/><rect x="488.8" y="136" width="1.8" height="111.7" fill="#ff8a00"/><rect x="490.3" y="136" width="3.7" height="111.7" fill="#42ffbd"/><rect x="493.7" y="136" width="7.2" height="111.7" fill="#00e5ff"/><rect x="500.6" y="136" width="2.7" height="111.7" fill="#ff8a00"/><rect x="503" y="136" width="1.8" height="111.7" fill="#fa0000"/><rect x="504.5" y="136" width="2.2" height="111.7" fill="#ffc700"/><rect x="506.4" y="136" width="2.8" height="111.7" fill="#42ffbd"/><rect x="508.9" y="136" width="4.2" height="111.7" fill="#00e5ff"/><rect x="512.8" y="136" width="1.8" height="111.7" fill="#bdff42"/><rect x="514.3" y="136" width="3.7" height="111.7" fill="#00e5ff"/><rect x="517.7" y="136" width="1.7" height="111.7" fill="#80ff80"/><rect x="519.1" y="136" width="2.3" height="111.7" fill="#f0ff0f"/><rect x="521.1" y="136" width="3.2" height="111.7" fill="#80ff80"/><rect x="524" y="136" width="5.2" height="111.7" fill="#bdff42"/><rect x="528.9" y="136" width="3.8" height="111.7" fill="#f0ff0f"/><rect x="532.4" y="136" width="2.7" height="111.7" fill="#42ffbd"/><rect x="534.8" y="136" width="5.7" height="111.7" fill="#000fff"/><rect x="540.2" y="136" width="2.7" height="111.7" fill="#00a8ff"/><rect x="542.6" y="136" width="3.3" height="111.7" fill="#00e5ff"/><rect x="545.6" y="136" width="3.7" height="111.7" fill="#42ffbd"/><rect x="549" y="136" width="3.3" height="111.7" fill="#bdff42"/><rect x="552" y="136" width="3.2" height="111.7" fill="#42ffbd"/><rect x="554.9" y="136" width="3.2" height="111.7" fill="#00e5ff"/><rect x="557.8" y="136" width="4.2" height="111.7" fill="#0061ff"/><rect x="561.7" y="136" width="3.2" height="111.7" fill="#00e5ff"/><rect x="564.6" y="136" width="3.3" height="111.7" fill="#00a8ff"/><rect x="567.6" y="136" width="2.7" height="111.7" fill="#0061ff"/><rect x="570" y="136" width="2.3" height="111.7" fill="#00e5ff"/><rect x="572" y="136" width="2.3" height="111.7" fill="#f0ff0f"/><rect x="574" y="136" width="2.3" height="111.7" fill="#ff8a00"/><rect x="576" y="136" width="3.7" height="111.7" fill="#00e5ff"/><rect x="579.4" y="136" width="1.8" height="111.7" fill="#00a8ff"/><rect x="580.9" y="136" width="2.8" height="111.7" fill="#000fff"/><rect x="583.4" y="136" width="2.3" height="111.7" fill="#00e5ff"/><rect x="585.4" y="136" width="2.4" height="111.7" fill="#bdff42"/><rect x="587.5" y="136" width="2.7" height="111.7" fill="#f0ff0f"/><rect x="589.9" y="136" width="1.8" height="111.7" fill="#ffc700"/><rect x="591.4" y="136" width="2.2" height="111.7" fill="#00e5ff"/><rect x="593.3" y="136" width="2.8" height="111.7" fill="#00a8ff"/><rect x="595.8" y="136" width="3.3" height="111.7" fill="#42ffbd"/><rect x="598.8" y="136" width="3.3" height="111.7" fill="#bdff42"/><rect x="601.8" y="136" width="2.3" height="111.7" fill="#00e5ff"/><rect x="603.8" y="136" width="1.5" height="111.7" fill="#80ff80"/><rect x="605" y="136" width="1" height="111.7" fill="#f0ff0f"/><rect x="605.7" y="136" width="2.8" height="111.7" fill="#fa0000"/><rect x="608.2" y="136" width="2.3" height="111.7" fill="#ff8a00"/><rect x="610.2" y="136" width="2.8" height="111.7" fill="#f0ff0f"/><rect x="612.7" y="136" width="2.3" height="111.7" fill="#80ff80"/><rect x="614.7" y="136" width="4.3" height="111.7" fill="#42ffbd"/><rect x="618.7" y="136" width="2.2" height="111.7" fill="#00a8ff"/><rect x="620.6" y="136" width="3.3" height="111.7" fill="#000fff"/><rect x="623.6" y="136" width="2.3" height="111.7" fill="#00e5ff"/><rect x="625.6" y="136" width="4.3" height="111.7" fill="#bdff42"/><rect x="629.6" y="136" width="1.8" height="111.7" fill="#ffc700"/><rect x="631.1" y="136" width="2.8" height="111.7" fill="#00a8ff"/><rect x="633.6" y="136" width="12.1" height="111.7" fill="#00e5ff"/></g>
</g>
</g></g>

<rect x="369.2" y="140" width="268.2" height="103.7" fill="none" stroke="#262626" stroke-width="1.4"/>
<path d="M369.2 243.7h3.5M637.4 243.7h-3.5M369.2 234.27h3.5M637.4 234.27h-3.5M369.2 224.85h3.5M637.4 224.85h-3.5M369.2 215.42h3.5M637.4 215.42h-3.5M369.2 205.99h3.5M637.4 205.99h-3.5M369.2 196.56h3.5M637.4 196.56h-3.5M369.2 187.14h3.5M637.4 187.14h-3.5M369.2 177.71h3.5M637.4 177.71h-3.5M369.2 168.28h3.5M637.4 168.28h-3.5M369.2 158.85h3.5M637.4 158.85h-3.5M369.2 149.43h3.5M637.4 149.43h-3.5M369.2 140h3.5M637.4 140h-3.5M369.6 243.7v-3.6M369.6 140v3.6M398.75 243.7v-3.6M398.75 140v3.6M427.9 243.7v-3.6M427.9 140v3.6M457.06 243.7v-3.6M457.06 140v3.6M486.21 243.7v-3.6M486.21 140v3.6M515.36 243.7v-3.6M515.36 140v3.6M544.51 243.7v-3.6M544.51 140v3.6M573.67 243.7v-3.6M573.67 140v3.6M602.82 243.7v-3.6M602.82 140v3.6M631.97 243.7v-3.6M631.97 140v3.6" stroke="#262626" stroke-width="1.2" fill="none"/>

<rect x="648.7" y="140" width="16" height="103.7" fill="url(#jet)" stroke="#262626" stroke-width="1.2"/>
<path d="M664.7 150.1h-1.5M664.7 166.7h-1.5M664.7 183h-1.5M664.7 199.1h-1.5M664.7 216.3h-1.5M664.7 232.9h-1.5" stroke="#262626" stroke-width="1" fill="none"/>

<g clip-path="url(#ch)"><g filter="url(#bl)">
<g transform="translate(0 317.4) skewX(-1.77) translate(0 -317.4)"><rect x="361.5" y="261.6" width="10" height="111.6" fill="#42ffbd"/><rect x="371.2" y="261.6" width="2.5" height="111.6" fill="#ffc700"/><rect x="373.4" y="261.6" width="6.7" height="111.6" fill="#f0ff0f"/><rect x="379.8" y="261.6" width="2.2" height="111.6" fill="#80ff80"/><rect x="381.7" y="261.6" width="1.8" height="111.6" fill="#00e5ff"/><rect x="383.2" y="261.6" width="1.8" height="111.6" fill="#0061ff"/><rect x="384.7" y="261.6" width="3.2" height="111.6" fill="#00e5ff"/><rect x="387.6" y="261.6" width="2.2" height="111.6" fill="#80ff80"/><rect x="389.5" y="261.6" width="2.3" height="111.6" fill="#bdff42"/><rect x="391.5" y="261.6" width="2.3" height="111.6" fill="#42ffbd"/><rect x="393.5" y="261.6" width="1.7" height="111.6" fill="#00e5ff"/><rect x="394.9" y="261.6" width="2.3" height="111.6" fill="#00a8ff"/><rect x="396.9" y="261.6" width="2.7" height="111.6" fill="#0061ff"/><rect x="399.3" y="261.6" width="2.3" height="111.6" fill="#00e5ff"/><rect x="401.3" y="261.6" width="2.2" height="111.6" fill="#42ffbd"/><rect x="403.2" y="261.6" width="2.8" height="111.6" fill="#00e5ff"/><rect x="405.7" y="261.6" width="2.7" height="111.6" fill="#80ff80"/><rect x="408.1" y="261.6" width="3.3" height="111.6" fill="#42ffbd"/><rect x="411.1" y="261.6" width="3.2" height="111.6" fill="#80ff80"/><rect x="414" y="261.6" width="2.3" height="111.6" fill="#bdff42"/><rect x="416" y="261.6" width="1.3" height="111.6" fill="#ff8a00"/><rect x="417" y="261.6" width="2.2" height="111.6" fill="#ff4c00"/><rect x="418.9" y="261.6" width="1.8" height="111.6" fill="#f0ff0f"/><rect x="420.4" y="261.6" width="1.7" height="111.6" fill="#00e5ff"/><rect x="421.8" y="261.6" width="1.8" height="111.6" fill="#0061ff"/><rect x="423.3" y="261.6" width="1.8" height="111.6" fill="#00e5ff"/><rect x="424.8" y="261.6" width="3.2" height="111.6" fill="#80ff80"/><rect x="427.7" y="261.6" width="2.3" height="111.6" fill="#42ffbd"/><rect x="429.7" y="261.6" width="2.2" height="111.6" fill="#80ff80"/><rect x="431.6" y="261.6" width="4.7" height="111.6" fill="#42ffbd"/><rect x="436" y="261.6" width="2.3" height="111.6" fill="#42ffbd"/><rect x="438" y="261.6" width="2.7" height="111.6" fill="#0061ff"/><rect x="440.4" y="261.6" width="2.7" height="111.6" fill="#00e5ff"/><rect x="442.8" y="261.6" width="3.3" height="111.6" fill="#42ffbd"/><rect x="445.8" y="261.6" width="2.7" height="111.6" fill="#bdff42"/><rect x="448.2" y="261.6" width="2.3" height="111.6" fill="#80ff80"/><rect x="450.2" y="261.6" width="2.7" height="111.6" fill="#00e5ff"/><rect x="452.6" y="261.6" width="3.3" height="111.6" fill="#42ffbd"/><rect x="455.6" y="261.6" width="2.2" height="111.6" fill="#00a8ff"/><rect x="457.5" y="261.6" width="2.8" height="111.6" fill="#00e5ff"/><rect x="460" y="261.6" width="2.7" height="111.6" fill="#42ffbd"/><rect x="462.4" y="261.6" width="2.8" height="111.6" fill="#00e5ff"/><rect x="464.9" y="261.6" width="3.2" height="111.6" fill="#000fff"/><rect x="467.8" y="261.6" width="1.8" height="111.6" fill="#00e5ff"/><rect x="469.3" y="261.6" width="1.7" height="111.6" fill="#f0ff0f"/><rect x="470.7" y="261.6" width="2.8" height="111.6" fill="#ffc700"/><rect x="473.2" y="261.6" width="2.2" height="111.6" fill="#f0ff0f"/><rect x="475.1" y="261.6" width="2.3" height="111.6" fill="#80ff80"/><rect x="477.1" y="261.6" width="2.2" height="111.6" fill="#00e5ff"/><rect x="479" y="261.6" width="3.3" height="111.6" fill="#42ffbd"/><rect x="482" y="261.6" width="3.2" height="111.6" fill="#00e5ff"/><rect x="484.9" y="261.6" width="3.3" height="111.6" fill="#80ff80"/><rect x="487.9" y="261.6" width="3.2" height="111.6" fill="#bdff42"/><rect x="490.8" y="261.6" width="2.3" height="111.6" fill="#80ff80"/><rect x="492.8" y="261.6" width="2.2" height="111.6" fill="#00e5ff"/><rect x="494.7" y="261.6" width="4.2" height="111.6" fill="#42ffbd"/><rect x="498.6" y="261.6" width="2.8" height="111.6" fill="#80ff80"/><rect x="501.1" y="261.6" width="2.2" height="111.6" fill="#ff8a00"/><rect x="503" y="261.6" width="2.3" height="111.6" fill="#fa0000"/><rect x="505" y="261.6" width="1.7" height="111.6" fill="#ffc700"/><rect x="506.4" y="261.6" width="2.8" height="111.6" fill="#42ffbd"/><rect x="508.9" y="261.6" width="3.2" height="111.6" fill="#00e5ff"/><rect x="511.8" y="261.6" width="3.2" height="111.6" fill="#42ffbd"/><rect x="514.7" y="261.6" width="2.8" height="111.6" fill="#00e5ff"/><rect x="517.2" y="261.6" width="3.7" height="111.6" fill="#80ff80"/><rect x="520.6" y="261.6" width="4.2" height="111.6" fill="#bdff42"/><rect x="524.5" y="261.6" width="2.3" height="111.6" fill="#bdff42"/><rect x="526.5" y="261.6" width="1.8" height="111.6" fill="#00e5ff"/><rect x="528" y="261.6" width="2.2" height="111.6" fill="#0061ff"/><rect x="529.9" y="261.6" width="2.3" height="111.6" fill="#00e5ff"/><rect x="531.9" y="261.6" width="2.7" height="111.6" fill="#bdff42"/><rect x="534.3" y="261.6" width="2.3" height="111.6" fill="#00e5ff"/><rect x="536.3" y="261.6" width="7.1" height="111.6" fill="#000fff"/><rect x="543.1" y="261.6" width="1.8" height="111.6" fill="#00a8ff"/><rect x="544.6" y="261.6" width="1.7" height="111.6" fill="#42ffbd"/><rect x="546" y="261.6" width="3.3" height="111.6" fill="#bdff42"/><rect x="549" y="261.6" width="2.3" height="111.6" fill="#42ffbd"/><rect x="551" y="261.6" width="3.2" height="111.6" fill="#80ff80"/><rect x="553.9" y="261.6" width="2.7" height="111.6" fill="#42ffbd"/><rect x="556.3" y="261.6" width="1.8" height="111.6" fill="#00e5ff"/><rect x="557.8" y="261.6" width="4.2" height="111.6" fill="#0061ff"/><rect x="561.7" y="261.6" width="2.3" height="111.6" fill="#00e5ff"/><rect x="563.7" y="261.6" width="2.2" height="111.6" fill="#0061ff"/><rect x="565.6" y="261.6" width="2.3" height="111.6" fill="#00e5ff"/><rect x="567.6" y="261.6" width="2.7" height="111.6" fill="#00a8ff"/><rect x="570" y="261.6" width="2.3" height="111.6" fill="#0061ff"/><rect x="572" y="261.6" width="2.3" height="111.6" fill="#42ffbd"/><rect x="574" y="261.6" width="2.3" height="111.6" fill="#f0ff0f"/><rect x="576" y="261.6" width="3.2" height="111.6" fill="#ffc700"/><rect x="578.9" y="261.6" width="1.8" height="111.6" fill="#80ff80"/><rect x="580.4" y="261.6" width="1.8" height="111.6" fill="#0061ff"/><rect x="581.9" y="261.6" width="3.3" height="111.6" fill="#000fff"/><rect x="584.9" y="261.6" width="1.8" height="111.6" fill="#80ff80"/><rect x="586.4" y="261.6" width="3.8" height="111.6" fill="#bdff42"/><rect x="589.9" y="261.6" width="3.2" height="111.6" fill="#80ff80"/><rect x="592.8" y="261.6" width="3.8" height="111.6" fill="#00e5ff"/><rect x="596.3" y="261.6" width="1.8" height="111.6" fill="#0061ff"/><rect x="597.8" y="261.6" width="2.3" height="111.6" fill="#00e5ff"/><rect x="599.8" y="261.6" width="4.3" height="111.6" fill="#00e5ff"/><rect x="603.8" y="261.6" width="2.7" height="111.6" fill="#42ffbd"/><rect x="606.2" y="261.6" width="1.8" height="111.6" fill="#ffc700"/><rect x="607.7" y="261.6" width="1.8" height="111.6" fill="#ff8a00"/><rect x="609.2" y="261.6" width="1.8" height="111.6" fill="#fa0000"/><rect x="610.7" y="261.6" width="1.8" height="111.6" fill="#ff8a00"/><rect x="612.2" y="261.6" width="1.8" height="111.6" fill="#ffc700"/><rect x="613.7" y="261.6" width="1.8" height="111.6" fill="#ff8a00"/><rect x="615.2" y="261.6" width="1.8" height="111.6" fill="#f0ff0f"/><rect x="616.7" y="261.6" width="2.3" height="111.6" fill="#00e5ff"/><rect x="618.7" y="261.6" width="3.2" height="111.6" fill="#42ffbd"/><rect x="621.6" y="261.6" width="3.3" height="111.6" fill="#000fff"/><rect x="624.6" y="261.6" width="2.3" height="111.6" fill="#00e5ff"/><rect x="626.6" y="261.6" width="1.8" height="111.6" fill="#f0ff0f"/><rect x="628.1" y="261.6" width="2.8" height="111.6" fill="#f0ff0f"/><rect x="630.6" y="261.6" width="2.3" height="111.6" fill="#bdff42"/><rect x="632.6" y="261.6" width="13.6" height="111.6" fill="#0061ff"/></g>
<g mask="url(#mh)">
<g transform="translate(0 270.1) skewX(-1.77) translate(0 -270.1)"><rect x="361.5" y="261.6" width="12.2" height="111.6" fill="#42ffbd"/><rect x="373.4" y="261.6" width="2.7" height="111.6" fill="#ffc700"/><rect x="375.8" y="261.6" width="6.2" height="111.6" fill="#f0ff0f"/><rect x="381.7" y="261.6" width="1.8" height="111.6" fill="#80ff80"/><rect x="383.2" y="261.6" width="4.7" height="111.6" fill="#00e5ff"/><rect x="387.6" y="261.6" width="6.2" height="111.6" fill="#bdff42"/><rect x="393.5" y="261.6" width="2.2" height="111.6" fill="#42ffbd"/><rect x="395.4" y="261.6" width="6.2" height="111.6" fill="#00a8ff"/><rect x="401.3" y="261.6" width="3" height="111.6" fill="#00e5ff"/><rect x="404" y="261.6" width="2.5" height="111.6" fill="#42ffbd"/><rect x="406.2" y="261.6" width="5.2" height="111.6" fill="#80ff80"/><rect x="411.1" y="261.6" width="6.2" height="111.6" fill="#42ffbd"/><rect x="417" y="261.6" width="4.2" height="111.6" fill="#ff8a00"/><rect x="420.9" y="261.6" width="2.2" height="111.6" fill="#f0ff0f"/><rect x="422.8" y="261.6" width="3.3" height="111.6" fill="#00a8ff"/><rect x="425.8" y="261.6" width="3.2" height="111.6" fill="#00e5ff"/><rect x="428.7" y="261.6" width="7.6" height="111.6" fill="#42ffbd"/><rect x="436" y="261.6" width="4.2" height="111.6" fill="#42ffbd"/><rect x="439.9" y="261.6" width="4.2" height="111.6" fill="#0061ff"/><rect x="443.8" y="261.6" width="2.8" height="111.6" fill="#00e5ff"/><rect x="446.3" y="261.6" width="4.7" height="111.6" fill="#bdff42"/><rect x="450.7" y="261.6" width="2.2" height="111.6" fill="#80ff80"/><rect x="452.6" y="261.6" width="3.3" height="111.6" fill="#00e5ff"/><rect x="455.6" y="261.6" width="4.2" height="111.6" fill="#0061ff"/><rect x="459.5" y="261.6" width="4.2" height="111.6" fill="#00e5ff"/><rect x="463.4" y="261.6" width="3.2" height="111.6" fill="#42ffbd"/><rect x="466.3" y="261.6" width="3.3" height="111.6" fill="#0061ff"/><rect x="469.3" y="261.6" width="1.7" height="111.6" fill="#00e5ff"/><rect x="470.7" y="261.6" width="4.2" height="111.6" fill="#ffc700"/><rect x="474.6" y="261.6" width="2.8" height="111.6" fill="#bdff42"/><rect x="477.1" y="261.6" width="5.2" height="111.6" fill="#42ffbd"/><rect x="482" y="261.6" width="7.1" height="111.6" fill="#80ff80"/><rect x="488.8" y="261.6" width="4.3" height="111.6" fill="#bdff42"/><rect x="492.8" y="261.6" width="2.2" height="111.6" fill="#42ffbd"/><rect x="494.7" y="261.6" width="5.2" height="111.6" fill="#00e5ff"/><rect x="499.6" y="261.6" width="3.7" height="111.6" fill="#bdff42"/><rect x="503" y="261.6" width="1.3" height="111.6" fill="#ffc700"/><rect x="504" y="261.6" width="3.7" height="111.6" fill="#fa0000"/><rect x="507.4" y="261.6" width="2.3" height="111.6" fill="#ffc700"/><rect x="509.4" y="261.6" width="4.7" height="111.6" fill="#00e5ff"/><rect x="513.8" y="261.6" width="3.2" height="111.6" fill="#42ffbd"/><rect x="516.7" y="261.6" width="6.2" height="111.6" fill="#80ff80"/><rect x="522.6" y="261.6" width="2.7" height="111.6" fill="#f0ff0f"/><rect x="525" y="261.6" width="2.8" height="111.6" fill="#bdff42"/><rect x="527.5" y="261.6" width="2.2" height="111.6" fill="#80ff80"/><rect x="529.4" y="261.6" width="3.3" height="111.6" fill="#00a8ff"/><rect x="532.4" y="261.6" width="4.2" height="111.6" fill="#42ffbd"/><rect x="536.3" y="261.6" width="2.2" height="111.6" fill="#00a8ff"/><rect x="538.2" y="261.6" width="3.1" height="111.6" fill="#0000bd"/><rect x="541" y="261.6" width="3.4" height="111.6" fill="#000fff"/><rect x="544.1" y="261.6" width="2.7" height="111.6" fill="#0061ff"/><rect x="546.5" y="261.6" width="2.8" height="111.6" fill="#80ff80"/><rect x="549" y="261.6" width="5.2" height="111.6" fill="#42ffbd"/><rect x="553.9" y="261.6" width="4.2" height="111.6" fill="#80ff80"/><rect x="557.8" y="261.6" width="3.2" height="111.6" fill="#00a8ff"/><rect x="560.7" y="261.6" width="5.2" height="111.6" fill="#0061ff"/><rect x="565.6" y="261.6" width="4.7" height="111.6" fill="#00a8ff"/><rect x="570" y="261.6" width="3.3" height="111.6" fill="#0061ff"/><rect x="573" y="261.6" width="1.8" height="111.6" fill="#00e5ff"/><rect x="574.5" y="261.6" width="1.3" height="111.6" fill="#bdff42"/><rect x="575.5" y="261.6" width="5.7" height="111.6" fill="#f0ff0f"/><rect x="580.9" y="261.6" width="1.8" height="111.6" fill="#80ff80"/><rect x="582.4" y="261.6" width="4.3" height="111.6" fill="#000fff"/><rect x="586.4" y="261.6" width="1.8" height="111.6" fill="#00e5ff"/><rect x="587.9" y="261.6" width="5.2" height="111.6" fill="#bdff42"/><rect x="592.8" y="261.6" width="3.3" height="111.6" fill="#42ffbd"/><rect x="595.8" y="261.6" width="3.3" height="111.6" fill="#0061ff"/><rect x="598.8" y="261.6" width="4.3" height="111.6" fill="#00e5ff"/><rect x="602.8" y="261.6" width="3.7" height="111.6" fill="#42ffbd"/><rect x="606.2" y="261.6" width="3.8" height="111.6" fill="#bdff42"/><rect x="609.7" y="261.6" width="2.3" height="111.6" fill="#ff4c00"/><rect x="611.7" y="261.6" width="3.3" height="111.6" fill="#ff8a00"/><rect x="614.7" y="261.6" width="2.3" height="111.6" fill="#f0ff0f"/><rect x="616.7" y="261.6" width="2.3" height="111.6" fill="#80ff80"/><rect x="618.7" y="261.6" width="3.2" height="111.6" fill="#00e5ff"/><rect x="621.6" y="261.6" width="4.3" height="111.6" fill="#000fff"/><rect x="625.6" y="261.6" width="3.3" height="111.6" fill="#00a8ff"/><rect x="628.6" y="261.6" width="5.3" height="111.6" fill="#f0ff0f"/><rect x="633.6" y="261.6" width="12.6" height="111.6" fill="#0061ff"/></g>
</g>
<g mask="url(#nh)">
<g transform="translate(0 365.2) skewX(-1.77) translate(0 -365.2)"><rect x="361.5" y="261.6" width="10.2" height="111.6" fill="#ffc700"/><rect x="371.4" y="261.6" width="2.3" height="111.6" fill="#f0ff0f"/><rect x="373.4" y="261.6" width="3.7" height="111.6" fill="#bdff42"/><rect x="376.8" y="261.6" width="3.3" height="111.6" fill="#f0ff0f"/><rect x="379.8" y="261.6" width="1.7" height="111.6" fill="#00e5ff"/><rect x="381.2" y="261.6" width="1.8" height="111.6" fill="#00a8ff"/><rect x="382.7" y="261.6" width="3.2" height="111.6" fill="#42ffbd"/><rect x="385.6" y="261.6" width="3.3" height="111.6" fill="#00e5ff"/><rect x="388.6" y="261.6" width="1.7" height="111.6" fill="#bdff42"/><rect x="390" y="261.6" width="3.8" height="111.6" fill="#42ffbd"/><rect x="393.5" y="261.6" width="3.7" height="111.6" fill="#00e5ff"/><rect x="396.9" y="261.6" width="1.8" height="111.6" fill="#0061ff"/><rect x="398.4" y="261.6" width="3.2" height="111.6" fill="#00e5ff"/><rect x="401.3" y="261.6" width="2.2" height="111.6" fill="#00a8ff"/><rect x="403.2" y="261.6" width="3.3" height="111.6" fill="#42ffbd"/><rect x="406.2" y="261.6" width="6.2" height="111.6" fill="#00e5ff"/><rect x="412.1" y="261.6" width="3.2" height="111.6" fill="#42ffbd"/><rect x="415" y="261.6" width="1.8" height="111.6" fill="#bdff42"/><rect x="416.5" y="261.6" width="1.2" height="111.6" fill="#ff8a00"/><rect x="417.4" y="261.6" width="1.8" height="111.6" fill="#f0ff0f"/><rect x="418.9" y="261.6" width="3.2" height="111.6" fill="#00a8ff"/><rect x="421.8" y="261.6" width="2.3" height="111.6" fill="#42ffbd"/><rect x="423.8" y="261.6" width="4.2" height="111.6" fill="#80ff80"/><rect x="427.7" y="261.6" width="4.2" height="111.6" fill="#bdff42"/><rect x="431.6" y="261.6" width="4.7" height="111.6" fill="#42ffbd"/><rect x="436" y="261.6" width="1.8" height="111.6" fill="#42ffbd"/><rect x="437.5" y="261.6" width="2.7" height="111.6" fill="#0061ff"/><rect x="439.9" y="261.6" width="3.2" height="111.6" fill="#00e5ff"/><rect x="442.8" y="261.6" width="2.8" height="111.6" fill="#bdff42"/><rect x="445.3" y="261.6" width="1.8" height="111.6" fill="#f0ff0f"/><rect x="446.8" y="261.6" width="2.2" height="111.6" fill="#80ff80"/><rect x="448.7" y="261.6" width="3.7" height="111.6" fill="#00e5ff"/><rect x="452.1" y="261.6" width="2.8" height="111.6" fill="#42ffbd"/><rect x="454.6" y="261.6" width="2.2" height="111.6" fill="#0061ff"/><rect x="456.5" y="261.6" width="3.3" height="111.6" fill="#00e5ff"/><rect x="459.5" y="261.6" width="3.2" height="111.6" fill="#bdff42"/><rect x="462.4" y="261.6" width="2.3" height="111.6" fill="#00e5ff"/><rect x="464.4" y="261.6" width="1.3" height="111.6" fill="#00a8ff"/><rect x="465.4" y="261.6" width="2.2" height="111.6" fill="#000fff"/><rect x="467.3" y="261.6" width="2.3" height="111.6" fill="#00e5ff"/><rect x="469.3" y="261.6" width="3.2" height="111.6" fill="#f0ff0f"/><rect x="472.2" y="261.6" width="2.3" height="111.6" fill="#80ff80"/><rect x="474.2" y="261.6" width="3.2" height="111.6" fill="#00e5ff"/><rect x="477.1" y="261.6" width="3.2" height="111.6" fill="#42ffbd"/><rect x="480" y="261.6" width="3.3" height="111.6" fill="#00e5ff"/><rect x="483" y="261.6" width="3.2" height="111.6" fill="#42ffbd"/><rect x="485.9" y="261.6" width="3.2" height="111.6" fill="#bdff42"/><rect x="488.8" y="261.6" width="1.8" height="111.6" fill="#ff8a00"/><rect x="490.3" y="261.6" width="3.7" height="111.6" fill="#42ffbd"/><rect x="493.7" y="261.6" width="7.2" height="111.6" fill="#00e5ff"/><rect x="500.6" y="261.6" width="2.7" height="111.6" fill="#ff4c00"/><rect x="503" y="261.6" width="1.8" height="111.6" fill="#ff8a00"/><rect x="504.5" y="261.6" width="2.7" height="111.6" fill="#42ffbd"/><rect x="506.9" y="261.6" width="3.2" height="111.6" fill="#00e5ff"/><rect x="509.8" y="261.6" width="3.3" height="111.6" fill="#42ffbd"/><rect x="512.8" y="261.6" width="2.2" height="111.6" fill="#00a8ff"/><rect x="514.7" y="261.6" width="3.8" height="111.6" fill="#42ffbd"/><rect x="518.2" y="261.6" width="4.7" height="111.6" fill="#bdff42"/><rect x="522.6" y="261.6" width="4.2" height="111.6" fill="#f0ff0f"/><rect x="526.5" y="261.6" width="2.2" height="111.6" fill="#80ff80"/><rect x="528.4" y="261.6" width="1.8" height="111.6" fill="#0061ff"/><rect x="529.9" y="261.6" width="1.8" height="111.6" fill="#42ffbd"/><rect x="531.4" y="261.6" width="2.2" height="111.6" fill="#ffc700"/><rect x="533.3" y="261.6" width="2.3" height="111.6" fill="#42ffbd"/><rect x="535.3" y="261.6" width="1.8" height="111.6" fill="#00a8ff"/><rect x="536.8" y="261.6" width="3.7" height="111.6" fill="#000fff"/><rect x="540.2" y="261.6" width="3.2" height="111.6" fill="#00a8ff"/><rect x="543.1" y="261.6" width="3.2" height="111.6" fill="#00e5ff"/><rect x="546" y="261.6" width="6.2" height="111.6" fill="#42ffbd"/><rect x="551.9" y="261.6" width="3.3" height="111.6" fill="#bdff42"/><rect x="554.9" y="261.6" width="3.2" height="111.6" fill="#42ffbd"/><rect x="557.8" y="261.6" width="4.2" height="111.6" fill="#00a8ff"/><rect x="561.7" y="261.6" width="4.2" height="111.6" fill="#00e5ff"/><rect x="565.6" y="261.6" width="4.7" height="111.6" fill="#00a8ff"/><rect x="570" y="261.6" width="1.8" height="111.6" fill="#0061ff"/><rect x="571.5" y="261.6" width="2.8" height="111.6" fill="#00e5ff"/><rect x="574" y="261.6" width="2.3" height="111.6" fill="#bdff42"/><rect x="576" y="261.6" width="4.7" height="111.6" fill="#42ffbd"/><rect x="580.4" y="261.6" width="2.3" height="111.6" fill="#00a8ff"/><rect x="582.4" y="261.6" width="2.3" height="111.6" fill="#000fff"/><rect x="584.4" y="261.6" width="1.8" height="111.6" fill="#00e5ff"/><rect x="585.9" y="261.6" width="2.4" height="111.6" fill="#bdff42"/><rect x="588" y="261.6" width="2.2" height="111.6" fill="#f0ff0f"/><rect x="589.9" y="261.6" width="2.7" height="111.6" fill="#bdff42"/><rect x="592.3" y="261.6" width="5.8" height="111.6" fill="#00e5ff"/><rect x="597.8" y="261.6" width="6.3" height="111.6" fill="#42ffbd"/><rect x="603.8" y="261.6" width="2.7" height="111.6" fill="#80ff80"/><rect x="606.2" y="261.6" width="1.8" height="111.6" fill="#ffc700"/><rect x="607.7" y="261.6" width="2.3" height="111.6" fill="#fa0000"/><rect x="609.7" y="261.6" width="2.3" height="111.6" fill="#ff8a00"/><rect x="611.7" y="261.6" width="1.3" height="111.6" fill="#f0ff0f"/><rect x="612.7" y="261.6" width="2.3" height="111.6" fill="#ff8a00"/><rect x="614.7" y="261.6" width="2.3" height="111.6" fill="#bdff42"/><rect x="616.7" y="261.6" width="4.2" height="111.6" fill="#42ffbd"/><rect x="620.6" y="261.6" width="2.8" height="111.6" fill="#0061ff"/><rect x="623.1" y="261.6" width="2.8" height="111.6" fill="#00e5ff"/><rect x="625.6" y="261.6" width="4.3" height="111.6" fill="#bdff42"/><rect x="629.6" y="261.6" width="2.3" height="111.6" fill="#80ff80"/><rect x="631.6" y="261.6" width="3.2" height="111.6" fill="#00a8ff"/><rect x="634.5" y="261.6" width="11.7" height="111.6" fill="#0061ff"/></g>
</g>
</g></g>

<rect x="369.5" y="265.6" width="268.4" height="103.6" fill="none" stroke="#262626" stroke-width="1.4"/>
<path d="M369.5 369.2h3.5M637.9 369.2h-3.5M369.5 359.78h3.5M637.9 359.78h-3.5M369.5 350.36h3.5M637.9 350.36h-3.5M369.5 340.95h3.5M637.9 340.95h-3.5M369.5 331.53h3.5M637.9 331.53h-3.5M369.5 322.11h3.5M637.9 322.11h-3.5M369.5 312.69h3.5M637.9 312.69h-3.5M369.5 303.27h3.5M637.9 303.27h-3.5M369.5 293.85h3.5M637.9 293.85h-3.5M369.5 284.44h3.5M637.9 284.44h-3.5M369.5 275.02h3.5M637.9 275.02h-3.5M369.5 265.6h3.5M637.9 265.6h-3.5M369.9 369.2v-3.6M369.9 265.6v3.6M399.07 369.2v-3.6M399.07 265.6v3.6M428.25 369.2v-3.6M428.25 265.6v3.6M457.42 369.2v-3.6M457.42 265.6v3.6M486.6 369.2v-3.6M486.6 265.6v3.6M515.77 369.2v-3.6M515.77 265.6v3.6M544.94 369.2v-3.6M544.94 265.6v3.6M574.12 369.2v-3.6M574.12 265.6v3.6M603.29 369.2v-3.6M603.29 265.6v3.6M632.47 369.2v-3.6M632.47 265.6v3.6" stroke="#262626" stroke-width="1.2" fill="none"/>

<rect x="649.2" y="265.6" width="16.7" height="103.6" fill="url(#jet)" stroke="#262626" stroke-width="1.2"/>
<path d="M665.9 275.7h-1.5M665.9 292.4h-1.5M665.9 308.7h-1.5M665.9 325.1h-1.5M665.9 342.4h-1.5M665.9 359.2h-1.5" stroke="#262626" stroke-width="1" fill="none"/>

<g clip-path="url(#ci)"><g filter="url(#bl)">
<g transform="translate(0 443.5) skewX(-1.76) translate(0 -443.5)"><rect x="362" y="387.5" width="10.7" height="112" fill="#80ff80"/><rect x="372.4" y="387.5" width="2.8" height="112" fill="#ffc700"/><rect x="374.9" y="387.5" width="6.2" height="112" fill="#bdff42"/><rect x="380.8" y="387.5" width="1.7" height="112" fill="#80ff80"/><rect x="382.2" y="387.5" width="2.3" height="112" fill="#00e5ff"/><rect x="384.2" y="387.5" width="2.7" height="112" fill="#80ff80"/><rect x="386.6" y="387.5" width="2.8" height="112" fill="#bdff42"/><rect x="389.1" y="387.5" width="3.2" height="112" fill="#f0ff0f"/><rect x="392" y="387.5" width="2.3" height="112" fill="#bdff42"/><rect x="394" y="387.5" width="2.7" height="112" fill="#42ffbd"/><rect x="396.4" y="387.5" width="2.3" height="112" fill="#bdff42"/><rect x="398.4" y="387.5" width="3.2" height="112" fill="#42ffbd"/><rect x="401.3" y="387.5" width="2.8" height="112" fill="#80ff80"/><rect x="403.8" y="387.5" width="2.7" height="112" fill="#00e5ff"/><rect x="406.2" y="387.5" width="3.2" height="112" fill="#bdff42"/><rect x="409.1" y="387.5" width="2.3" height="112" fill="#80ff80"/><rect x="411.1" y="387.5" width="3.2" height="112" fill="#42ffbd"/><rect x="414" y="387.5" width="3.3" height="112" fill="#bdff42"/><rect x="417" y="387.5" width="1.3" height="112" fill="#ffc700"/><rect x="418" y="387.5" width="2.2" height="112" fill="#ff8a00"/><rect x="419.9" y="387.5" width="1.8" height="112" fill="#f0ff0f"/><rect x="421.4" y="387.5" width="2.7" height="112" fill="#00e5ff"/><rect x="423.8" y="387.5" width="5.2" height="112" fill="#bdff42"/><rect x="428.7" y="387.5" width="3.2" height="112" fill="#80ff80"/><rect x="431.6" y="387.5" width="2.8" height="112" fill="#bdff42"/><rect x="434.1" y="387.5" width="3.2" height="112" fill="#f0ff0f"/><rect x="437" y="387.5" width="2.3" height="112" fill="#bdff42"/><rect x="439" y="387.5" width="2.7" height="112" fill="#42ffbd"/><rect x="441.4" y="387.5" width="3.2" height="112" fill="#80ff80"/><rect x="444.3" y="387.5" width="2.8" height="112" fill="#42ffbd"/><rect x="446.8" y="387.5" width="3.2" height="112" fill="#f0ff0f"/><rect x="449.7" y="387.5" width="2.8" height="112" fill="#bdff42"/><rect x="452.2" y="387.5" width="2.2" height="112" fill="#80ff80"/><rect x="454.1" y="387.5" width="2.8" height="112" fill="#bdff42"/><rect x="456.6" y="387.5" width="4.2" height="112" fill="#80ff80"/><rect x="460.5" y="387.5" width="2.2" height="112" fill="#bdff42"/><rect x="462.4" y="387.5" width="2.3" height="112" fill="#ffc700"/><rect x="464.4" y="387.5" width="1.8" height="112" fill="#00e5ff"/><rect x="465.9" y="387.5" width="3.7" height="112" fill="#00a8ff"/><rect x="469.3" y="387.5" width="2.2" height="112" fill="#00e5ff"/><rect x="471.2" y="387.5" width="1.3" height="112" fill="#f0ff0f"/><rect x="472.2" y="387.5" width="3.7" height="112" fill="#ff4c00"/><rect x="475.6" y="387.5" width="1.8" height="112" fill="#f0ff0f"/><rect x="477.1" y="387.5" width="1.8" height="112" fill="#00e5ff"/><rect x="478.6" y="387.5" width="2.7" height="112" fill="#42ffbd"/><rect x="481" y="387.5" width="3.3" height="112" fill="#80ff80"/><rect x="484" y="387.5" width="3.2" height="112" fill="#bdff42"/><rect x="486.9" y="387.5" width="3.2" height="112" fill="#42ffbd"/><rect x="489.8" y="387.5" width="3.3" height="112" fill="#42ffbd"/><rect x="492.8" y="387.5" width="3.2" height="112" fill="#00e5ff"/><rect x="495.7" y="387.5" width="2.3" height="112" fill="#00e5ff"/><rect x="497.7" y="387.5" width="4.2" height="112" fill="#00a8ff"/><rect x="501.6" y="387.5" width="2.7" height="112" fill="#00e5ff"/><rect x="504" y="387.5" width="1.3" height="112" fill="#ff8a00"/><rect x="505" y="387.5" width="3.2" height="112" fill="#fa0000"/><rect x="507.9" y="387.5" width="1.8" height="112" fill="#ffc700"/><rect x="509.4" y="387.5" width="1.7" height="112" fill="#bdff42"/><rect x="510.8" y="387.5" width="3.3" height="112" fill="#80ff80"/><rect x="513.8" y="387.5" width="4.2" height="112" fill="#42ffbd"/><rect x="517.7" y="387.5" width="3.2" height="112" fill="#42ffbd"/><rect x="520.6" y="387.5" width="2.8" height="112" fill="#80ff80"/><rect x="523.1" y="387.5" width="1.3" height="112" fill="#f0ff0f"/><rect x="524.1" y="387.5" width="2.2" height="112" fill="#ff8a00"/><rect x="526" y="387.5" width="2.3" height="112" fill="#bdff42"/><rect x="528" y="387.5" width="6.6" height="112" fill="#f0ff0f"/><rect x="534.3" y="387.5" width="2.3" height="112" fill="#ffc700"/><rect x="536.3" y="387.5" width="2.2" height="112" fill="#80ff80"/><rect x="538.2" y="387.5" width="2.3" height="112" fill="#00e5ff"/><rect x="540.2" y="387.5" width="1.8" height="112" fill="#00a8ff"/><rect x="541.7" y="387.5" width="1.7" height="112" fill="#00e5ff"/><rect x="543.1" y="387.5" width="2.8" height="112" fill="#0061ff"/><rect x="545.6" y="387.5" width="1.8" height="112" fill="#00e5ff"/><rect x="547.1" y="387.5" width="1.7" height="112" fill="#f0ff0f"/><rect x="548.5" y="387.5" width="1.8" height="112" fill="#ffc700"/><rect x="550" y="387.5" width="4.2" height="112" fill="#ff8a00"/><rect x="553.9" y="387.5" width="1.3" height="112" fill="#f0ff0f"/><rect x="554.9" y="387.5" width="3.2" height="112" fill="#ff4c00"/><rect x="557.8" y="387.5" width="1.8" height="112" fill="#f0ff0f"/><rect x="559.3" y="387.5" width="1.8" height="112" fill="#80ff80"/><rect x="560.8" y="387.5" width="2.2" height="112" fill="#42ffbd"/><rect x="562.7" y="387.5" width="2.8" height="112" fill="#80ff80"/><rect x="565.2" y="387.5" width="2.2" height="112" fill="#bdff42"/><rect x="567.1" y="387.5" width="4.2" height="112" fill="#80ff80"/><rect x="571" y="387.5" width="1.8" height="112" fill="#00a8ff"/><rect x="572.5" y="387.5" width="3.3" height="112" fill="#00e5ff"/><rect x="575.5" y="387.5" width="2.3" height="112" fill="#ffc700"/><rect x="577.5" y="387.5" width="3.9" height="112" fill="#fa0000"/><rect x="581.1" y="387.5" width="1.8" height="112" fill="#f0ff0f"/><rect x="582.6" y="387.5" width="1.8" height="112" fill="#00e5ff"/><rect x="584.1" y="387.5" width="2.8" height="112" fill="#0061ff"/><rect x="586.6" y="387.5" width="1.8" height="112" fill="#00e5ff"/><rect x="588.1" y="387.5" width="4.3" height="112" fill="#bdff42"/><rect x="592.1" y="387.5" width="3.4" height="112" fill="#f0ff0f"/><rect x="595.2" y="387.5" width="3.3" height="112" fill="#80ff80"/><rect x="598.2" y="387.5" width="3.3" height="112" fill="#bdff42"/><rect x="601.2" y="387.5" width="3.3" height="112" fill="#80ff80"/><rect x="604.2" y="387.5" width="1.8" height="112" fill="#42ffbd"/><rect x="605.7" y="387.5" width="2.4" height="112" fill="#00e5ff"/><rect x="607.8" y="387.5" width="2.3" height="112" fill="#42ffbd"/><rect x="609.8" y="387.5" width="1.8" height="112" fill="#ffc700"/><rect x="611.3" y="387.5" width="3.3" height="112" fill="#ff4c00"/><rect x="614.3" y="387.5" width="1.8" height="112" fill="#ff8a00"/><rect x="615.8" y="387.5" width="2.3" height="112" fill="#fa0000"/><rect x="617.8" y="387.5" width="1.8" height="112" fill="#f0ff0f"/><rect x="619.3" y="387.5" width="3.4" height="112" fill="#80ff80"/><rect x="622.4" y="387.5" width="1.8" height="112" fill="#42ffbd"/><rect x="623.9" y="387.5" width="2.3" height="112" fill="#00a8ff"/><rect x="625.9" y="387.5" width="2.3" height="112" fill="#00e5ff"/><rect x="627.9" y="387.5" width="1.8" height="112" fill="#bdff42"/><rect x="629.4" y="387.5" width="3.8" height="112" fill="#f0ff0f"/><rect x="632.9" y="387.5" width="2.9" height="112" fill="#bdff42"/><rect x="635.5" y="387.5" width="12.6" height="112" fill="#80ff80"/></g>
<g mask="url(#mi)">
<g transform="translate(0 396) skewX(-1.76) translate(0 -396)"><rect x="362" y="387.5" width="12.7" height="112" fill="#80ff80"/><rect x="374.4" y="387.5" width="3.2" height="112" fill="#ff8a00"/><rect x="377.3" y="387.5" width="5.7" height="112" fill="#bdff42"/><rect x="382.7" y="387.5" width="6.2" height="112" fill="#42ffbd"/><rect x="388.6" y="387.5" width="6.2" height="112" fill="#f0ff0f"/><rect x="394.5" y="387.5" width="3.2" height="112" fill="#bdff42"/><rect x="397.4" y="387.5" width="6.2" height="112" fill="#42ffbd"/><rect x="403.3" y="387.5" width="5.2" height="112" fill="#00e5ff"/><rect x="408.2" y="387.5" width="4.2" height="112" fill="#80ff80"/><rect x="412.1" y="387.5" width="6.1" height="112" fill="#bdff42"/><rect x="417.9" y="387.5" width="1.4" height="112" fill="#ffc700"/><rect x="419" y="387.5" width="2.7" height="112" fill="#ff8a00"/><rect x="421.4" y="387.5" width="2.7" height="112" fill="#f0ff0f"/><rect x="423.8" y="387.5" width="4.2" height="112" fill="#42ffbd"/><rect x="427.7" y="387.5" width="5.2" height="112" fill="#bdff42"/><rect x="432.6" y="387.5" width="4.7" height="112" fill="#f0ff0f"/><rect x="437" y="387.5" width="2.3" height="112" fill="#bdff42"/><rect x="439" y="387.5" width="3.2" height="112" fill="#42ffbd"/><rect x="441.9" y="387.5" width="5.7" height="112" fill="#80ff80"/><rect x="447.3" y="387.5" width="5.7" height="112" fill="#f0ff0f"/><rect x="452.7" y="387.5" width="4.2" height="112" fill="#80ff80"/><rect x="456.6" y="387.5" width="10.1" height="112" fill="#bdff42"/><rect x="466.4" y="387.5" width="2.2" height="112" fill="#00e5ff"/><rect x="468.3" y="387.5" width="3.2" height="112" fill="#0061ff"/><rect x="471.2" y="387.5" width="1.1" height="112" fill="#00e5ff"/><rect x="472" y="387.5" width="1" height="112" fill="#ffc700"/><rect x="472.7" y="387.5" width="4.7" height="112" fill="#ff4c00"/><rect x="477.1" y="387.5" width="2.2" height="112" fill="#f0ff0f"/><rect x="479" y="387.5" width="3.3" height="112" fill="#00e5ff"/><rect x="482" y="387.5" width="8.1" height="112" fill="#42ffbd"/><rect x="489.8" y="387.5" width="5.2" height="112" fill="#00e5ff"/><rect x="494.7" y="387.5" width="5.2" height="112" fill="#00a8ff"/><rect x="499.6" y="387.5" width="2.8" height="112" fill="#0061ff"/><rect x="502.1" y="387.5" width="2.2" height="112" fill="#ffc700"/><rect x="504" y="387.5" width="1.8" height="112" fill="#ffc700"/><rect x="505.5" y="387.5" width="4.2" height="112" fill="#ff4c00"/><rect x="509.4" y="387.5" width="2.2" height="112" fill="#ffc700"/><rect x="511.3" y="387.5" width="3.8" height="112" fill="#80ff80"/><rect x="514.8" y="387.5" width="4.2" height="112" fill="#42ffbd"/><rect x="518.7" y="387.5" width="5.2" height="112" fill="#00e5ff"/><rect x="523.6" y="387.5" width="3.2" height="112" fill="#ffc700"/><rect x="526.5" y="387.5" width="7.2" height="112" fill="#f0ff0f"/><rect x="533.4" y="387.5" width="4.2" height="112" fill="#ffc700"/><rect x="537.3" y="387.5" width="2" height="112" fill="#80ff80"/><rect x="539" y="387.5" width="2.5" height="112" fill="#42ffbd"/><rect x="541.2" y="387.5" width="2.2" height="112" fill="#00a8ff"/><rect x="543.1" y="387.5" width="3.3" height="112" fill="#0061ff"/><rect x="546.1" y="387.5" width="1.7" height="112" fill="#00e5ff"/><rect x="547.5" y="387.5" width="1.8" height="112" fill="#f0ff0f"/><rect x="549" y="387.5" width="4.2" height="112" fill="#ff8a00"/><rect x="552.9" y="387.5" width="2.3" height="112" fill="#ffc700"/><rect x="554.9" y="387.5" width="3.2" height="112" fill="#ff4c00"/><rect x="557.8" y="387.5" width="3.3" height="112" fill="#ffc700"/><rect x="560.8" y="387.5" width="4.5" height="112" fill="#42ffbd"/><rect x="565" y="387.5" width="6.3" height="112" fill="#80ff80"/><rect x="571" y="387.5" width="4.3" height="112" fill="#00a8ff"/><rect x="575" y="387.5" width="1.8" height="112" fill="#00e5ff"/><rect x="576.5" y="387.5" width="1.8" height="112" fill="#ffc700"/><rect x="578" y="387.5" width="5.4" height="112" fill="#ff4c00"/><rect x="583.1" y="387.5" width="1.2" height="112" fill="#f0ff0f"/><rect x="584" y="387.5" width="0.9" height="112" fill="#00e5ff"/><rect x="584.6" y="387.5" width="3.3" height="112" fill="#0061ff"/><rect x="587.6" y="387.5" width="2.3" height="112" fill="#00e5ff"/><rect x="589.6" y="387.5" width="2.7" height="112" fill="#bdff42"/><rect x="592" y="387.5" width="3.5" height="112" fill="#f0ff0f"/><rect x="595.2" y="387.5" width="3.3" height="112" fill="#bdff42"/><rect x="598.2" y="387.5" width="6.3" height="112" fill="#80ff80"/><rect x="604.2" y="387.5" width="4.1" height="112" fill="#42ffbd"/><rect x="608" y="387.5" width="3.6" height="112" fill="#bdff42"/><rect x="611.3" y="387.5" width="2.3" height="112" fill="#ff8a00"/><rect x="613.3" y="387.5" width="5.3" height="112" fill="#ff4c00"/><rect x="618.3" y="387.5" width="2.3" height="112" fill="#f0ff0f"/><rect x="620.3" y="387.5" width="2" height="112" fill="#80ff80"/><rect x="622" y="387.5" width="2.7" height="112" fill="#42ffbd"/><rect x="624.4" y="387.5" width="3.3" height="112" fill="#00a8ff"/><rect x="627.4" y="387.5" width="3.3" height="112" fill="#00e5ff"/><rect x="630.4" y="387.5" width="3.8" height="112" fill="#f0ff0f"/><rect x="633.9" y="387.5" width="14.2" height="112" fill="#bdff42"/></g>
</g>
<g mask="url(#ni)">
<g transform="translate(0 491.5) skewX(-1.76) translate(0 -491.5)"><rect x="362" y="387.5" width="10.7" height="112" fill="#ff8a00"/><rect x="372.4" y="387.5" width="2.8" height="112" fill="#f0ff0f"/><rect x="374.9" y="387.5" width="2.7" height="112" fill="#80ff80"/><rect x="377.3" y="387.5" width="2.8" height="112" fill="#bdff42"/><rect x="379.8" y="387.5" width="2.2" height="112" fill="#42ffbd"/><rect x="381.7" y="387.5" width="2.3" height="112" fill="#00a8ff"/><rect x="383.7" y="387.5" width="2.3" height="112" fill="#42ffbd"/><rect x="385.7" y="387.5" width="3.7" height="112" fill="#80ff80"/><rect x="389.1" y="387.5" width="1.7" height="112" fill="#ffc700"/><rect x="390.5" y="387.5" width="3.3" height="112" fill="#80ff80"/><rect x="393.5" y="387.5" width="3.2" height="112" fill="#bdff42"/><rect x="396.4" y="387.5" width="3.3" height="112" fill="#42ffbd"/><rect x="399.4" y="387.5" width="3.2" height="112" fill="#80ff80"/><rect x="402.3" y="387.5" width="4.2" height="112" fill="#00e5ff"/><rect x="406.2" y="387.5" width="3.2" height="112" fill="#42ffbd"/><rect x="409.1" y="387.5" width="3.3" height="112" fill="#bdff42"/><rect x="412.1" y="387.5" width="4.2" height="112" fill="#80ff80"/><rect x="416" y="387.5" width="1.3" height="112" fill="#f0ff0f"/><rect x="417" y="387.5" width="2.2" height="112" fill="#ff8a00"/><rect x="418.9" y="387.5" width="1.8" height="112" fill="#f0ff0f"/><rect x="420.4" y="387.5" width="3.7" height="112" fill="#00e5ff"/><rect x="423.8" y="387.5" width="3.3" height="112" fill="#42ffbd"/><rect x="426.8" y="387.5" width="3.2" height="112" fill="#bdff42"/><rect x="429.7" y="387.5" width="2.2" height="112" fill="#80ff80"/><rect x="431.6" y="387.5" width="3.3" height="112" fill="#ffc700"/><rect x="434.6" y="387.5" width="2.7" height="112" fill="#bdff42"/><rect x="437" y="387.5" width="2.3" height="112" fill="#42ffbd"/><rect x="439" y="387.5" width="2.7" height="112" fill="#00e5ff"/><rect x="441.4" y="387.5" width="5.2" height="112" fill="#80ff80"/><rect x="446.3" y="387.5" width="2.3" height="112" fill="#f0ff0f"/><rect x="448.3" y="387.5" width="2.7" height="112" fill="#80ff80"/><rect x="450.7" y="387.5" width="2.7" height="112" fill="#bdff42"/><rect x="453.1" y="387.5" width="2.8" height="112" fill="#80ff80"/><rect x="455.6" y="387.5" width="2.7" height="112" fill="#42ffbd"/><rect x="458" y="387.5" width="3.3" height="112" fill="#80ff80"/><rect x="461" y="387.5" width="2.7" height="112" fill="#ffc700"/><rect x="463.4" y="387.5" width="2.8" height="112" fill="#42ffbd"/><rect x="465.9" y="387.5" width="2.7" height="112" fill="#00e5ff"/><rect x="468.3" y="387.5" width="2.8" height="112" fill="#42ffbd"/><rect x="470.8" y="387.5" width="3.2" height="112" fill="#ff8a00"/><rect x="473.7" y="387.5" width="2.3" height="112" fill="#f0ff0f"/><rect x="475.7" y="387.5" width="2.7" height="112" fill="#00e5ff"/><rect x="478.1" y="387.5" width="3.2" height="112" fill="#42ffbd"/><rect x="481" y="387.5" width="2.8" height="112" fill="#80ff80"/><rect x="483.5" y="387.5" width="3.7" height="112" fill="#42ffbd"/><rect x="486.9" y="387.5" width="5.2" height="112" fill="#00e5ff"/><rect x="491.8" y="387.5" width="4.2" height="112" fill="#42ffbd"/><rect x="495.7" y="387.5" width="2.3" height="112" fill="#00e5ff"/><rect x="497.7" y="387.5" width="2.2" height="112" fill="#0061ff"/><rect x="499.6" y="387.5" width="2.3" height="112" fill="#00e5ff"/><rect x="501.6" y="387.5" width="2.7" height="112" fill="#42ffbd"/><rect x="504" y="387.5" width="1.3" height="112" fill="#ffc700"/><rect x="505" y="387.5" width="1.7" height="112" fill="#ff4c00"/><rect x="506.4" y="387.5" width="2.3" height="112" fill="#f0ff0f"/><rect x="508.4" y="387.5" width="6.7" height="112" fill="#80ff80"/><rect x="514.8" y="387.5" width="1.7" height="112" fill="#00e5ff"/><rect x="516.2" y="387.5" width="3.8" height="112" fill="#80ff80"/><rect x="519.7" y="387.5" width="3.2" height="112" fill="#42ffbd"/><rect x="522.6" y="387.5" width="2.7" height="112" fill="#ffc700"/><rect x="525" y="387.5" width="3.8" height="112" fill="#bdff42"/><rect x="528.5" y="387.5" width="5.2" height="112" fill="#f0ff0f"/><rect x="533.4" y="387.5" width="2.2" height="112" fill="#ffc700"/><rect x="535.3" y="387.5" width="2.3" height="112" fill="#42ffbd"/><rect x="537.3" y="387.5" width="2.2" height="112" fill="#0061ff"/><rect x="539.2" y="387.5" width="2.8" height="112" fill="#00e5ff"/><rect x="541.7" y="387.5" width="1.7" height="112" fill="#00a8ff"/><rect x="543.1" y="387.5" width="2.3" height="112" fill="#00e5ff"/><rect x="545.1" y="387.5" width="3.2" height="112" fill="#bdff42"/><rect x="548" y="387.5" width="2.3" height="112" fill="#ffc700"/><rect x="550" y="387.5" width="2.2" height="112" fill="#ff8a00"/><rect x="551.9" y="387.5" width="2.3" height="112" fill="#f0ff0f"/><rect x="553.9" y="387.5" width="2.3" height="112" fill="#ff4c00"/><rect x="555.9" y="387.5" width="2.2" height="112" fill="#ffc700"/><rect x="557.8" y="387.5" width="5.2" height="112" fill="#42ffbd"/><rect x="562.7" y="387.5" width="8.6" height="112" fill="#bdff42"/><rect x="571" y="387.5" width="1.8" height="112" fill="#00a8ff"/><rect x="572.5" y="387.5" width="2.8" height="112" fill="#42ffbd"/><rect x="575" y="387.5" width="1.8" height="112" fill="#f0ff0f"/><rect x="576.5" y="387.5" width="2.9" height="112" fill="#ff4c00"/><rect x="579.1" y="387.5" width="3.3" height="112" fill="#42ffbd"/><rect x="582.1" y="387.5" width="1.8" height="112" fill="#00e5ff"/><rect x="583.6" y="387.5" width="2.3" height="112" fill="#00a8ff"/><rect x="585.6" y="387.5" width="1.8" height="112" fill="#00e5ff"/><rect x="587.1" y="387.5" width="2.8" height="112" fill="#f0ff0f"/><rect x="589.6" y="387.5" width="2.3" height="112" fill="#bdff42"/><rect x="591.6" y="387.5" width="1.9" height="112" fill="#ff8a00"/><rect x="593.2" y="387.5" width="5.3" height="112" fill="#80ff80"/><rect x="598.2" y="387.5" width="5.3" height="112" fill="#bdff42"/><rect x="603.2" y="387.5" width="2.8" height="112" fill="#42ffbd"/><rect x="605.7" y="387.5" width="3.4" height="112" fill="#bdff42"/><rect x="608.8" y="387.5" width="2.3" height="112" fill="#ff8a00"/><rect x="610.8" y="387.5" width="2.8" height="112" fill="#ffc700"/><rect x="613.3" y="387.5" width="2.3" height="112" fill="#fa0000"/><rect x="615.3" y="387.5" width="2.3" height="112" fill="#f0ff0f"/><rect x="617.3" y="387.5" width="6.9" height="112" fill="#80ff80"/><rect x="623.9" y="387.5" width="2.3" height="112" fill="#00a8ff"/><rect x="625.9" y="387.5" width="2.8" height="112" fill="#00e5ff"/><rect x="628.4" y="387.5" width="4.3" height="112" fill="#f0ff0f"/><rect x="632.4" y="387.5" width="3.4" height="112" fill="#bdff42"/><rect x="635.5" y="387.5" width="12.6" height="112" fill="#80ff80"/></g>
</g>
</g></g>

<rect x="370" y="391.5" width="269.8" height="104" fill="none" stroke="#262626" stroke-width="1.4"/>
<path d="M370 495.5h3.5M639.8 495.5h-3.5M370 486.05h3.5M639.8 486.05h-3.5M370 476.59h3.5M639.8 476.59h-3.5M370 467.14h3.5M639.8 467.14h-3.5M370 457.68h3.5M639.8 457.68h-3.5M370 448.23h3.5M639.8 448.23h-3.5M370 438.77h3.5M639.8 438.77h-3.5M370 429.32h3.5M639.8 429.32h-3.5M370 419.86h3.5M639.8 419.86h-3.5M370 410.41h3.5M639.8 410.41h-3.5M370 400.95h3.5M639.8 400.95h-3.5M370 391.5h3.5M639.8 391.5h-3.5M370.4 495.5v-3.6M370.4 391.5v3.6M399.73 495.5v-3.6M399.73 391.5v3.6M429.05 495.5v-3.6M429.05 391.5v3.6M458.38 495.5v-3.6M458.38 391.5v3.6M487.7 495.5v-3.6M487.7 391.5v3.6M517.03 495.5v-3.6M517.03 391.5v3.6M546.36 495.5v-3.6M546.36 391.5v3.6M575.68 495.5v-3.6M575.68 391.5v3.6M605.01 495.5v-3.6M605.01 391.5v3.6M634.33 495.5v-3.6M634.33 391.5v3.6" stroke="#262626" stroke-width="1.2" fill="none"/>

<rect x="651.5" y="391.5" width="15.9" height="104" fill="url(#jet)" stroke="#262626" stroke-width="1.2"/>
<path d="M667.4 396.9h-1.5M667.4 412h-1.5M667.4 427.1h-1.5M667.4 442.2h-1.5M667.4 457.2h-1.5M667.4 472h-1.5M667.4 487.1h-1.5" stroke="#262626" stroke-width="1" fill="none"/>

<g clip-path="url(#cj)"><g filter="url(#bl)">
<g transform="translate(0 569) skewX(-1.75) translate(0 -569)"><rect x="362.9" y="512.7" width="10.4" height="112.6" fill="#42ffbd"/><rect x="373" y="512.7" width="3.2" height="112.6" fill="#f0ff0f"/><rect x="375.9" y="512.7" width="2.2" height="112.6" fill="#bdff42"/><rect x="377.8" y="512.7" width="4.3" height="112.6" fill="#bdff42"/><rect x="381.8" y="512.7" width="1.7" height="112.6" fill="#80ff80"/><rect x="383.2" y="512.7" width="2.3" height="112.6" fill="#00e5ff"/><rect x="385.2" y="512.7" width="2.3" height="112.6" fill="#42ffbd"/><rect x="387.2" y="512.7" width="2.7" height="112.6" fill="#80ff80"/><rect x="389.6" y="512.7" width="2.2" height="112.6" fill="#00e5ff"/><rect x="391.5" y="512.7" width="2.3" height="112.6" fill="#42ffbd"/><rect x="393.5" y="512.7" width="2.3" height="112.6" fill="#0061ff"/><rect x="395.5" y="512.7" width="2.7" height="112.6" fill="#00e5ff"/><rect x="397.9" y="512.7" width="2.8" height="112.6" fill="#42ffbd"/><rect x="400.4" y="512.7" width="2.2" height="112.6" fill="#80ff80"/><rect x="402.3" y="512.7" width="2.3" height="112.6" fill="#42ffbd"/><rect x="404.3" y="512.7" width="2.7" height="112.6" fill="#00e5ff"/><rect x="406.7" y="512.7" width="2.3" height="112.6" fill="#80ff80"/><rect x="408.7" y="512.7" width="2.2" height="112.6" fill="#42ffbd"/><rect x="410.6" y="512.7" width="2.8" height="112.6" fill="#80ff80"/><rect x="413.1" y="512.7" width="3.2" height="112.6" fill="#42ffbd"/><rect x="416" y="512.7" width="2.8" height="112.6" fill="#80ff80"/><rect x="418.5" y="512.7" width="2.7" height="112.6" fill="#ffc700"/><rect x="420.9" y="512.7" width="2.3" height="112.6" fill="#bdff42"/><rect x="422.9" y="512.7" width="2.7" height="112.6" fill="#0061ff"/><rect x="425.3" y="512.7" width="2.3" height="112.6" fill="#00e5ff"/><rect x="427.3" y="512.7" width="2.7" height="112.6" fill="#42ffbd"/><rect x="429.7" y="512.7" width="3.2" height="112.6" fill="#80ff80"/><rect x="432.6" y="512.7" width="3.3" height="112.6" fill="#42ffbd"/><rect x="435.6" y="512.7" width="2.7" height="112.6" fill="#80ff80"/><rect x="438" y="512.7" width="2.3" height="112.6" fill="#42ffbd"/><rect x="440" y="512.7" width="3.2" height="112.6" fill="#0061ff"/><rect x="442.9" y="512.7" width="2.2" height="112.6" fill="#00e5ff"/><rect x="444.8" y="512.7" width="3.3" height="112.6" fill="#42ffbd"/><rect x="447.8" y="512.7" width="2.7" height="112.6" fill="#bdff42"/><rect x="450.2" y="512.7" width="2.8" height="112.6" fill="#80ff80"/><rect x="452.7" y="512.7" width="2.7" height="112.6" fill="#00e5ff"/><rect x="455.1" y="512.7" width="2.8" height="112.6" fill="#42ffbd"/><rect x="457.6" y="512.7" width="7.1" height="112.6" fill="#00e5ff"/><rect x="464.4" y="512.7" width="3.3" height="112.6" fill="#00a8ff"/><rect x="467.4" y="512.7" width="3.7" height="112.6" fill="#000fff"/><rect x="470.8" y="512.7" width="1.7" height="112.6" fill="#80ff80"/><rect x="472.2" y="512.7" width="4.3" height="112.6" fill="#f0ff0f"/><rect x="476.2" y="512.7" width="2.2" height="112.6" fill="#80ff80"/><rect x="478.1" y="512.7" width="3.2" height="112.6" fill="#42ffbd"/><rect x="481" y="512.7" width="4.3" height="112.6" fill="#42ffbd"/><rect x="485" y="512.7" width="3.2" height="112.6" fill="#80ff80"/><rect x="487.9" y="512.7" width="3.2" height="112.6" fill="#42ffbd"/><rect x="490.8" y="512.7" width="3.3" height="112.6" fill="#42ffbd"/><rect x="493.8" y="512.7" width="2.2" height="112.6" fill="#00e5ff"/><rect x="495.7" y="512.7" width="7.2" height="112.6" fill="#0061ff"/><rect x="502.6" y="512.7" width="2.7" height="112.6" fill="#00a8ff"/><rect x="505" y="512.7" width="1.3" height="112.6" fill="#ffc700"/><rect x="506" y="512.7" width="3.2" height="112.6" fill="#fa0000"/><rect x="508.9" y="512.7" width="2.3" height="112.6" fill="#ffc700"/><rect x="510.9" y="512.7" width="1.7" height="112.6" fill="#80ff80"/><rect x="512.3" y="512.7" width="3.8" height="112.6" fill="#00e5ff"/><rect x="515.8" y="512.7" width="3.2" height="112.6" fill="#42ffbd"/><rect x="518.7" y="512.7" width="2.3" height="112.6" fill="#00e5ff"/><rect x="520.7" y="512.7" width="3.2" height="112.6" fill="#42ffbd"/><rect x="523.6" y="512.7" width="5.2" height="112.6" fill="#bdff42"/><rect x="528.5" y="512.7" width="3.2" height="112.6" fill="#80ff80"/><rect x="531.4" y="512.7" width="3.3" height="112.6" fill="#42ffbd"/><rect x="534.4" y="512.7" width="2.2" height="112.6" fill="#bdff42"/><rect x="536.3" y="512.7" width="2.3" height="112.6" fill="#f0ff0f"/><rect x="538.3" y="512.7" width="1.7" height="112.6" fill="#00e5ff"/><rect x="539.7" y="512.7" width="1.8" height="112.6" fill="#00a8ff"/><rect x="541.2" y="512.7" width="5.2" height="112.6" fill="#000fff"/><rect x="546.1" y="512.7" width="2.2" height="112.6" fill="#0061ff"/><rect x="548" y="512.7" width="3.3" height="112.6" fill="#80ff80"/><rect x="551" y="512.7" width="2.3" height="112.6" fill="#42ffbd"/><rect x="553" y="512.7" width="3.2" height="112.6" fill="#bdff42"/><rect x="555.9" y="512.7" width="3.2" height="112.6" fill="#f0ff0f"/><rect x="558.8" y="512.7" width="2.3" height="112.6" fill="#80ff80"/><rect x="560.8" y="512.7" width="2.2" height="112.6" fill="#00e5ff"/><rect x="562.7" y="512.7" width="3.3" height="112.6" fill="#0061ff"/><rect x="565.7" y="512.7" width="2.2" height="112.6" fill="#00e5ff"/><rect x="567.6" y="512.7" width="4.7" height="112.6" fill="#0061ff"/><rect x="572" y="512.7" width="1.8" height="112.6" fill="#0061ff"/><rect x="573.5" y="512.7" width="2.9" height="112.6" fill="#00a8ff"/><rect x="576.1" y="512.7" width="2.3" height="112.6" fill="#bdff42"/><rect x="578.1" y="512.7" width="1.9" height="112.6" fill="#ff8a00"/><rect x="579.7" y="512.7" width="2.8" height="112.6" fill="#ffc700"/><rect x="582.2" y="512.7" width="2.4" height="112.6" fill="#00e5ff"/><rect x="584.3" y="512.7" width="4.3" height="112.6" fill="#000fff"/><rect x="588.3" y="512.7" width="2.4" height="112.6" fill="#80ff80"/><rect x="590.4" y="512.7" width="3.9" height="112.6" fill="#bdff42"/><rect x="594" y="512.7" width="3.8" height="112.6" fill="#f0ff0f"/><rect x="597.5" y="512.7" width="1.9" height="112.6" fill="#00e5ff"/><rect x="599.1" y="512.7" width="2.8" height="112.6" fill="#00a8ff"/><rect x="601.6" y="512.7" width="3.4" height="112.6" fill="#42ffbd"/><rect x="604.7" y="512.7" width="2.8" height="112.6" fill="#bdff42"/><rect x="607.2" y="512.7" width="2.9" height="112.6" fill="#42ffbd"/><rect x="609.8" y="512.7" width="1.8" height="112.6" fill="#00a8ff"/><rect x="611.3" y="512.7" width="1.3" height="112.6" fill="#ff8a00"/><rect x="612.3" y="512.7" width="2.9" height="112.6" fill="#fa0000"/><rect x="614.9" y="512.7" width="1.8" height="112.6" fill="#ff8a00"/><rect x="616.4" y="512.7" width="2.4" height="112.6" fill="#ffc700"/><rect x="618.5" y="512.7" width="1.8" height="112.6" fill="#f0ff0f"/><rect x="620" y="512.7" width="3.4" height="112.6" fill="#42ffbd"/><rect x="623.1" y="512.7" width="2.3" height="112.6" fill="#00e5ff"/><rect x="625.1" y="512.7" width="4.4" height="112.6" fill="#000fff"/><rect x="629.2" y="512.7" width="2.3" height="112.6" fill="#80ff80"/><rect x="631.2" y="512.7" width="4.9" height="112.6" fill="#f0ff0f"/><rect x="635.8" y="512.7" width="1.8" height="112.6" fill="#bdff42"/><rect x="637.3" y="512.7" width="12.7" height="112.6" fill="#00e5ff"/></g>
<g mask="url(#mj)">
<g transform="translate(0 521.2) skewX(-1.75) translate(0 -521.2)"><rect x="362.9" y="512.7" width="12.8" height="112.6" fill="#42ffbd"/><rect x="375.4" y="512.7" width="3.2" height="112.6" fill="#f0ff0f"/><rect x="378.3" y="512.7" width="5.7" height="112.6" fill="#bdff42"/><rect x="383.7" y="512.7" width="6.2" height="112.6" fill="#80ff80"/><rect x="389.6" y="512.7" width="2.2" height="112.6" fill="#bdff42"/><rect x="391.5" y="512.7" width="2.8" height="112.6" fill="#42ffbd"/><rect x="394" y="512.7" width="2.3" height="112.6" fill="#00e5ff"/><rect x="396" y="512.7" width="3.7" height="112.6" fill="#0061ff"/><rect x="399.4" y="512.7" width="3.2" height="112.6" fill="#00a8ff"/><rect x="402.3" y="512.7" width="6.2" height="112.6" fill="#00e5ff"/><rect x="408.2" y="512.7" width="6.2" height="112.6" fill="#42ffbd"/><rect x="414.1" y="512.7" width="5.2" height="112.6" fill="#80ff80"/><rect x="419" y="512.7" width="3.7" height="112.6" fill="#f0ff0f"/><rect x="422.4" y="512.7" width="2.7" height="112.6" fill="#bdff42"/><rect x="424.8" y="512.7" width="2.5" height="112.6" fill="#42ffbd"/><rect x="427" y="512.7" width="11.3" height="112.6" fill="#00e5ff"/><rect x="438" y="512.7" width="4.2" height="112.6" fill="#00e5ff"/><rect x="441.9" y="512.7" width="4.2" height="112.6" fill="#0061ff"/><rect x="445.8" y="512.7" width="3.8" height="112.6" fill="#00e5ff"/><rect x="449.3" y="512.7" width="4.7" height="112.6" fill="#bdff42"/><rect x="453.7" y="512.7" width="4.2" height="112.6" fill="#42ffbd"/><rect x="457.6" y="512.7" width="4.2" height="112.6" fill="#00e5ff"/><rect x="461.5" y="512.7" width="6.2" height="112.6" fill="#42ffbd"/><rect x="467.4" y="512.7" width="1.9" height="112.6" fill="#0061ff"/><rect x="469" y="512.7" width="3.1" height="112.6" fill="#000fff"/><rect x="471.8" y="512.7" width="2.2" height="112.6" fill="#00e5ff"/><rect x="473.7" y="512.7" width="4.7" height="112.6" fill="#f0ff0f"/><rect x="478.1" y="512.7" width="3.2" height="112.6" fill="#80ff80"/><rect x="481" y="512.7" width="6.2" height="112.6" fill="#42ffbd"/><rect x="486.9" y="512.7" width="8.2" height="112.6" fill="#80ff80"/><rect x="494.8" y="512.7" width="3.2" height="112.6" fill="#00e5ff"/><rect x="497.7" y="512.7" width="5.7" height="112.6" fill="#0061ff"/><rect x="503.1" y="512.7" width="2.2" height="112.6" fill="#00e5ff"/><rect x="505" y="512.7" width="2.3" height="112.6" fill="#bdff42"/><rect x="507" y="512.7" width="3.7" height="112.6" fill="#fa0000"/><rect x="510.4" y="512.7" width="2.2" height="112.6" fill="#ffc700"/><rect x="512.3" y="512.7" width="3.8" height="112.6" fill="#80ff80"/><rect x="515.8" y="512.7" width="4.2" height="112.6" fill="#42ffbd"/><rect x="519.7" y="512.7" width="5.2" height="112.6" fill="#00e5ff"/><rect x="524.6" y="512.7" width="5.2" height="112.6" fill="#bdff42"/><rect x="529.5" y="512.7" width="5.2" height="112.6" fill="#80ff80"/><rect x="534.4" y="512.7" width="4.7" height="112.6" fill="#bdff42"/><rect x="538.8" y="512.7" width="1" height="112.6" fill="#00e5ff"/><rect x="539.5" y="512.7" width="2" height="112.6" fill="#00a8ff"/><rect x="541.2" y="512.7" width="5.1" height="112.6" fill="#0000bd"/><rect x="546" y="512.7" width="2.4" height="112.6" fill="#000fff"/><rect x="548.1" y="512.7" width="1.7" height="112.6" fill="#00a8ff"/><rect x="549.5" y="512.7" width="1.8" height="112.6" fill="#80ff80"/><rect x="551" y="512.7" width="5.2" height="112.6" fill="#bdff42"/><rect x="555.9" y="512.7" width="4.2" height="112.6" fill="#f0ff0f"/><rect x="559.8" y="512.7" width="2" height="112.6" fill="#80ff80"/><rect x="561.5" y="512.7" width="2.5" height="112.6" fill="#42ffbd"/><rect x="563.7" y="512.7" width="4.2" height="112.6" fill="#0061ff"/><rect x="567.6" y="512.7" width="4.7" height="112.6" fill="#00a8ff"/><rect x="572" y="512.7" width="4.9" height="112.6" fill="#0061ff"/><rect x="576.6" y="512.7" width="1.7" height="112.6" fill="#00e5ff"/><rect x="578" y="512.7" width="1.5" height="112.6" fill="#ffc700"/><rect x="579.2" y="512.7" width="5.4" height="112.6" fill="#ff8a00"/><rect x="584.3" y="512.7" width="1" height="112.6" fill="#f0ff0f"/><rect x="585" y="512.7" width="1.1" height="112.6" fill="#00e5ff"/><rect x="585.8" y="512.7" width="4.4" height="112.6" fill="#000fff"/><rect x="589.9" y="512.7" width="1.8" height="112.6" fill="#00e5ff"/><rect x="591.4" y="512.7" width="2.9" height="112.6" fill="#bdff42"/><rect x="594" y="512.7" width="3.8" height="112.6" fill="#f0ff0f"/><rect x="597.5" y="512.7" width="2.3" height="112.6" fill="#42ffbd"/><rect x="599.5" y="512.7" width="2.4" height="112.6" fill="#00e5ff"/><rect x="601.6" y="512.7" width="3.4" height="112.6" fill="#00a8ff"/><rect x="604.7" y="512.7" width="2.1" height="112.6" fill="#80ff80"/><rect x="606.5" y="512.7" width="3.6" height="112.6" fill="#bdff42"/><rect x="609.8" y="512.7" width="2.5" height="112.6" fill="#42ffbd"/><rect x="612" y="512.7" width="1.3" height="112.6" fill="#00e5ff"/><rect x="613" y="512.7" width="2.2" height="112.6" fill="#ff8a00"/><rect x="614.9" y="512.7" width="3.4" height="112.6" fill="#ff4c00"/><rect x="618" y="512.7" width="2.3" height="112.6" fill="#ffc700"/><rect x="620" y="512.7" width="1.8" height="112.6" fill="#80ff80"/><rect x="621.5" y="512.7" width="1.9" height="112.6" fill="#42ffbd"/><rect x="623.1" y="512.7" width="3.3" height="112.6" fill="#00e5ff"/><rect x="626.1" y="512.7" width="4.9" height="112.6" fill="#000fff"/><rect x="630.7" y="512.7" width="2.9" height="112.6" fill="#00e5ff"/><rect x="633.3" y="512.7" width="5.4" height="112.6" fill="#f0ff0f"/><rect x="638.4" y="512.7" width="11.6" height="112.6" fill="#00e5ff"/></g>
</g>
<g mask="url(#nj)">
<g transform="translate(0 617.3) skewX(-1.75) translate(0 -617.3)"><rect x="362.9" y="512.7" width="12.8" height="112.6" fill="#f0ff0f"/><rect x="375.4" y="512.7" width="2.7" height="112.6" fill="#bdff42"/><rect x="377.8" y="512.7" width="3.3" height="112.6" fill="#00e5ff"/><rect x="380.8" y="512.7" width="2.7" height="112.6" fill="#bdff42"/><rect x="383.2" y="512.7" width="2.3" height="112.6" fill="#00a8ff"/><rect x="385.2" y="512.7" width="3.2" height="112.6" fill="#42ffbd"/><rect x="388.1" y="512.7" width="2.8" height="112.6" fill="#00e5ff"/><rect x="390.6" y="512.7" width="2.2" height="112.6" fill="#42ffbd"/><rect x="392.5" y="512.7" width="2.8" height="112.6" fill="#0061ff"/><rect x="395" y="512.7" width="2.7" height="112.6" fill="#00e5ff"/><rect x="397.4" y="512.7" width="3.3" height="112.6" fill="#00a8ff"/><rect x="400.4" y="512.7" width="2.2" height="112.6" fill="#80ff80"/><rect x="402.3" y="512.7" width="6.2" height="112.6" fill="#00e5ff"/><rect x="408.2" y="512.7" width="4.2" height="112.6" fill="#42ffbd"/><rect x="412.1" y="512.7" width="5.2" height="112.6" fill="#00e5ff"/><rect x="417" y="512.7" width="2.2" height="112.6" fill="#bdff42"/><rect x="418.9" y="512.7" width="1.8" height="112.6" fill="#ffc700"/><rect x="420.4" y="512.7" width="1.8" height="112.6" fill="#f0ff0f"/><rect x="421.9" y="512.7" width="3.2" height="112.6" fill="#00a8ff"/><rect x="424.8" y="512.7" width="3.3" height="112.6" fill="#42ffbd"/><rect x="427.8" y="512.7" width="3.2" height="112.6" fill="#00e5ff"/><rect x="430.7" y="512.7" width="3.2" height="112.6" fill="#80ff80"/><rect x="433.6" y="512.7" width="4.7" height="112.6" fill="#42ffbd"/><rect x="438" y="512.7" width="4.2" height="112.6" fill="#0061ff"/><rect x="441.9" y="512.7" width="3.2" height="112.6" fill="#00e5ff"/><rect x="444.8" y="512.7" width="4.3" height="112.6" fill="#bdff42"/><rect x="448.8" y="512.7" width="3.2" height="112.6" fill="#42ffbd"/><rect x="451.7" y="512.7" width="3.2" height="112.6" fill="#00e5ff"/><rect x="454.6" y="512.7" width="3.3" height="112.6" fill="#42ffbd"/><rect x="457.6" y="512.7" width="4.2" height="112.6" fill="#00e5ff"/><rect x="461.5" y="512.7" width="3.2" height="112.6" fill="#bdff42"/><rect x="464.4" y="512.7" width="3.3" height="112.6" fill="#00e5ff"/><rect x="467.4" y="512.7" width="3.2" height="112.6" fill="#000fff"/><rect x="470.3" y="512.7" width="1.8" height="112.6" fill="#00e5ff"/><rect x="471.8" y="512.7" width="3.7" height="112.6" fill="#f0ff0f"/><rect x="475.2" y="512.7" width="2.2" height="112.6" fill="#80ff80"/><rect x="477.1" y="512.7" width="4.2" height="112.6" fill="#00e5ff"/><rect x="481" y="512.7" width="8.2" height="112.6" fill="#42ffbd"/><rect x="488.9" y="512.7" width="4.2" height="112.6" fill="#bdff42"/><rect x="492.8" y="512.7" width="3.2" height="112.6" fill="#00e5ff"/><rect x="495.7" y="512.7" width="4.2" height="112.6" fill="#00a8ff"/><rect x="499.6" y="512.7" width="4.3" height="112.6" fill="#0061ff"/><rect x="503.6" y="512.7" width="1.7" height="112.6" fill="#ff8a00"/><rect x="505" y="512.7" width="2.3" height="112.6" fill="#ff4c00"/><rect x="507" y="512.7" width="2.2" height="112.6" fill="#f0ff0f"/><rect x="508.9" y="512.7" width="3.2" height="112.6" fill="#42ffbd"/><rect x="511.8" y="512.7" width="3.3" height="112.6" fill="#00e5ff"/><rect x="514.8" y="512.7" width="2.7" height="112.6" fill="#42ffbd"/><rect x="517.2" y="512.7" width="5.2" height="112.6" fill="#00e5ff"/><rect x="522.1" y="512.7" width="5.7" height="112.6" fill="#bdff42"/><rect x="527.5" y="512.7" width="3.2" height="112.6" fill="#42ffbd"/><rect x="530.4" y="512.7" width="3.3" height="112.6" fill="#bdff42"/><rect x="533.4" y="512.7" width="2.2" height="112.6" fill="#ffc700"/><rect x="535.3" y="512.7" width="3.3" height="112.6" fill="#42ffbd"/><rect x="538.3" y="512.7" width="2.2" height="112.6" fill="#00a8ff"/><rect x="540.2" y="512.7" width="3.7" height="112.6" fill="#000fff"/><rect x="543.6" y="512.7" width="2.8" height="112.6" fill="#0061ff"/><rect x="546.1" y="512.7" width="3.2" height="112.6" fill="#00e5ff"/><rect x="549" y="512.7" width="3.3" height="112.6" fill="#42ffbd"/><rect x="552" y="512.7" width="3.2" height="112.6" fill="#bdff42"/><rect x="554.9" y="512.7" width="3.2" height="112.6" fill="#f0ff0f"/><rect x="557.8" y="512.7" width="3.3" height="112.6" fill="#42ffbd"/><rect x="560.8" y="512.7" width="3.2" height="112.6" fill="#00a8ff"/><rect x="563.7" y="512.7" width="4.2" height="112.6" fill="#0061ff"/><rect x="567.6" y="512.7" width="4.7" height="112.6" fill="#00e5ff"/><rect x="572" y="512.7" width="1.8" height="112.6" fill="#0061ff"/><rect x="573.5" y="512.7" width="3.4" height="112.6" fill="#00e5ff"/><rect x="576.6" y="512.7" width="1.8" height="112.6" fill="#bdff42"/><rect x="578.1" y="512.7" width="2.4" height="112.6" fill="#ff8a00"/><rect x="580.2" y="512.7" width="3.3" height="112.6" fill="#42ffbd"/><rect x="583.2" y="512.7" width="1.4" height="112.6" fill="#00a8ff"/><rect x="584.3" y="512.7" width="3.3" height="112.6" fill="#000fff"/><rect x="587.3" y="512.7" width="2.4" height="112.6" fill="#42ffbd"/><rect x="589.4" y="512.7" width="2.3" height="112.6" fill="#bdff42"/><rect x="591.4" y="512.7" width="2.4" height="112.6" fill="#f0ff0f"/><rect x="593.5" y="512.7" width="2.3" height="112.6" fill="#ffc700"/><rect x="595.5" y="512.7" width="2.3" height="112.6" fill="#42ffbd"/><rect x="597.5" y="512.7" width="4.4" height="112.6" fill="#00e5ff"/><rect x="601.6" y="512.7" width="3.4" height="112.6" fill="#42ffbd"/><rect x="604.7" y="512.7" width="2.3" height="112.6" fill="#bdff42"/><rect x="606.7" y="512.7" width="2.9" height="112.6" fill="#42ffbd"/><rect x="609.3" y="512.7" width="1.8" height="112.6" fill="#f0ff0f"/><rect x="610.8" y="512.7" width="2.4" height="112.6" fill="#fa0000"/><rect x="612.9" y="512.7" width="2.3" height="112.6" fill="#ff8a00"/><rect x="614.9" y="512.7" width="2.3" height="112.6" fill="#ffc700"/><rect x="616.9" y="512.7" width="3.4" height="112.6" fill="#80ff80"/><rect x="620" y="512.7" width="4.4" height="112.6" fill="#42ffbd"/><rect x="624.1" y="512.7" width="2.3" height="112.6" fill="#00a8ff"/><rect x="626.1" y="512.7" width="2.4" height="112.6" fill="#000fff"/><rect x="628.2" y="512.7" width="3.3" height="112.6" fill="#42ffbd"/><rect x="631.2" y="512.7" width="3.4" height="112.6" fill="#bdff42"/><rect x="634.3" y="512.7" width="2.4" height="112.6" fill="#00a8ff"/><rect x="636.4" y="512.7" width="13.6" height="112.6" fill="#00e5ff"/></g>
</g>
</g></g>

<rect x="370.9" y="516.7" width="270.8" height="104.6" fill="none" stroke="#262626" stroke-width="1.4"/>
<path d="M370.9 621.3h3.5M641.7 621.3h-3.5M370.9 611.79h3.5M641.7 611.79h-3.5M370.9 602.28h3.5M641.7 602.28h-3.5M370.9 592.77h3.5M641.7 592.77h-3.5M370.9 583.26h3.5M641.7 583.26h-3.5M370.9 573.75h3.5M641.7 573.75h-3.5M370.9 564.25h3.5M641.7 564.25h-3.5M370.9 554.74h3.5M641.7 554.74h-3.5M370.9 545.23h3.5M641.7 545.23h-3.5M370.9 535.72h3.5M641.7 535.72h-3.5M370.9 526.21h3.5M641.7 526.21h-3.5M370.9 516.7h3.5M641.7 516.7h-3.5M371.3 621.3v-3.6M371.3 516.7v3.6M400.73 621.3v-3.6M400.73 516.7v3.6M430.17 621.3v-3.6M430.17 516.7v3.6M459.6 621.3v-3.6M459.6 516.7v3.6M489.04 621.3v-3.6M489.04 516.7v3.6M518.47 621.3v-3.6M518.47 516.7v3.6M547.91 621.3v-3.6M547.91 516.7v3.6M577.34 621.3v-3.6M577.34 516.7v3.6M606.78 621.3v-3.6M606.78 516.7v3.6M636.21 621.3v-3.6M636.21 516.7v3.6" stroke="#262626" stroke-width="1.2" fill="none"/>

<rect x="653.4" y="516.7" width="16.3" height="104.6" fill="url(#jet)" stroke="#262626" stroke-width="1.2"/>
<path d="M669.7 528.2h-1.5M669.7 544.6h-1.5M669.7 560.5h-1.5M669.7 576.8h-1.5M669.7 593.4h-1.5M669.7 609.8h-1.5" stroke="#262626" stroke-width="1" fill="none"/>

<g font-family="Liberation Serif" fill="#1e1e1e" stroke="#1e1e1e" stroke-width="0.45" filter="url(#tb)">
<text x="168.5" y="14.3" font-size="15" stroke-width="0.2" text-anchor="middle">SPEI</text>
<text x="509.4" y="13.9" font-size="15" stroke-width="0.2" text-anchor="middle">SRI</text>
<text x="36.6" y="37.1" font-size="14.3" stroke-width="0.2">(a)Jianxi</text>
<g font-weight="bold" font-size="9.3"><text x="23.1" y="125.6" text-anchor="end">1</text><text x="23.1" y="116.24" text-anchor="end">2</text><text x="23.1" y="106.87" text-anchor="end">3</text><text x="23.1" y="97.51" text-anchor="end">4</text><text x="23.1" y="88.15" text-anchor="end">5</text><text x="23.1" y="78.78" text-anchor="end">6</text><text x="23.1" y="69.42" text-anchor="end">7</text><text x="23.1" y="60.05" text-anchor="end">8</text><text x="23.1" y="50.69" text-anchor="end">9</text><text x="23.1" y="41.33" text-anchor="end">10</text><text x="23.1" y="31.96" text-anchor="end">11</text><text x="23.1" y="22.6" text-anchor="end">12</text><text x="27.6" y="135.2" text-anchor="middle">1975</text><text x="56.67" y="135.2" text-anchor="middle">1980</text><text x="85.73" y="135.2" text-anchor="middle">1985</text><text x="114.8" y="135.2" text-anchor="middle">1990</text><text x="143.86" y="135.2" text-anchor="middle">1995</text><text x="172.93" y="135.2" text-anchor="middle">2000</text><text x="201.99" y="135.2" text-anchor="middle">2005</text><text x="231.06" y="135.2" text-anchor="middle">2010</text><text x="260.12" y="135.2" text-anchor="middle">2015</text><text x="289.19" y="135.2" text-anchor="middle">2020</text><text x="325.5" y="32.1">2</text><text x="325.5" y="53.6">1</text><text x="325.5" y="74.6">0</text><text x="325.5" y="96.1">-1</text><text x="325.5" y="117.5">-2</text></g>
<text x="8.5" y="70.7" font-size="10.7" font-weight="bold" text-anchor="middle" transform="rotate(-90 8.5 70.7)">Time Scale(month)</text>
<text x="36.8" y="160.4" font-size="14.3" stroke-width="0.2">(b)Futunxi</text>
<g font-weight="bold" font-size="9.3"><text x="23.5" y="247.7" text-anchor="end">1</text><text x="23.5" y="238.33" text-anchor="end">2</text><text x="23.5" y="228.95" text-anchor="end">3</text><text x="23.5" y="219.58" text-anchor="end">4</text><text x="23.5" y="210.21" text-anchor="end">5</text><text x="23.5" y="200.84" text-anchor="end">6</text><text x="23.5" y="191.46" text-anchor="end">7</text><text x="23.5" y="182.09" text-anchor="end">8</text><text x="23.5" y="172.72" text-anchor="end">9</text><text x="23.5" y="163.35" text-anchor="end">10</text><text x="23.5" y="153.97" text-anchor="end">11</text><text x="23.5" y="144.6" text-anchor="end">12</text><text x="28" y="257.3" text-anchor="middle">1975</text><text x="57.02" y="257.3" text-anchor="middle">1980</text><text x="86.04" y="257.3" text-anchor="middle">1985</text><text x="115.07" y="257.3" text-anchor="middle">1990</text><text x="144.09" y="257.3" text-anchor="middle">1995</text><text x="173.11" y="257.3" text-anchor="middle">2000</text><text x="202.13" y="257.3" text-anchor="middle">2005</text><text x="231.15" y="257.3" text-anchor="middle">2010</text><text x="260.17" y="257.3" text-anchor="middle">2015</text><text x="289.2" y="257.3" text-anchor="middle">2020</text><text x="325.7" y="155.1">2</text><text x="325.7" y="177.1">1</text><text x="325.7" y="199.1">0</text><text x="325.7" y="221.1">-1</text><text x="325.7" y="243.1">-2</text></g>
<text x="8.9" y="192.75" font-size="10.7" font-weight="bold" text-anchor="middle" transform="rotate(-90 8.9 192.75)">Time Scale(month)</text>
<text x="39.7" y="283.9" font-size="14.3" stroke-width="0.2">(c)Shaxi</text>
<g font-weight="bold" font-size="9.3"><text x="24.1" y="370.6" text-anchor="end">1</text><text x="24.1" y="361.2" text-anchor="end">2</text><text x="24.1" y="351.8" text-anchor="end">3</text><text x="24.1" y="342.4" text-anchor="end">4</text><text x="24.1" y="333" text-anchor="end">5</text><text x="24.1" y="323.6" text-anchor="end">6</text><text x="24.1" y="314.2" text-anchor="end">7</text><text x="24.1" y="304.8" text-anchor="end">8</text><text x="24.1" y="295.4" text-anchor="end">9</text><text x="24.1" y="286" text-anchor="end">10</text><text x="24.1" y="276.6" text-anchor="end">11</text><text x="24.1" y="267.2" text-anchor="end">12</text><text x="28.6" y="380.2" text-anchor="middle">1975</text><text x="57.77" y="380.2" text-anchor="middle">1980</text><text x="86.95" y="380.2" text-anchor="middle">1985</text><text x="116.12" y="380.2" text-anchor="middle">1990</text><text x="145.3" y="380.2" text-anchor="middle">1995</text><text x="174.47" y="380.2" text-anchor="middle">2000</text><text x="203.64" y="380.2" text-anchor="middle">2005</text><text x="232.82" y="380.2" text-anchor="middle">2010</text><text x="261.99" y="380.2" text-anchor="middle">2015</text><text x="291.17" y="380.2" text-anchor="middle">2020</text><text x="327.6" y="272.9">2</text><text x="327.6" y="294.3">1</text><text x="327.6" y="315.1">0</text><text x="327.6" y="336.8">-1</text><text x="327.6" y="358.3">-2</text></g>
<text x="9.5" y="315.5" font-size="10.7" font-weight="bold" text-anchor="middle" transform="rotate(-90 9.5 315.5)">Time Scale(month)</text>
<text x="37" y="409" font-size="14.3" stroke-width="0.2">(d)Mainstream</text>
<g font-weight="bold" font-size="9.3"><text x="24.4" y="496.5" text-anchor="end">1</text><text x="24.4" y="487.1" text-anchor="end">2</text><text x="24.4" y="477.7" text-anchor="end">3</text><text x="24.4" y="468.3" text-anchor="end">4</text><text x="24.4" y="458.9" text-anchor="end">5</text><text x="24.4" y="449.5" text-anchor="end">6</text><text x="24.4" y="440.1" text-anchor="end">7</text><text x="24.4" y="430.7" text-anchor="end">8</text><text x="24.4" y="421.3" text-anchor="end">9</text><text x="24.4" y="411.9" text-anchor="end">10</text><text x="24.4" y="402.5" text-anchor="end">11</text><text x="24.4" y="393.1" text-anchor="end">12</text><text x="28.9" y="506.1" text-anchor="middle">1975</text><text x="58.12" y="506.1" text-anchor="middle">1980</text><text x="87.33" y="506.1" text-anchor="middle">1985</text><text x="116.55" y="506.1" text-anchor="middle">1990</text><text x="145.77" y="506.1" text-anchor="middle">1995</text><text x="174.99" y="506.1" text-anchor="middle">2000</text><text x="204.2" y="506.1" text-anchor="middle">2005</text><text x="233.42" y="506.1" text-anchor="middle">2010</text><text x="262.64" y="506.1" text-anchor="middle">2015</text><text x="291.86" y="506.1" text-anchor="middle">2020</text><text x="328.4" y="400.1">2</text><text x="328.4" y="422.1">1</text><text x="328.4" y="444.4">0</text><text x="328.4" y="466.7">-1</text><text x="328.4" y="488.7">-2</text></g>
<text x="9.8" y="441.4" font-size="10.7" font-weight="bold" text-anchor="middle" transform="rotate(-90 9.8 441.4)">Time Scale(month)</text>
<text x="36.4" y="535.9" font-size="14.3" stroke-width="0.2">(e)Minjiang</text>
<g font-weight="bold" font-size="9.3"><text x="25.1" y="622.1" text-anchor="end">1</text><text x="25.1" y="612.68" text-anchor="end">2</text><text x="25.1" y="603.26" text-anchor="end">3</text><text x="25.1" y="593.85" text-anchor="end">4</text><text x="25.1" y="584.43" text-anchor="end">5</text><text x="25.1" y="575.01" text-anchor="end">6</text><text x="25.1" y="565.59" text-anchor="end">7</text><text x="25.1" y="556.17" text-anchor="end">8</text><text x="25.1" y="546.75" text-anchor="end">9</text><text x="25.1" y="537.34" text-anchor="end">10</text><text x="25.1" y="527.92" text-anchor="end">11</text><text x="25.1" y="518.5" text-anchor="end">12</text><text x="29.6" y="631.7" text-anchor="middle">1975</text><text x="58.93" y="631.7" text-anchor="middle">1980</text><text x="88.25" y="631.7" text-anchor="middle">1985</text><text x="117.58" y="631.7" text-anchor="middle">1990</text><text x="146.9" y="631.7" text-anchor="middle">1995</text><text x="176.23" y="631.7" text-anchor="middle">2000</text><text x="205.56" y="631.7" text-anchor="middle">2005</text><text x="234.88" y="631.7" text-anchor="middle">2010</text><text x="264.21" y="631.7" text-anchor="middle">2015</text><text x="293.53" y="631.7" text-anchor="middle">2020</text><text x="330.1" y="526.2">2</text><text x="330.1" y="548.8">1</text><text x="330.1" y="571.7">0</text><text x="330.1" y="595.4">-1</text><text x="330.1" y="618.5">-2</text></g>
<text x="10.5" y="566.9" font-size="10.7" font-weight="bold" text-anchor="middle" transform="rotate(-90 10.5 566.9)">Time Scale(month)</text>
<text x="376.6" y="36.9" font-size="14.3" stroke-width="0.2">(f) Jianxi</text>
<g font-weight="bold" font-size="9.3"><text x="362" y="125.4" text-anchor="end">1</text><text x="362" y="115.97" text-anchor="end">2</text><text x="362" y="106.55" text-anchor="end">3</text><text x="362" y="97.12" text-anchor="end">4</text><text x="362" y="87.69" text-anchor="end">5</text><text x="362" y="78.26" text-anchor="end">6</text><text x="362" y="68.84" text-anchor="end">7</text><text x="362" y="59.41" text-anchor="end">8</text><text x="362" y="49.98" text-anchor="end">9</text><text x="362" y="40.55" text-anchor="end">10</text><text x="362" y="31.13" text-anchor="end">11</text><text x="362" y="21.7" text-anchor="end">12</text><text x="366.5" y="135" text-anchor="middle">1975</text><text x="395.7" y="135" text-anchor="middle">1980</text><text x="424.89" y="135" text-anchor="middle">1985</text><text x="454.09" y="135" text-anchor="middle">1990</text><text x="483.28" y="135" text-anchor="middle">1995</text><text x="512.48" y="135" text-anchor="middle">2000</text><text x="541.67" y="135" text-anchor="middle">2005</text><text x="570.87" y="135" text-anchor="middle">2010</text><text x="600.07" y="135" text-anchor="middle">2015</text><text x="629.26" y="135" text-anchor="middle">2020</text><text x="665" y="29.5">3</text><text x="665" y="46.4">2</text><text x="665" y="63.1">1</text><text x="665" y="80.1">0</text><text x="665" y="97">-1</text><text x="665" y="114">-2</text></g>
<text x="347.4" y="70.15" font-size="10.7" font-weight="bold" text-anchor="middle" transform="rotate(-90 347.4 70.15)">Time Scale(month)</text>
<text x="379.3" y="160.4" font-size="14.3" stroke-width="0.2">(g)Futunxi</text>
<g font-weight="bold" font-size="9.3"><text x="365.3" y="246.8" text-anchor="end">1</text><text x="365.3" y="237.37" text-anchor="end">2</text><text x="365.3" y="227.95" text-anchor="end">3</text><text x="365.3" y="218.52" text-anchor="end">4</text><text x="365.3" y="209.09" text-anchor="end">5</text><text x="365.3" y="199.66" text-anchor="end">6</text><text x="365.3" y="190.24" text-anchor="end">7</text><text x="365.3" y="180.81" text-anchor="end">8</text><text x="365.3" y="171.38" text-anchor="end">9</text><text x="365.3" y="161.95" text-anchor="end">10</text><text x="365.3" y="152.53" text-anchor="end">11</text><text x="365.3" y="143.1" text-anchor="end">12</text><text x="369.8" y="256.4" text-anchor="middle">1975</text><text x="398.95" y="256.4" text-anchor="middle">1980</text><text x="428.1" y="256.4" text-anchor="middle">1985</text><text x="457.26" y="256.4" text-anchor="middle">1990</text><text x="486.41" y="256.4" text-anchor="middle">1995</text><text x="515.56" y="256.4" text-anchor="middle">2000</text><text x="544.71" y="256.4" text-anchor="middle">2005</text><text x="573.87" y="256.4" text-anchor="middle">2010</text><text x="603.02" y="256.4" text-anchor="middle">2015</text><text x="632.17" y="256.4" text-anchor="middle">2020</text><text x="668.5" y="153.2">3</text><text x="668.5" y="169.8">2</text><text x="668.5" y="186.1">1</text><text x="668.5" y="202.2">0</text><text x="668.5" y="219.4">-1</text><text x="668.5" y="236">-2</text></g>
<text x="350.7" y="191.55" font-size="10.7" font-weight="bold" text-anchor="middle" transform="rotate(-90 350.7 191.55)">Time Scale(month)</text>
<text x="380.7" y="284.4" font-size="14.3" stroke-width="0.2">(h)Shaxi</text>
<g font-weight="bold" font-size="9.3"><text x="365.6" y="372.3" text-anchor="end">1</text><text x="365.6" y="362.88" text-anchor="end">2</text><text x="365.6" y="353.46" text-anchor="end">3</text><text x="365.6" y="344.05" text-anchor="end">4</text><text x="365.6" y="334.63" text-anchor="end">5</text><text x="365.6" y="325.21" text-anchor="end">6</text><text x="365.6" y="315.79" text-anchor="end">7</text><text x="365.6" y="306.37" text-anchor="end">8</text><text x="365.6" y="296.95" text-anchor="end">9</text><text x="365.6" y="287.54" text-anchor="end">10</text><text x="365.6" y="278.12" text-anchor="end">11</text><text x="365.6" y="268.7" text-anchor="end">12</text><text x="370.1" y="381.9" text-anchor="middle">1975</text><text x="399.27" y="381.9" text-anchor="middle">1980</text><text x="428.45" y="381.9" text-anchor="middle">1985</text><text x="457.62" y="381.9" text-anchor="middle">1990</text><text x="486.8" y="381.9" text-anchor="middle">1995</text><text x="515.97" y="381.9" text-anchor="middle">2000</text><text x="545.14" y="381.9" text-anchor="middle">2005</text><text x="574.32" y="381.9" text-anchor="middle">2010</text><text x="603.49" y="381.9" text-anchor="middle">2015</text><text x="632.67" y="381.9" text-anchor="middle">2020</text><text x="669.7" y="278.8">3</text><text x="669.7" y="295.5">2</text><text x="669.7" y="311.8">1</text><text x="669.7" y="328.2">0</text><text x="669.7" y="345.5">-1</text><text x="669.7" y="362.3">-2</text></g>
<text x="351" y="317.1" font-size="10.7" font-weight="bold" text-anchor="middle" transform="rotate(-90 351 317.1)">Time Scale(month)</text>
<text x="381" y="410.7" font-size="14.3" stroke-width="0.2">(i)Mainstream</text>
<g font-weight="bold" font-size="9.3"><text x="366.1" y="498.6" text-anchor="end">1</text><text x="366.1" y="489.15" text-anchor="end">2</text><text x="366.1" y="479.69" text-anchor="end">3</text><text x="366.1" y="470.24" text-anchor="end">4</text><text x="366.1" y="460.78" text-anchor="end">5</text><text x="366.1" y="451.33" text-anchor="end">6</text><text x="366.1" y="441.87" text-anchor="end">7</text><text x="366.1" y="432.42" text-anchor="end">8</text><text x="366.1" y="422.96" text-anchor="end">9</text><text x="366.1" y="413.51" text-anchor="end">10</text><text x="366.1" y="404.05" text-anchor="end">11</text><text x="366.1" y="394.6" text-anchor="end">12</text><text x="370.6" y="508.2" text-anchor="middle">1975</text><text x="399.93" y="508.2" text-anchor="middle">1980</text><text x="429.25" y="508.2" text-anchor="middle">1985</text><text x="458.58" y="508.2" text-anchor="middle">1990</text><text x="487.9" y="508.2" text-anchor="middle">1995</text><text x="517.23" y="508.2" text-anchor="middle">2000</text><text x="546.56" y="508.2" text-anchor="middle">2005</text><text x="575.88" y="508.2" text-anchor="middle">2010</text><text x="605.21" y="508.2" text-anchor="middle">2015</text><text x="634.53" y="508.2" text-anchor="middle">2020</text><text x="671.2" y="400">3</text><text x="671.2" y="415.1">2</text><text x="671.2" y="430.2">1</text><text x="671.2" y="445.3">0</text><text x="671.2" y="460.3">-1</text><text x="671.2" y="475.1">-2</text><text x="671.2" y="490.2">-3</text></g>
<text x="351.5" y="443.2" font-size="10.7" font-weight="bold" text-anchor="middle" transform="rotate(-90 351.5 443.2)">Time Scale(month)</text>
<text x="380.7" y="534.9" font-size="14.3" stroke-width="0.2">(j)Minjiang</text>
<g font-weight="bold" font-size="9.3"><text x="367" y="624.4" text-anchor="end">1</text><text x="367" y="614.89" text-anchor="end">2</text><text x="367" y="605.38" text-anchor="end">3</text><text x="367" y="595.87" text-anchor="end">4</text><text x="367" y="586.36" text-anchor="end">5</text><text x="367" y="576.85" text-anchor="end">6</text><text x="367" y="567.35" text-anchor="end">7</text><text x="367" y="557.84" text-anchor="end">8</text><text x="367" y="548.33" text-anchor="end">9</text><text x="367" y="538.82" text-anchor="end">10</text><text x="367" y="529.31" text-anchor="end">11</text><text x="367" y="519.8" text-anchor="end">12</text><text x="371.5" y="634" text-anchor="middle">1975</text><text x="400.93" y="634" text-anchor="middle">1980</text><text x="430.37" y="634" text-anchor="middle">1985</text><text x="459.8" y="634" text-anchor="middle">1990</text><text x="489.24" y="634" text-anchor="middle">1995</text><text x="518.67" y="634" text-anchor="middle">2000</text><text x="548.11" y="634" text-anchor="middle">2005</text><text x="577.54" y="634" text-anchor="middle">2010</text><text x="606.98" y="634" text-anchor="middle">2015</text><text x="636.41" y="634" text-anchor="middle">2020</text><text x="673.5" y="531.3">3</text><text x="673.5" y="547.7">2</text><text x="673.5" y="563.6">1</text><text x="673.5" y="579.9">0</text><text x="673.5" y="596.5">-1</text><text x="673.5" y="612.9">-2</text></g>
<text x="352.4" y="568.7" font-size="10.7" font-weight="bold" text-anchor="middle" transform="rotate(-90 352.4 568.7)">Time Scale(month)</text>
</g>
</svg>
</body></html>
